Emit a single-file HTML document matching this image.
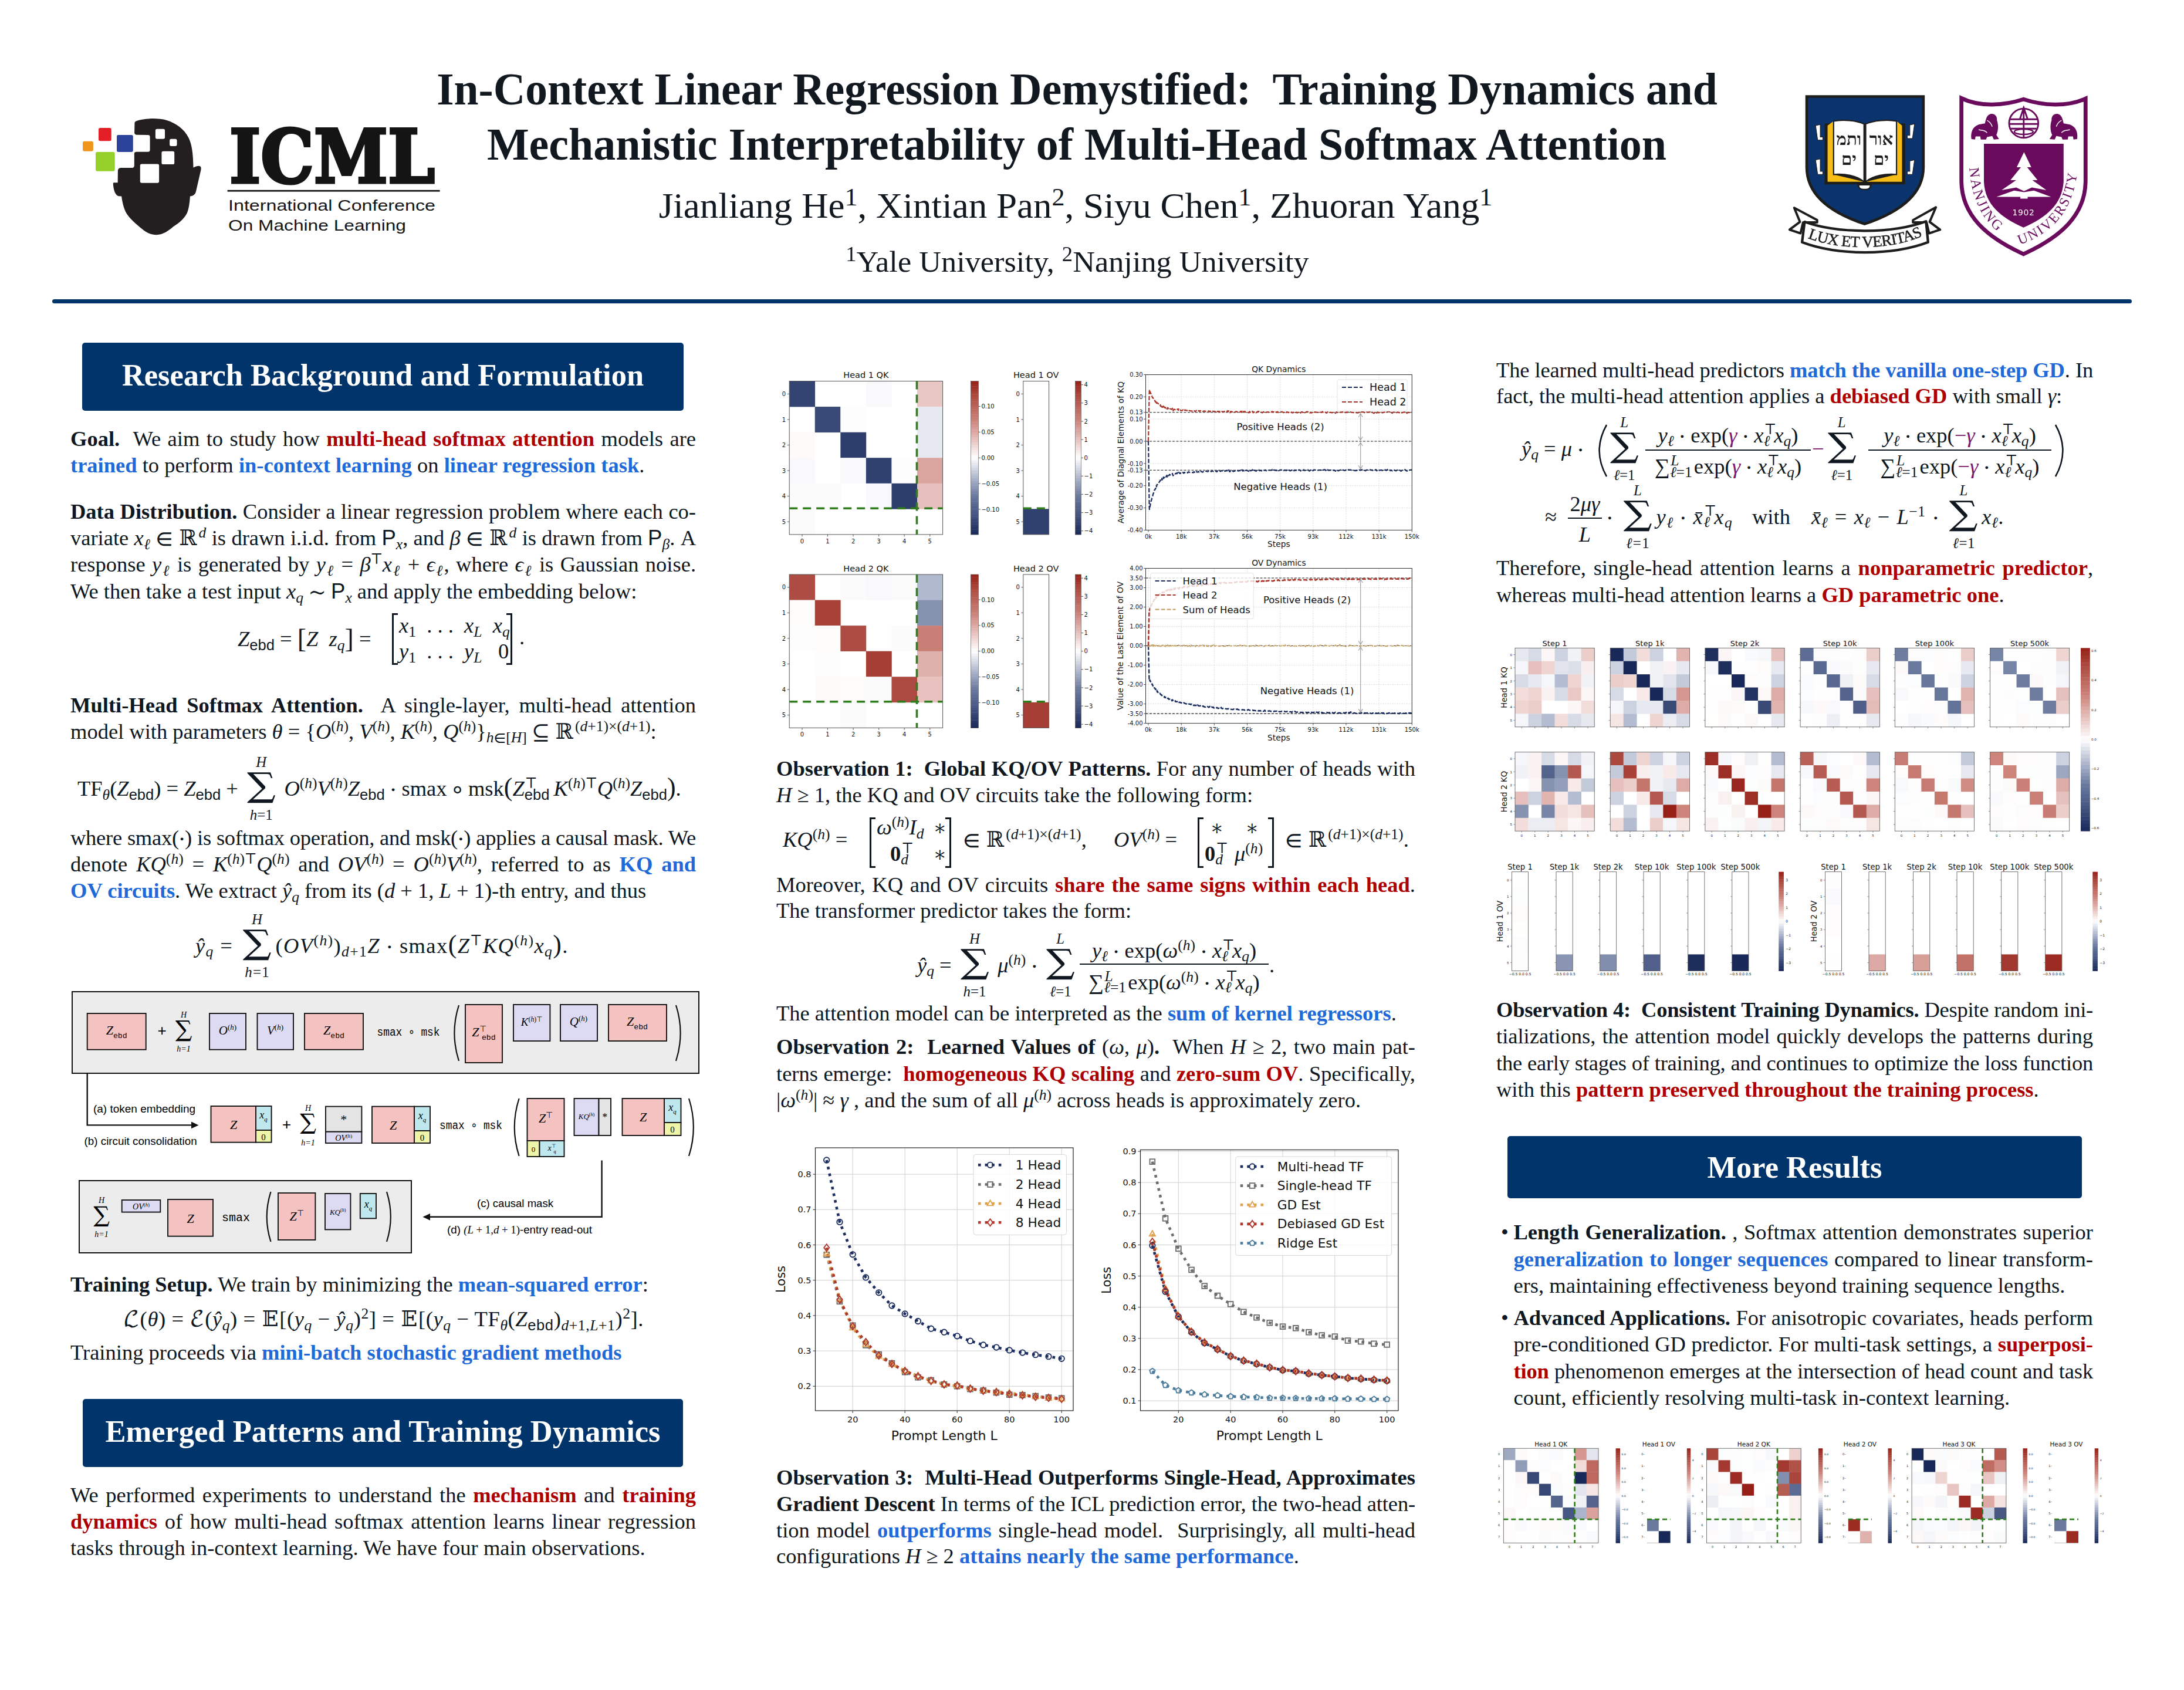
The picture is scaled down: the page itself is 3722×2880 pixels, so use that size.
<!DOCTYPE html><html><head><meta charset="utf-8"><title>Poster</title><style>
*{margin:0;padding:0;box-sizing:border-box}
html,body{width:3722px;height:2880px;overflow:hidden;background:#fff}
body{position:relative;font-family:"Liberation Serif","DejaVu Math TeX Gyre",serif;color:#0f1721}
.ln{position:absolute;white-space:nowrap}
.ln.j{text-align:justify;text-align-last:justify}
b{font-weight:bold}
.bl{color:#1f6ad8}
.rd{color:#ad0000}
i{font-style:italic}
.sp{font-size:0.7em;position:relative;top:-0.5em;line-height:0}
.sb{font-size:0.7em;position:relative;top:0.25em;line-height:0}
.ssb{display:inline-block;position:relative;line-height:0;font-size:0.7em;vertical-align:baseline}
.ssb .s1{position:absolute;left:0.05em;top:-0.84em}
.ssb .s2{position:absolute;left:0;top:-0.09em}
.bs{position:relative;line-height:0;font-family:"Liberation Serif",serif}
.bsg{font-family:"DejaVu Math TeX Gyre",serif;font-size:1.36em;display:inline-block;line-height:0;transform:scaleX(1.18);margin:0 0.12em}
.bt,.bb{position:absolute;left:-0.5em;right:-0.5em;text-align:center;font-size:0.68em;line-height:0;white-space:nowrap}
.bt{top:-0.96em}
.bb{top:2.66em}
.fr{display:inline-block;position:relative;vertical-align:middle;text-align:center;line-height:1}
.fr .fn{display:block;border-bottom:2px solid currentColor;padding:0 4px 2px}
.fr .fd{display:block;padding:2px 4px 0}
.hdr{position:absolute;background:#00346b;border-radius:5px;color:#fff;font-weight:bold;text-align:center;font-size:52.5px}
.ast{font-family:"DejaVu Math TeX Gyre",serif;font-size:0.72em;position:relative;top:-0.12em}
.sans{font-family:"Liberation Sans",sans-serif}
.mono{font-family:"Liberation Mono",monospace}
.cm{font-family:"DejaVu Math TeX Gyre","Liberation Serif",serif}
</style></head><body><div class="ln" style="left:0;width:3671px;top:107.3px;font-size:79px;line-height:90px;font-weight:bold;text-align:center;color:#111820;transform:scaleX(0.956)">In-Context Linear Regression Demystified:&nbsp; Training Dynamics and</div>
<div class="ln" style="left:0;width:3670px;top:201.3px;font-size:79px;line-height:90px;font-weight:bold;text-align:center;color:#111820;transform:scaleX(0.962)">Mechanistic Interpretability of Multi-Head Softmax Attention</div>
<div class="ln" style="left:0;width:3666px;top:315.2px;font-size:61.5px;line-height:70px;text-align:center;transform:scaleX(1.025);color:#111820">Jianliang He<span class="sp">1</span>, Xintian Pan<span class="sp">2</span>, Siyu Chen<span class="sp">1</span>, Zhuoran Yang<span class="sp">1</span></div>
<div class="ln" style="left:0;width:3672px;top:415.9px;font-size:51.5px;line-height:60px;text-align:center;color:#111820;transform:scaleX(1.016)"><span class="sp">1</span>Yale University, <span class="sp">2</span>Nanjing University</div>
<div style="position:absolute;left:89px;top:510px;width:3544px;height:7px;background:#00346b;border-radius:4px"></div>
<svg style="position:absolute;left:135px;top:195px" width="220" height="210" viewBox="0 0 1770 1690">
<path d="M760,115 C760,95 800,80 860,70 C960,52 1100,50 1200,80 C1330,120 1440,200 1500,320 C1550,420 1562,560 1565,730 C1600,712 1640,700 1660,712 C1678,726 1670,760 1660,800 L1600,1060 C1590,1100 1560,1120 1520,1122 C1515,1200 1505,1290 1480,1350 C1440,1430 1380,1480 1290,1540 C1220,1600 1150,1650 1060,1652 C980,1652 920,1620 860,1570 C780,1500 700,1440 650,1360 C610,1290 590,1200 580,1122 L540,1120 C500,1110 480,1060 470,1000 C465,960 462,940 470,935 L528,935 L530,780 C530,745 545,735 570,733 L730,733 C750,730 755,715 755,700 L755,540 C755,520 765,514 790,514 L945,514 C965,512 970,500 970,480 L970,310 C970,290 962,282 940,282 L785,280 C765,278 757,265 757,250 Z M1067,200 L1153,200 Q1175,200 1175,222 L1175,313 Q1175,335 1153,335 L1067,335 Q1045,335 1045,313 L1045,222 Q1045,200 1067,200 Z M1262,335 L1318,335 Q1340,335 1340,357 L1340,413 Q1340,435 1318,435 L1262,435 Q1240,435 1240,413 L1240,357 Q1240,335 1262,335 Z M1152,505 L1283,505 Q1305,505 1305,527 L1305,663 Q1305,685 1283,685 L1152,685 Q1130,685 1130,663 L1130,527 Q1130,505 1152,505 Z M857,680 L1073,680 Q1095,680 1095,702 L1095,918 Q1095,940 1073,940 L857,940 Q835,940 835,918 L835,702 Q835,680 857,680 Z" fill="#231f20" fill-rule="evenodd"/>
<rect x="265" y="185" width="175" height="180" rx="22" fill="#e31e24"/>
<rect x="515" y="282" width="223" height="233" rx="22" fill="#2a429a"/>
<rect x="48" y="368" width="144" height="137" rx="22" fill="#f0961b"/>
<rect x="225" y="515" width="263" height="263" rx="22" fill="#95d12a"/>
</svg>
<svg style="position:absolute;left:380px;top:205px" width="380" height="200" viewBox="380 205 380 200">
<text x="391" y="311" font-family="DejaVu Serif, serif" font-weight="bold" font-size="126" textLength="350" lengthAdjust="spacingAndGlyphs" fill="#141414" stroke="#141414" stroke-width="5" stroke-linejoin="miter">ICML</text>
<rect x="387.6" y="323.8" width="362" height="2.8" fill="#141414"/>
<text x="389" y="358.7" font-family="Liberation Sans, sans-serif" font-size="26.5" textLength="353" lengthAdjust="spacingAndGlyphs" fill="#141414">International Conference</text>
<text x="389" y="393" font-family="Liberation Sans, sans-serif" font-size="26.5" textLength="303" lengthAdjust="spacingAndGlyphs" fill="#141414">On Machine Learning</text>
</svg>
<svg style="position:absolute;left:3040px;top:150px" width="270" height="300" viewBox="0 0 1521 1690">
<path d="M220,82 L1340,82 L1340,760 C1340,1000 1150,1180 775,1305 C400,1180 220,1000 220,760 Z" fill="#0b346e" stroke="#1d1d1b" stroke-width="26" stroke-linejoin="miter"/>
<path d="M392,340 L1165,340 L1165,925 L845,925 C840,965 820,980 775,980 C730,980 710,965 705,925 L392,925 Z" fill="#1d1d1b"/>
<path d="M420,360 L475,320 L475,830 L770,900 L420,900 Z" fill="#f6bd17"/>
<path d="M1135,360 L1085,320 L1085,830 L785,900 L1135,900 Z" fill="#f6bd17"/>
<path d="M478,318 C560,300 700,310 770,345 L770,900 C700,840 580,820 478,830 Z" fill="#fff" stroke="#1d1d1b" stroke-width="12"/>
<path d="M1082,318 C1000,300 860,310 786,345 L786,900 C856,840 980,820 1082,830 Z" fill="#fff" stroke="#1d1d1b" stroke-width="12"/>
<path d="M725,935 L825,935 C825,960 810,968 775,968 C740,968 725,960 725,935 Z" fill="#fff"/>
<text x="625" y="545" font-family="Liberation Serif, serif" font-weight="bold" font-size="165" text-anchor="middle" fill="#1d1d1b">&#x05D5;&#x05EA;&#x05DE;</text>
<text x="935" y="545" font-family="Liberation Serif, serif" font-weight="bold" font-size="165" text-anchor="middle" fill="#1d1d1b">&#x05D0;&#x05D5;&#x05E8;</text>
<text x="625" y="740" font-family="Liberation Serif, serif" font-weight="bold" font-size="165" text-anchor="middle" fill="#1d1d1b">&#x05D9;&#x05DD;</text>
<text x="935" y="740" font-family="Liberation Serif, serif" font-weight="bold" font-size="165" text-anchor="middle" fill="#1d1d1b">&#x05D9;&#x05DD;</text>
<path d="M305,360 L350,350 L350,470 L375,470 L375,500 L325,500 Z" fill="#fff" stroke="#1d1d1b" stroke-width="6"/>
<path d="M305,690 L350,680 L350,800 L375,800 L375,830 L325,830 Z" fill="#fff" stroke="#1d1d1b" stroke-width="6"/>
<path d="M1255,345 L1210,355 L1210,455 L1185,455 L1185,485 L1235,485 Z" fill="#fff" stroke="#1d1d1b" stroke-width="6"/>
<path d="M1255,690 L1210,700 L1210,800 L1185,800 L1185,830 L1235,830 Z" fill="#fff" stroke="#1d1d1b" stroke-width="6"/>
<path d="M100,1150 L320,1268 L320,1290 L185,1290 L160,1395 L55,1360 L155,1285 Z" fill="#fff" stroke="#1d1d1b" stroke-width="22" stroke-linejoin="round"/>
<path d="M1460,1145 L1240,1268 L1240,1290 L1370,1290 L1395,1395 L1500,1360 L1400,1285 Z" fill="#fff" stroke="#1d1d1b" stroke-width="22" stroke-linejoin="round"/>
<path d="M200,1285 C520,1400 1040,1400 1365,1280 L1385,1480 C1040,1610 520,1610 175,1480 Z" fill="#fff" stroke="#1d1d1b" stroke-width="24" stroke-linejoin="round"/>
<defs><path id="yb" d="M230,1440 C540,1560 1020,1560 1330,1420"/></defs>
<text font-family="Liberation Serif, serif" font-size="150" fill="#1d1d1b" stroke="#1d1d1b" stroke-width="3" letter-spacing="-4"><textPath href="#yb" startOffset="50%" text-anchor="middle">LUX ET VERITAS</textPath></text>
</svg>
<svg style="position:absolute;left:3310px;top:150px" width="270" height="300" viewBox="0 0 1521 1690">
<path d="M184,98 C360,185 600,168 780,108 C960,168 1200,185 1376,102 L1376,900 C1370,1220 1140,1430 780,1594 C420,1430 190,1220 184,900 Z" fill="#fff" stroke="#6a0a5c" stroke-width="38" stroke-linejoin="miter"/>
<path d="M400,535 L1165,535 L1165,900 C1150,1120 1000,1240 780,1340 C560,1240 410,1120 400,900 Z" fill="#6a0a5c"/>
<path d="M785,615 L855,760 L815,760 L915,885 L865,885 L1000,980 L860,955 L785,990 L710,955 L570,980 L710,885 L655,885 L755,760 L715,760 Z" fill="#fff"/>
<path d="M520,1045 L690,985 L785,1000 L880,985 L1045,1045 Z" fill="#fff"/>
<rect x="750" y="1040" width="70" height="22" fill="#fff"/>
<text x="780" y="1225" font-family="DejaVu Sans, sans-serif" font-size="78" text-anchor="middle" fill="#fff" letter-spacing="4">1902</text>
<circle cx="782" cy="338" r="140" fill="none" stroke="#6a0a5c" stroke-width="16"/>
<path d="M650,300 L915,300 M640,345 L925,345 M660,390 L905,390 M782,180 L782,480 M745,300 L782,190 L820,300" fill="none" stroke="#6a0a5c" stroke-width="16"/>
<ellipse cx="782" cy="420" rx="90" ry="25" fill="none" stroke="#6a0a5c" stroke-width="14"/>
<g transform="translate(410,370) scale(1,1)"><path d="M-130,120 C-140,60 -120,0 -60,-20 L0,-30 C10,-80 20,-110 50,-120 C90,-130 120,-100 115,-60 C130,-20 130,40 110,80 L135,120 L85,125 L70,90 L20,100 L10,125 L-40,125 L-45,95 L-90,95 L-95,125 Z" fill="#6a0a5c"/><path d="M20,-60 C40,-50 60,-30 70,0 M-60,30 C-30,40 0,30 20,60" fill="none" stroke="#fff" stroke-width="8"/></g>
<g transform="translate(1165,370) scale(-1,1)"><path d="M-130,120 C-140,60 -120,0 -60,-20 L0,-30 C10,-80 20,-110 50,-120 C90,-130 120,-100 115,-60 C130,-20 130,40 110,80 L135,120 L85,125 L70,90 L20,100 L10,125 L-40,125 L-45,95 L-90,95 L-95,125 Z" fill="#6a0a5c"/><path d="M20,-60 C40,-50 60,-30 70,0 M-60,30 C-30,40 0,30 20,60" fill="none" stroke="#fff" stroke-width="8"/></g>
<defs><path id="njl" d="M255,640 C255,1150 460,1400 765,1500"/><path id="njr" d="M735,1505 C1070,1400 1305,1150 1305,640"/></defs>
<text font-family="Liberation Serif, serif" font-size="136" fill="#6a0a5c" letter-spacing="16"><textPath href="#njl" startOffset="128">NANJING</textPath></text>
<text font-family="Liberation Serif, serif" font-size="134" fill="#6a0a5c" letter-spacing="14"><textPath href="#njr" startOffset="8">UNIVERSITY</textPath></text>
</svg>
<div class="hdr" style="left:140px;top:584px;width:1025px;height:116px;line-height:110px">Research Background and Formulation</div>
<div class="ln j" id="L120_760" style="left:120.0px;top:725.2px;width:1066.0px;font-size:36.5px;line-height:45px;height:45px;"><b>Goal.</b>&nbsp; We aim to study how <b class="rd">multi-head softmax attention</b> models are</div>
<div class="ln " id="L120_805" style="left:120.0px;top:770.2px;width:1066.0px;font-size:36.5px;line-height:45px;height:45px;"><b class="bl">trained</b> to perform <b class="bl">in-context learning</b> on <b class="bl">linear regression task</b>.</div>
<div class="ln j" id="L120_884" style="left:120.0px;top:849.2px;width:1066.0px;font-size:36.5px;line-height:45px;height:45px;"><b>Data Distribution.</b> Consider a linear regression problem where each co-</div>
<div class="ln j" id="L120_929" style="left:120.0px;top:894.2px;width:1066.0px;font-size:36.5px;line-height:45px;height:45px;">variate <i>x</i><span class="sb"><i>&#x2113;</i></span> &#x2208; &#x211D;<span class="sp"><i>d</i></span> is drawn i.i.d. from <span class="sans">P</span><span class="sb"><i>x</i></span>, and <i>&#x3B2;</i> &#x2208; &#x211D;<span class="sp"><i>d</i></span> is drawn from <span class="sans">P</span><span class="sb"><i>&#x3B2;</i></span>. A</div>
<div class="ln j" id="L120_974" style="left:120.0px;top:939.2px;width:1066.0px;font-size:36.5px;line-height:45px;height:45px;">response <i>y</i><span class="sb"><i>&#x2113;</i></span> is generated by <i>y</i><span class="sb"><i>&#x2113;</i></span> = <i>&#x3B2;</i><span class="sp">&#x22A4;</span><i>x</i><span class="sb"><i>&#x2113;</i></span> + <i>&#x3F5;</i><span class="sb"><i>&#x2113;</i></span>, where <i>&#x3F5;</i><span class="sb"><i>&#x2113;</i></span> is Gaussian noise.</div>
<div class="ln " id="L120_1020" style="left:120.0px;top:985.2px;width:1066.0px;font-size:36.5px;line-height:45px;height:45px;">We then take a test input <i>x</i><span class="sb"><i>q</i></span> &#x223C; <span class="sans">P</span><span class="sb"><i>x</i></span> and apply the embedding below:</div>
<div class="ln " id="L405_1098" style="left:405.0px;top:1063.2px;width:500.0px;font-size:36.5px;line-height:45px;height:45px;"><i>Z</i><span class="sb"><span class=sans>ebd</span></span> = <span style="font-size:1.25em;position:relative;top:0.06em">[</span><i>Z</i>&nbsp; <i>z</i><span class="sb"><i>q</i></span><span style="font-size:1.25em;position:relative;top:0.06em">]</span> =</div>
<div style="position:absolute;left:668px;top:1045px;width:10px;height:88px;border:3px solid #0f1721;border-right:none"></div>
<div style="position:absolute;left:863px;top:1045px;width:10px;height:88px;border:3px solid #0f1721;border-left:none"></div>
<div class="ln " id="L680_1078" style="left:680.0px;top:1043.2px;width:190.0px;font-size:36.5px;line-height:45px;height:45px;"><i>x</i><span class="sb">1</span> &nbsp;. . . &nbsp;<i>x</i><span class="sb"><i>L</i></span> &nbsp;<i>x</i><span class="sb"><i>q</i></span></div>
<div class="ln " id="L680_1122" style="left:680.0px;top:1087.2px;width:190.0px;font-size:36.5px;line-height:45px;height:45px;"><i>y</i><span class="sb">1</span> &nbsp;. . . &nbsp;<i>y</i><span class="sb"><i>L</i></span> &nbsp;&nbsp;0</div>
<div class="ln " id="L885_1098" style="left:885.0px;top:1063.2px;width:20.0px;font-size:36.5px;line-height:45px;height:45px;">.</div>
<div class="ln j" id="L120_1214" style="left:120.0px;top:1179.2px;width:1066.0px;font-size:36.5px;line-height:45px;height:45px;"><b>Multi-Head Softmax Attention.</b>&nbsp; A single-layer, multi-head attention</div>
<div class="ln " id="L120_1258" style="left:120.0px;top:1223.7px;width:1066.0px;font-size:36.5px;line-height:45px;height:45px;">model with parameters <i>&#x3B8;</i> = {<i>O</i><span class="sp">(<i>h</i>)</span>, <i>V</i><span class="sp">(<i>h</i>)</span>, <i>K</i><span class="sp">(<i>h</i>)</span>, <i>Q</i><span class="sp">(<i>h</i>)</span>}<span class="sb"><i>h</i>&#x2208;[<i>H</i>]</span> &#x2286; &#x211D;<span class="sp">(<i>d</i>+1)&#x00D7;(<i>d</i>+1)</span>:</div>
<div class="ln " id="L132_1354" style="left:132.0px;top:1319.2px;width:1060.0px;font-size:36.5px;line-height:45px;height:45px;">TF<span class="sb"><i>&#x3B8;</i></span>(<i>Z</i><span class="sb"><span class=sans>ebd</span></span>) = <i>Z</i><span class="sb"><span class=sans>ebd</span></span> + <span class="bs"><span class="bsg">&#x2211;</span><span class="bt"><i>H</i></span><span class="bb"><i>h</i>=1</span></span> <i>O</i><span class="sp">(<i>h</i>)</span><i>V</i><span class="sp">(<i>h</i>)</span><i>Z</i><span class="sb"><span class=sans>ebd</span></span> &#x22C5; smax &#x2218; msk<span style="font-size:1.2em">(</span><i>Z</i><span class="ssb" style="width:1.95em"><span class="s1">&#x22A4;</span><span class="s2"><span class=sans>ebd</span></span></span><i>K</i><span class="sp">(<i>h</i>)&#x22A4;</span><i>Q</i><span class="sp">(<i>h</i>)</span><i>Z</i><span class="sb"><span class=sans>ebd</span></span><span style="font-size:1.2em">)</span>.</div>
<div class="ln j" id="L120_1439" style="left:120.0px;top:1404.7px;width:1066.0px;font-size:36.5px;line-height:45px;height:45px;letter-spacing:-0.265px;">where smax(&#x22C5;) is softmax operation, and msk(&#x22C5;) applies a causal mask. We</div>
<div class="ln j" id="L120_1484" style="left:120.0px;top:1449.8px;width:1066.0px;font-size:36.5px;line-height:45px;height:45px;">denote <i>KQ</i><span class="sp">(<i>h</i>)</span> = <i>K</i><span class="sp">(<i>h</i>)&#x22A4;</span><i>Q</i><span class="sp">(<i>h</i>)</span> and <i>OV</i><span class="sp">(<i>h</i>)</span> = <i>O</i><span class="sp">(<i>h</i>)</span><i>V</i><span class="sp">(<i>h</i>)</span>, referred to as <b class="bl">KQ and</b></div>
<div class="ln " id="L120_1530" style="left:120.0px;top:1495.2px;width:1066.0px;font-size:36.5px;line-height:45px;height:45px;"><b class="bl">OV circuits</b>. We extract <i>&#375;</i><span class="sb"><i>q</i></span> from its (<i>d</i> + 1, <i>L</i> + 1)-th entry, and thus</div>
<div class="ln " id="L333_1621" style="left:333.0px;top:1586.7px;width:800.0px;font-size:36.5px;line-height:45px;height:45px;letter-spacing:1.4px"><i>&#375;</i><span class="sb"><i>q</i></span> = <span class="bs"><span class="bsg">&#x2211;</span><span class="bt"><i>H</i></span><span class="bb"><i>h</i>=1</span></span>(<i>OV</i><span class="sp">(<i>h</i>)</span>)<span class="sb"><i>d</i>+1</span><i>Z</i> &#x22C5; smax<span style="font-size:1.2em">(</span><i>Z</i><span class="sp">&#x22A4;</span><i>KQ</i><span class="sp">(<i>h</i>)</span><i>x</i><span class="sb"><i>q</i></span><span style="font-size:1.2em">)</span>.</div>
<div class="ln " id="L120_2201" style="left:120.0px;top:2166.2px;width:1066.0px;font-size:36.5px;line-height:45px;height:45px;"><b>Training Setup.</b> We train by minimizing the <b class="bl">mean-squared error</b>:</div>
<div class="ln " id="L210_2260" style="left:210.0px;top:2225.2px;width:900.0px;font-size:36.5px;line-height:45px;height:45px;letter-spacing:0.6px"><span class="cm">&#x2112;</span>(<i>&#x3B8;</i>) = <span class="cm">&#x2130;</span>(<i>&#375;</i><span class="sb"><i>q</i></span>) = <span class="cm">&#x1D53C;</span>[(<i>y</i><span class="sb"><i>q</i></span> &#x2212; <i>&#375;</i><span class="sb"><i>q</i></span>)<span class="sp">2</span>] = <span class="cm">&#x1D53C;</span>[(<i>y</i><span class="sb"><i>q</i></span> &#x2212; TF<span class="sb"><i>&#x3B8;</i></span>(<i>Z</i><span class="sb"><span class=sans>ebd</span></span>)<span class="sb"><i>d</i>+1,<i>L</i>+1</span>)<span class="sp">2</span>].</div>
<div class="ln " id="L120_2317" style="left:120.0px;top:2282.2px;width:1066.0px;font-size:36.5px;line-height:45px;height:45px;">Training proceeds via <b class="bl">mini-batch stochastic gradient methods</b></div>
<div class="hdr" style="left:141px;top:2384px;width:1023px;height:116px;line-height:110px">Emerged Patterns and Training Dynamics</div>
<div class="ln j" id="L120_2560" style="left:120.0px;top:2525.2px;width:1066.0px;font-size:36.5px;line-height:45px;height:45px;">We performed experiments to understand the <b class="rd">mechanism</b> and <b class="rd">training</b></div>
<div class="ln j" id="L120_2605" style="left:120.0px;top:2570.2px;width:1066.0px;font-size:36.5px;line-height:45px;height:45px;"><b class="rd">dynamics</b> of how multi-head softmax attention learns linear regression</div>
<div class="ln " id="L120_2650" style="left:120.0px;top:2615.2px;width:1066.0px;font-size:36.5px;line-height:45px;height:45px;">tasks through in-context learning. We have four main observations.</div>
<svg style="position:absolute;left:110px;top:1680px" width="1100" height="470" viewBox="110 1680 1100 470">
<rect x="123" y="1690" width="1068" height="139" fill="#ececec" stroke="#111" stroke-width="2"/>
<rect x="148.7" y="1727" width="100.0" height="61.7" fill="#f4c3c1" stroke="#111111" stroke-width="1.9"/>
<text x="198.7" y="1763" font-family="Liberation Serif, serif" font-size="22" text-anchor="middle"><tspan font-style="italic">Z</tspan><tspan font-size="13.2" font-family="Liberation Mono, monospace" dy="5.5">ebd</tspan></text>
<text x="276" y="1765" font-family="Liberation Sans, sans-serif" font-size="26" font-style="normal" font-weight="normal" text-anchor="middle" >+</text>
<text x="313" y="1734" font-family="Liberation Serif, serif" font-size="14" font-style="italic" font-weight="normal" text-anchor="middle" >H</text>
<text x="313" y="1766" font-family="DejaVu Math TeX Gyre, serif" font-size="34" font-style="normal" font-weight="normal" text-anchor="middle" >&#x2211;</text>
<text x="313" y="1792" font-family="Liberation Serif, serif" font-size="14" font-style="italic" font-weight="normal" text-anchor="middle" >h=1</text>
<rect x="357" y="1727" width="62.0" height="61.7" fill="#dddbf3" stroke="#111111" stroke-width="1.9"/>
<text x="388" y="1763" font-family="Liberation Serif, serif" font-size="21" text-anchor="middle"><tspan font-style="italic">O</tspan><tspan font-size="13.0" dy="-8.0">(<tspan font-style="italic">h</tspan>)</tspan></text>
<rect x="438.5" y="1727" width="61.5" height="61.7" fill="#dddbf3" stroke="#111111" stroke-width="1.9"/>
<text x="469" y="1763" font-family="Liberation Serif, serif" font-size="21" text-anchor="middle"><tspan font-style="italic">V</tspan><tspan font-size="13.0" dy="-8.0">(<tspan font-style="italic">h</tspan>)</tspan></text>
<rect x="519" y="1727" width="100.0" height="61.7" fill="#f4c3c1" stroke="#111111" stroke-width="1.9"/>
<text x="569" y="1763" font-family="Liberation Serif, serif" font-size="22" text-anchor="middle"><tspan font-style="italic">Z</tspan><tspan font-size="13.2" font-family="Liberation Mono, monospace" dy="5.5">ebd</tspan></text>
<text x="696" y="1765" font-family="Liberation Mono, monospace" font-size="20" font-style="normal" font-weight="normal" text-anchor="middle" textLength="107" lengthAdjust="spacingAndGlyphs">smax &#x2218; msk</text>
<path d="M782.0,1713 Q766.8,1760.5 782.0,1808" fill="none" stroke="#111" stroke-width="2.2"/>
<rect x="793" y="1712" width="63.0" height="99.0" fill="#f4c3c1" stroke="#111111" stroke-width="1.9"/>
<text x="824.5" y="1766" font-family="Liberation Serif, serif" font-size="22" text-anchor="middle"><tspan font-style="italic">Z</tspan><tspan font-size="13.6" dy="-8.4">&#x22A4;</tspan><tspan font-size="13.2" font-family="Liberation Mono, monospace" dy="13.9" dx="-7.7">ebd</tspan></text>
<rect x="875" y="1712" width="62.4" height="62.0" fill="#dddbf3" stroke="#111111" stroke-width="1.9"/>
<text x="906" y="1748" font-family="Liberation Serif, serif" font-size="19" text-anchor="middle"><tspan font-style="italic">K</tspan><tspan font-size="11.8" dy="-7.2">(<tspan font-style="italic">h</tspan>)&#x22A4;</tspan></text>
<rect x="955" y="1712" width="63.0" height="62.0" fill="#dddbf3" stroke="#111111" stroke-width="1.9"/>
<text x="986" y="1748" font-family="Liberation Serif, serif" font-size="21" text-anchor="middle"><tspan font-style="italic">Q</tspan><tspan font-size="13.0" dy="-8.0">(<tspan font-style="italic">h</tspan>)</tspan></text>
<rect x="1037" y="1712" width="99.0" height="62.0" fill="#f4c3c1" stroke="#111111" stroke-width="1.9"/>
<text x="1086" y="1748" font-family="Liberation Serif, serif" font-size="22" text-anchor="middle"><tspan font-style="italic">Z</tspan><tspan font-size="13.2" font-family="Liberation Mono, monospace" dy="5.5">ebd</tspan></text>
<path d="M1152.0,1713 Q1167.2,1760.5 1152.0,1808" fill="none" stroke="#111" stroke-width="2.2"/>
<path d="M148.7,1829 V1917.4 H330" fill="none" stroke="#111" stroke-width="2.4"/>
<path d="M338.5,1917.4 L326,1911.5 L326,1923.3 Z" fill="#111"/>
<text x="159" y="1896" font-family="Liberation Sans, sans-serif" font-size="18" font-style="normal" font-weight="normal" text-anchor="start" textLength="174" lengthAdjust="spacingAndGlyphs">(a) token embedding</text>
<text x="143.6" y="1951" font-family="Liberation Sans, sans-serif" font-size="18" font-style="normal" font-weight="normal" text-anchor="start" textLength="192" lengthAdjust="spacingAndGlyphs">(b) circuit consolidation</text>
<rect x="359.5" y="1885" width="76.5" height="61.7" fill="#f4c3c1" stroke="#111111" stroke-width="1.9"/>
<text x="398" y="1924" font-family="Liberation Serif, serif" font-size="22" font-style="italic" font-weight="normal" text-anchor="middle" >Z</text>
<rect x="436" y="1885" width="26.6" height="41.0" fill="#bfe7ee" stroke="#111111" stroke-width="1.9"/>
<text x="449" y="1906" font-family="Liberation Serif, serif" font-size="18" text-anchor="middle"><tspan font-style="italic">x</tspan><tspan font-size="10.8" font-family="Liberation Serif, serif" font-style="italic" dy="4.5">q</tspan></text>
<rect x="436" y="1926" width="26.6" height="20.7" fill="#eef4a8" stroke="#111111" stroke-width="1.9"/>
<text x="449" y="1943" font-family="Liberation Serif, serif" font-size="15" font-style="normal" font-weight="normal" text-anchor="middle" >0</text>
<text x="488.7" y="1925" font-family="Liberation Sans, sans-serif" font-size="26" font-style="normal" font-weight="normal" text-anchor="middle" >+</text>
<text x="525" y="1893" font-family="Liberation Serif, serif" font-size="14" font-style="italic" font-weight="normal" text-anchor="middle" >H</text>
<text x="525" y="1924" font-family="DejaVu Math TeX Gyre, serif" font-size="33" font-style="normal" font-weight="normal" text-anchor="middle" >&#x2211;</text>
<text x="525" y="1952" font-family="Liberation Serif, serif" font-size="14" font-style="italic" font-weight="normal" text-anchor="middle" >h=1</text>
<rect x="555" y="1885.6" width="61.4" height="43.1" fill="#e4e4e4" stroke="#111111" stroke-width="1.9"/>
<text x="585.7" y="1915" font-family="Liberation Serif, serif" font-size="22" font-style="normal" font-weight="normal" text-anchor="middle" >*</text>
<rect x="555" y="1928.7" width="61.4" height="19.3" fill="#dddbf3" stroke="#111111" stroke-width="1.9"/>
<text x="585.7" y="1944" font-family="Liberation Serif, serif" font-size="14" text-anchor="middle"><tspan font-style="italic">OV</tspan><tspan font-size="8.7" dy="-5.3">(<tspan font-style="italic">h</tspan>)</tspan></text>
<rect x="634" y="1885.6" width="72.0" height="62.4" fill="#f4c3c1" stroke="#111111" stroke-width="1.9"/>
<text x="670" y="1925" font-family="Liberation Serif, serif" font-size="22" font-style="italic" font-weight="normal" text-anchor="middle" >Z</text>
<rect x="706" y="1885.6" width="27.0" height="41.4" fill="#bfe7ee" stroke="#111111" stroke-width="1.9"/>
<text x="719.5" y="1907" font-family="Liberation Serif, serif" font-size="18" text-anchor="middle"><tspan font-style="italic">x</tspan><tspan font-size="10.8" font-family="Liberation Serif, serif" font-style="italic" dy="4.5">q</tspan></text>
<rect x="706" y="1927" width="27.0" height="21.0" fill="#eef4a8" stroke="#111111" stroke-width="1.9"/>
<text x="719.5" y="1944" font-family="Liberation Serif, serif" font-size="15" font-style="normal" font-weight="normal" text-anchor="middle" >0</text>
<text x="802.5" y="1924" font-family="Liberation Mono, monospace" font-size="20" font-style="normal" font-weight="normal" text-anchor="middle" textLength="107" lengthAdjust="spacingAndGlyphs">smax &#x2218; msk</text>
<path d="M884.6,1872 Q868.9,1921.0 884.6,1970" fill="none" stroke="#111" stroke-width="2.2"/>
<rect x="898.5" y="1872" width="63.0" height="72.0" fill="#f4c3c1" stroke="#111111" stroke-width="1.9"/>
<text x="930" y="1913" font-family="Liberation Serif, serif" font-size="22" text-anchor="middle"><tspan font-style="italic">Z</tspan><tspan font-size="13.6" dy="-8.4">&#x22A4;</tspan></text>
<rect x="898.5" y="1944" width="21.0" height="27.0" fill="#eef4a8" stroke="#111111" stroke-width="1.9"/>
<text x="909" y="1963" font-family="Liberation Serif, serif" font-size="13" font-style="normal" font-weight="normal" text-anchor="middle" >0</text>
<rect x="919.5" y="1944" width="42.0" height="27.0" fill="#bfe7ee" stroke="#111111" stroke-width="1.9"/>
<text x="940.5" y="1961" font-family="Liberation Serif, serif" font-size="14" text-anchor="middle"><tspan font-style="italic">x</tspan><tspan font-size="8.7" dy="-5.3">&#x22A4;</tspan><tspan font-size="8.4" font-family="Liberation Serif, serif" font-style="italic" dy="8.8" dx="-4.2">q</tspan></text>
<rect x="978.5" y="1872" width="42.0" height="63.0" fill="#dddbf3" stroke="#111111" stroke-width="1.9"/>
<text x="999.5" y="1907" font-family="Liberation Serif, serif" font-size="13" text-anchor="middle"><tspan font-style="italic">KQ</tspan><tspan font-size="8.1" dy="-4.9">(<tspan font-style="italic">h</tspan>)</tspan></text>
<rect x="1020.5" y="1872" width="20.5" height="63.0" fill="#e4e4e4" stroke="#111111" stroke-width="1.9"/>
<text x="1030.7" y="1910" font-family="Liberation Serif, serif" font-size="18" font-style="normal" font-weight="normal" text-anchor="middle" >*</text>
<rect x="1060.5" y="1872" width="71.5" height="63.0" fill="#f4c3c1" stroke="#111111" stroke-width="1.9"/>
<text x="1096" y="1911" font-family="Liberation Serif, serif" font-size="22" font-style="italic" font-weight="normal" text-anchor="middle" >Z</text>
<rect x="1132" y="1872" width="28.5" height="41.0" fill="#bfe7ee" stroke="#111111" stroke-width="1.9"/>
<text x="1146" y="1893" font-family="Liberation Serif, serif" font-size="18" text-anchor="middle"><tspan font-style="italic">x</tspan><tspan font-size="10.8" font-family="Liberation Serif, serif" font-style="italic" dy="4.5">q</tspan></text>
<rect x="1132" y="1913" width="28.5" height="22.0" fill="#eef4a8" stroke="#111111" stroke-width="1.9"/>
<text x="1146" y="1930" font-family="Liberation Serif, serif" font-size="15" font-style="normal" font-weight="normal" text-anchor="middle" >0</text>
<path d="M1174.0,1872 Q1189.7,1921.0 1174.0,1970" fill="none" stroke="#111" stroke-width="2.2"/>
<path d="M1025.6,1977.4 V2073.8 H730" fill="none" stroke="#111" stroke-width="2.4"/>
<path d="M720.5,2073.8 L733,2067.9 L733,2079.7 Z" fill="#111"/>
<text x="813" y="2057" font-family="Liberation Sans, sans-serif" font-size="18" font-style="normal" font-weight="normal" text-anchor="start" textLength="130" lengthAdjust="spacingAndGlyphs">(c) causal mask</text>
<text x="762" y="2102" font-family="Liberation Sans, sans-serif" font-size="18" text-anchor="start" textLength="247" lengthAdjust="spacingAndGlyphs">(d) <tspan font-family="Liberation Serif, serif" font-style="italic">(L</tspan><tspan font-family="Liberation Serif, serif"> + 1,</tspan><tspan font-family="Liberation Serif, serif" font-style="italic">d</tspan><tspan font-family="Liberation Serif, serif"> + 1)</tspan>-entry read-out</text>
<rect x="135" y="2012" width="566" height="123" fill="#ececec" stroke="#111" stroke-width="2"/>
<text x="173" y="2050" font-family="Liberation Serif, serif" font-size="14" font-style="italic" font-weight="normal" text-anchor="middle" >H</text>
<text x="173" y="2082" font-family="DejaVu Math TeX Gyre, serif" font-size="33" font-style="normal" font-weight="normal" text-anchor="middle" >&#x2211;</text>
<text x="173" y="2108" font-family="Liberation Serif, serif" font-size="14" font-style="italic" font-weight="normal" text-anchor="middle" >h=1</text>
<rect x="207.7" y="2045" width="65.6" height="20.6" fill="#dddbf3" stroke="#111111" stroke-width="1.9"/>
<text x="240.5" y="2061" font-family="Liberation Serif, serif" font-size="14" text-anchor="middle"><tspan font-style="italic">OV</tspan><tspan font-size="8.7" dy="-5.3">(<tspan font-style="italic">h</tspan>)</tspan></text>
<rect x="286" y="2044" width="77.0" height="62.7" fill="#f4c3c1" stroke="#111111" stroke-width="1.9"/>
<text x="324.5" y="2084" font-family="Liberation Serif, serif" font-size="22" font-style="italic" font-weight="normal" text-anchor="middle" >Z</text>
<text x="402" y="2081" font-family="Liberation Mono, monospace" font-size="20" font-style="normal" font-weight="normal" text-anchor="middle" >smax</text>
<path d="M461.5,2031 Q447.9,2073.5 461.5,2116" fill="none" stroke="#111" stroke-width="2.2"/>
<rect x="474" y="2033" width="63.4" height="80.0" fill="#f4c3c1" stroke="#111111" stroke-width="1.9"/>
<text x="505.7" y="2080" font-family="Liberation Serif, serif" font-size="22" text-anchor="middle"><tspan font-style="italic">Z</tspan><tspan font-size="13.6" dy="-8.4">&#x22A4;</tspan></text>
<rect x="554" y="2034" width="43.4" height="61.4" fill="#dddbf3" stroke="#111111" stroke-width="1.9"/>
<text x="575.7" y="2070" font-family="Liberation Serif, serif" font-size="13" text-anchor="middle"><tspan font-style="italic">KQ</tspan><tspan font-size="8.1" dy="-4.9">(<tspan font-style="italic">h</tspan>)</tspan></text>
<rect x="613.8" y="2034" width="27.2" height="42.4" fill="#bfe7ee" stroke="#111111" stroke-width="1.9"/>
<text x="627.4" y="2058" font-family="Liberation Serif, serif" font-size="18" text-anchor="middle"><tspan font-style="italic">x</tspan><tspan font-size="10.8" font-family="Liberation Serif, serif" font-style="italic" dy="4.5">q</tspan></text>
<path d="M659.0,2031 Q672.6,2073.5 659.0,2116" fill="none" stroke="#111" stroke-width="2.2"/>
</svg>
<div class="ln j" id="L1323_1322" style="left:1323.0px;top:1287.2px;width:1089.0px;font-size:36.5px;line-height:45px;height:45px;"><b>Observation 1:&nbsp; Global KQ/OV Patterns.</b> For any number of heads with</div>
<div class="ln " id="L1323_1367" style="left:1323.0px;top:1332.2px;width:1089.0px;font-size:36.5px;line-height:45px;height:45px;"><i>H</i> &#x2265; 1, the KQ and OV circuits take the following form:</div>
<div class="ln " id="L1334_1443" style="left:1334.0px;top:1408.2px;width:160.0px;font-size:36.5px;line-height:45px;height:45px;"><i>KQ</i><span class="sp">(<i>h</i>)</span> =</div>
<div style="position:absolute;left:1482px;top:1393px;width:10px;height:86px;border:3px solid #0f1721;border-right:none"></div>
<div style="position:absolute;left:1611px;top:1393px;width:10px;height:86px;border:3px solid #0f1721;border-left:none"></div>
<div class="ln " id="L1494_1422" style="left:1494.0px;top:1387.2px;width:100.0px;font-size:36.5px;line-height:45px;height:45px;"><i>&#x3C9;</i><span class="sp">(<i>h</i>)</span><i>I</i><span class="sb"><i>d</i></span></div>
<div class="ln " id="L1592_1422" style="left:1592.0px;top:1387.2px;width:20.0px;font-size:36.5px;line-height:45px;height:45px;"><span class="ast">&#x2217;</span></div>
<div class="ln " id="L1517_1467" style="left:1517.0px;top:1432.2px;width:60.0px;font-size:36.5px;line-height:45px;height:45px;"><b>0</b><span class="ssb" style="width:0.8em"><span class="s1">&#x22A4;</span><span class="s2"><i>d</i></span></span></div>
<div class="ln " id="L1592_1467" style="left:1592.0px;top:1432.2px;width:20.0px;font-size:36.5px;line-height:45px;height:45px;"><span class="ast">&#x2217;</span></div>
<div class="ln " id="L1641_1443" style="left:1641.0px;top:1408.2px;width:220.0px;font-size:36.5px;line-height:45px;height:45px;">&#x2208; &#x211D;<span class="sp">(<i>d</i>+1)&#x00D7;(<i>d</i>+1)</span>,</div>
<div class="ln " id="L1898_1443" style="left:1898.0px;top:1408.2px;width:140.0px;font-size:36.5px;line-height:45px;height:45px;"><i>OV</i><span class="sp">(<i>h</i>)</span> =</div>
<div style="position:absolute;left:2041px;top:1393px;width:10px;height:86px;border:3px solid #0f1721;border-right:none"></div>
<div style="position:absolute;left:2161px;top:1393px;width:10px;height:86px;border:3px solid #0f1721;border-left:none"></div>
<div class="ln " id="L2064_1422" style="left:2064.0px;top:1387.2px;width:20.0px;font-size:36.5px;line-height:45px;height:45px;"><span class="ast">&#x2217;</span></div>
<div class="ln " id="L2124_1422" style="left:2124.0px;top:1387.2px;width:20.0px;font-size:36.5px;line-height:45px;height:45px;"><span class="ast">&#x2217;</span></div>
<div class="ln " id="L2053_1467" style="left:2053.0px;top:1432.2px;width:60.0px;font-size:36.5px;line-height:45px;height:45px;"><b>0</b><span class="ssb" style="width:0.8em"><span class="s1">&#x22A4;</span><span class="s2"><i>d</i></span></span></div>
<div class="ln " id="L2104_1467" style="left:2104.0px;top:1432.2px;width:60.0px;font-size:36.5px;line-height:45px;height:45px;"><i>&#x3BC;</i><span class="sp">(<i>h</i>)</span></div>
<div class="ln " id="L2190_1443" style="left:2190.0px;top:1408.2px;width:220.0px;font-size:36.5px;line-height:45px;height:45px;">&#x2208; &#x211D;<span class="sp">(<i>d</i>+1)&#x00D7;(<i>d</i>+1)</span>.</div>
<div class="ln j" id="L1323_1519" style="left:1323.0px;top:1484.8px;width:1089.0px;font-size:36.5px;line-height:45px;height:45px;">Moreover, KQ and OV circuits <b class="rd">share the same signs within each head</b>.</div>
<div class="ln " id="L1323_1564" style="left:1323.0px;top:1529.2px;width:1089.0px;font-size:36.5px;line-height:45px;height:45px;">The transformer predictor takes the form:</div>
<div class="ln " id="L1563_1656" style="left:1563.0px;top:1621.7px;width:300.0px;font-size:36.5px;line-height:45px;height:45px;"><i>&#375;</i><span class="sb"><i>q</i></span> = <span class="bs"><span class="bsg">&#x2211;</span><span class="bt"><i>H</i></span><span class="bb"><i>h</i>=1</span></span> <i>&#x3BC;</i><span class="sp">(<i>h</i>)</span> &#x22C5; <span class="bs"><span class="bsg">&#x2211;</span><span class="bt"><i>L</i></span><span class="bb"><i>&#x2113;</i>=1</span></span></div>
<div style="position:absolute;left:1840px;top:1642px;width:322px;height:2.4px;background:#0f1721"></div>
<div class="ln " id="L1840_1631" style="left:1840.0px;top:1597.0px;width:322.0px;font-size:36.5px;line-height:45px;height:45px;text-align:center"><i>y</i><span class="sb"><i>&#x2113;</i></span> &#x22C5; exp(<i>&#x3C9;</i><span class="sp">(<i>h</i>)</span> &#x22C5; <i>x</i><span class="ssb" style="width:0.7em"><span class="s1">&#x22A4;</span><span class="s2"><i>&#x2113;</i></span></span><i>x</i><span class="sb"><i>q</i></span>)</div>
<div class="ln " id="L1840_1685" style="left:1840.0px;top:1650.7px;width:322.0px;font-size:36.5px;line-height:45px;height:45px;text-align:center">&#x2211;<span class="ssb" style="width:1.6em"><span class="s1"><i>L</i></span><span class="s2"><i>&#x2113;</i>=1</span></span>exp(<i>&#x3C9;</i><span class="sp">(<i>h</i>)</span> &#x22C5; <i>x</i><span class="ssb" style="width:0.7em"><span class="s1">&#x22A4;</span><span class="s2"><i>&#x2113;</i></span></span><i>x</i><span class="sb"><i>q</i></span>)</div>
<div class="ln " id="L2163_1656" style="left:2163.0px;top:1621.7px;width:20.0px;font-size:36.5px;line-height:45px;height:45px;">.</div>
<div class="ln " id="L1323_1739" style="left:1323.0px;top:1704.2px;width:1089.0px;font-size:36.5px;line-height:45px;height:45px;">The attention model can be interpreted as the <b class="bl">sum of kernel regressors</b>.</div>
<div class="ln j" id="L1323_1796" style="left:1323.0px;top:1761.2px;width:1089.0px;font-size:36.5px;line-height:45px;height:45px;"><b>Observation 2:&nbsp; Learned Values of</b> (<i>&#x3C9;</i>, <i>&#x3BC;</i>)<b>.</b>&nbsp; When <i>H</i> &#x2265; 2, two main pat-</div>
<div class="ln j" id="L1323_1842" style="left:1323.0px;top:1807.2px;width:1089.0px;font-size:36.5px;line-height:45px;height:45px;">terns emerge:&nbsp; <b class="rd">homogeneous KQ scaling</b> and <b class="rd">zero-sum OV</b>. Specifically,</div>
<div class="ln " id="L1323_1886" style="left:1323.0px;top:1851.8px;width:1089.0px;font-size:36.5px;line-height:45px;height:45px;">|<i>&#x3C9;</i><span class="sp">(<i>h</i>)</span>| &#x2248; <i>&#x3B3;</i> , and the sum of all <i>&#x3BC;</i><span class="sp">(<i>h</i>)</span> across heads is approximately zero.</div>
<div class="ln j" id="L1323_2530" style="left:1323.0px;top:2495.2px;width:1089.0px;font-size:36.5px;line-height:45px;height:45px;"><b>Observation 3:&nbsp; Multi-Head Outperforms Single-Head, Approximates</b></div>
<div class="ln j" id="L1323_2575" style="left:1323.0px;top:2540.2px;width:1089.0px;font-size:36.5px;line-height:45px;height:45px;letter-spacing:-0.150px;"><b>Gradient Descent</b> In terms of the ICL prediction error, the two-head atten-</div>
<div class="ln j" id="L1323_2619" style="left:1323.0px;top:2584.7px;width:1089.0px;font-size:36.5px;line-height:45px;height:45px;">tion model <b class="bl">outperforms</b> single-head model.&nbsp; Surprisingly, all multi-head</div>
<div class="ln " id="L1323_2664" style="left:1323.0px;top:2629.2px;width:1089.0px;font-size:36.5px;line-height:45px;height:45px;">configurations <i>H</i> &#x2265; 2 <b class="bl">attains nearly the same performance</b>.</div>
<svg style="position:absolute;left:1320px;top:600px" width="1110" height="680" viewBox="1320 600 1110 680">
<text x="1475.9" y="644.0" font-family="DejaVu Sans, sans-serif" font-size="14.5" text-anchor="middle" fill="#111" >Head 1 QK</text><rect x="1345.20" y="649.50" width="43.87" height="43.87" fill="#344472"/><rect x="1475.90" y="649.50" width="43.87" height="43.87" fill="#f9f9fb"/><rect x="1563.03" y="649.50" width="43.87" height="43.87" fill="#e9c7c4"/><rect x="1388.77" y="693.07" width="43.87" height="43.87" fill="#3a4a77"/><rect x="1432.33" y="693.07" width="43.87" height="43.87" fill="#fefdfd"/><rect x="1563.03" y="693.07" width="43.87" height="43.87" fill="#e6e9f0"/><rect x="1345.20" y="736.63" width="43.87" height="43.87" fill="#fdfaf9"/><rect x="1432.33" y="736.63" width="43.87" height="43.87" fill="#2e3e6c"/><rect x="1563.03" y="736.63" width="43.87" height="43.87" fill="#e6e9f0"/><rect x="1345.20" y="780.20" width="43.87" height="43.87" fill="#f9f9fb"/><rect x="1432.33" y="780.20" width="43.87" height="43.87" fill="#f9f9fb"/><rect x="1475.90" y="780.20" width="43.87" height="43.87" fill="#31416f"/><rect x="1519.47" y="780.20" width="43.87" height="43.87" fill="#fefdfd"/><rect x="1563.03" y="780.20" width="43.87" height="43.87" fill="#daa59f"/><rect x="1345.20" y="823.77" width="43.87" height="43.87" fill="#fbfbfc"/><rect x="1388.77" y="823.77" width="43.87" height="43.87" fill="#fbfbfc"/><rect x="1475.90" y="823.77" width="43.87" height="43.87" fill="#f9f9fb"/><rect x="1519.47" y="823.77" width="43.87" height="43.87" fill="#2e3e6c"/><rect x="1563.03" y="823.77" width="43.87" height="43.87" fill="#e6c0bc"/><rect x="1345.20" y="867.33" width="43.87" height="43.87" fill="#fbfbfc"/><rect x="1345.2" y="649.5" width="261.4" height="261.4" fill="none" stroke="#555" stroke-width="1.0"/><line x1="1341.7" y1="671.3" x2="1345.2" y2="671.3" stroke="#333" stroke-width="0.8"/><text x="1339.2" y="674.9" font-family="DejaVu Sans, sans-serif" font-size="10" text-anchor="end" fill="#111" >0</text><line x1="1367.0" y1="910.9" x2="1367.0" y2="914.4" stroke="#333" stroke-width="0.8"/><text x="1367.0" y="925.9" font-family="DejaVu Sans, sans-serif" font-size="10" text-anchor="middle" fill="#111" >0</text><line x1="1341.7" y1="714.9" x2="1345.2" y2="714.9" stroke="#333" stroke-width="0.8"/><text x="1339.2" y="718.5" font-family="DejaVu Sans, sans-serif" font-size="10" text-anchor="end" fill="#111" >1</text><line x1="1410.5" y1="910.9" x2="1410.5" y2="914.4" stroke="#333" stroke-width="0.8"/><text x="1410.5" y="925.9" font-family="DejaVu Sans, sans-serif" font-size="10" text-anchor="middle" fill="#111" >1</text><line x1="1341.7" y1="758.4" x2="1345.2" y2="758.4" stroke="#333" stroke-width="0.8"/><text x="1339.2" y="762.0" font-family="DejaVu Sans, sans-serif" font-size="10" text-anchor="end" fill="#111" >2</text><line x1="1454.1" y1="910.9" x2="1454.1" y2="914.4" stroke="#333" stroke-width="0.8"/><text x="1454.1" y="925.9" font-family="DejaVu Sans, sans-serif" font-size="10" text-anchor="middle" fill="#111" >2</text><line x1="1341.7" y1="802.0" x2="1345.2" y2="802.0" stroke="#333" stroke-width="0.8"/><text x="1339.2" y="805.6" font-family="DejaVu Sans, sans-serif" font-size="10" text-anchor="end" fill="#111" >3</text><line x1="1497.7" y1="910.9" x2="1497.7" y2="914.4" stroke="#333" stroke-width="0.8"/><text x="1497.7" y="925.9" font-family="DejaVu Sans, sans-serif" font-size="10" text-anchor="middle" fill="#111" >3</text><line x1="1341.7" y1="845.5" x2="1345.2" y2="845.5" stroke="#333" stroke-width="0.8"/><text x="1339.2" y="849.1" font-family="DejaVu Sans, sans-serif" font-size="10" text-anchor="end" fill="#111" >4</text><line x1="1541.2" y1="910.9" x2="1541.2" y2="914.4" stroke="#333" stroke-width="0.8"/><text x="1541.2" y="925.9" font-family="DejaVu Sans, sans-serif" font-size="10" text-anchor="middle" fill="#111" >4</text><line x1="1341.7" y1="889.1" x2="1345.2" y2="889.1" stroke="#333" stroke-width="0.8"/><text x="1339.2" y="892.7" font-family="DejaVu Sans, sans-serif" font-size="10" text-anchor="end" fill="#111" >5</text><line x1="1584.8" y1="910.9" x2="1584.8" y2="914.4" stroke="#333" stroke-width="0.8"/><text x="1584.8" y="925.9" font-family="DejaVu Sans, sans-serif" font-size="10" text-anchor="middle" fill="#111" >5</text><line x1="1345.2" y1="866.3" x2="1606.6" y2="866.3" stroke="#2f7d1c" stroke-width="3.6" stroke-dasharray="14,9"/><line x1="1562.5" y1="649.5" x2="1562.5" y2="910.9" stroke="#2f7d1c" stroke-width="3.6" stroke-dasharray="14,9"/><rect x="1654.4" y="649.50" width="13.1" height="4.76" fill="#98241b"/><rect x="1654.4" y="653.86" width="13.1" height="4.76" fill="#9c2b22"/><rect x="1654.4" y="658.21" width="13.1" height="4.76" fill="#9f3229"/><rect x="1654.4" y="662.57" width="13.1" height="4.76" fill="#a33930"/><rect x="1654.4" y="666.93" width="13.1" height="4.76" fill="#a74037"/><rect x="1654.4" y="671.28" width="13.1" height="4.76" fill="#ab473d"/><rect x="1654.4" y="675.64" width="13.1" height="4.76" fill="#ae4e44"/><rect x="1654.4" y="680.00" width="13.1" height="4.76" fill="#b2554b"/><rect x="1654.4" y="684.35" width="13.1" height="4.76" fill="#b55b51"/><rect x="1654.4" y="688.71" width="13.1" height="4.76" fill="#b86057"/><rect x="1654.4" y="693.07" width="13.1" height="4.76" fill="#bc665d"/><rect x="1654.4" y="697.42" width="13.1" height="4.76" fill="#bf6c62"/><rect x="1654.4" y="701.78" width="13.1" height="4.76" fill="#c27268"/><rect x="1654.4" y="706.14" width="13.1" height="4.76" fill="#c5776e"/><rect x="1654.4" y="710.49" width="13.1" height="4.76" fill="#c87d74"/><rect x="1654.4" y="714.85" width="13.1" height="4.76" fill="#cc847b"/><rect x="1654.4" y="719.21" width="13.1" height="4.76" fill="#cf8c84"/><rect x="1654.4" y="723.56" width="13.1" height="4.76" fill="#d3958d"/><rect x="1654.4" y="727.92" width="13.1" height="4.76" fill="#d79d96"/><rect x="1654.4" y="732.28" width="13.1" height="4.76" fill="#daa59f"/><rect x="1654.4" y="736.63" width="13.1" height="4.76" fill="#deada8"/><rect x="1654.4" y="740.99" width="13.1" height="4.76" fill="#e1b6b1"/><rect x="1654.4" y="745.35" width="13.1" height="4.76" fill="#e5beba"/><rect x="1654.4" y="749.70" width="13.1" height="4.76" fill="#e8c7c3"/><rect x="1654.4" y="754.06" width="13.1" height="4.76" fill="#eccfcc"/><rect x="1654.4" y="758.42" width="13.1" height="4.76" fill="#efd8d6"/><rect x="1654.4" y="762.77" width="13.1" height="4.76" fill="#f3e1df"/><rect x="1654.4" y="767.13" width="13.1" height="4.76" fill="#f6e9e8"/><rect x="1654.4" y="771.49" width="13.1" height="4.76" fill="#faf2f1"/><rect x="1654.4" y="775.84" width="13.1" height="4.76" fill="#fdfbfa"/><rect x="1654.4" y="780.20" width="13.1" height="4.76" fill="#fafafc"/><rect x="1654.4" y="784.56" width="13.1" height="4.76" fill="#f0f1f5"/><rect x="1654.4" y="788.91" width="13.1" height="4.76" fill="#e5e8ef"/><rect x="1654.4" y="793.27" width="13.1" height="4.76" fill="#dbdfe9"/><rect x="1654.4" y="797.63" width="13.1" height="4.76" fill="#d1d6e2"/><rect x="1654.4" y="801.98" width="13.1" height="4.76" fill="#c7ccdc"/><rect x="1654.4" y="806.34" width="13.1" height="4.76" fill="#bcc3d5"/><rect x="1654.4" y="810.70" width="13.1" height="4.76" fill="#b2bacf"/><rect x="1654.4" y="815.05" width="13.1" height="4.76" fill="#a8b1c8"/><rect x="1654.4" y="819.41" width="13.1" height="4.76" fill="#9fa8c2"/><rect x="1654.4" y="823.77" width="13.1" height="4.76" fill="#95a0bb"/><rect x="1654.4" y="828.12" width="13.1" height="4.76" fill="#8b97b4"/><rect x="1654.4" y="832.48" width="13.1" height="4.76" fill="#818eae"/><rect x="1654.4" y="836.84" width="13.1" height="4.76" fill="#7885a7"/><rect x="1654.4" y="841.19" width="13.1" height="4.76" fill="#6e7ca0"/><rect x="1654.4" y="845.55" width="13.1" height="4.76" fill="#67769b"/><rect x="1654.4" y="849.91" width="13.1" height="4.76" fill="#627197"/><rect x="1654.4" y="854.26" width="13.1" height="4.76" fill="#5d6c93"/><rect x="1654.4" y="858.62" width="13.1" height="4.76" fill="#58678f"/><rect x="1654.4" y="862.98" width="13.1" height="4.76" fill="#53628c"/><rect x="1654.4" y="867.33" width="13.1" height="4.76" fill="#4e5e88"/><rect x="1654.4" y="871.69" width="13.1" height="4.76" fill="#495984"/><rect x="1654.4" y="876.05" width="13.1" height="4.76" fill="#445480"/><rect x="1654.4" y="880.40" width="13.1" height="4.76" fill="#3e4e7b"/><rect x="1654.4" y="884.76" width="13.1" height="4.76" fill="#384875"/><rect x="1654.4" y="889.12" width="13.1" height="4.76" fill="#324270"/><rect x="1654.4" y="893.47" width="13.1" height="4.76" fill="#2d3d6b"/><rect x="1654.4" y="897.83" width="13.1" height="4.76" fill="#273765"/><rect x="1654.4" y="902.19" width="13.1" height="4.76" fill="#213160"/><rect x="1654.4" y="906.54" width="13.1" height="4.76" fill="#1b2b5b"/><rect x="1654.4" y="649.5" width="13.1" height="261.4" fill="none" stroke="#555" stroke-width="0.6"/><line x1="1667.5" y1="692.5" x2="1670.9" y2="692.5" stroke="#333" stroke-width="0.8"/><text x="1672.4" y="696.1" font-family="DejaVu Sans, sans-serif" font-size="10" text-anchor="start" fill="#111" >0.10</text><line x1="1667.5" y1="736.3" x2="1670.9" y2="736.3" stroke="#333" stroke-width="0.8"/><text x="1672.4" y="739.9" font-family="DejaVu Sans, sans-serif" font-size="10" text-anchor="start" fill="#111" >0.05</text><line x1="1667.5" y1="780.2" x2="1670.9" y2="780.2" stroke="#333" stroke-width="0.8"/><text x="1672.4" y="783.8" font-family="DejaVu Sans, sans-serif" font-size="10" text-anchor="start" fill="#111" >0.00</text><line x1="1667.5" y1="824.1" x2="1670.9" y2="824.1" stroke="#333" stroke-width="0.8"/><text x="1672.4" y="827.7" font-family="DejaVu Sans, sans-serif" font-size="10" text-anchor="start" fill="#111" >&#x2212;0.05</text><line x1="1667.5" y1="867.9" x2="1670.9" y2="867.9" stroke="#333" stroke-width="0.8"/><text x="1672.4" y="871.5" font-family="DejaVu Sans, sans-serif" font-size="10" text-anchor="start" fill="#111" >&#x2212;0.10</text><text x="1765.7" y="644.0" font-family="DejaVu Sans, sans-serif" font-size="14.5" text-anchor="middle" fill="#111" >Head 1 OV</text><rect x="1743.8000000000002" y="867.3" width="43.8" height="43.6" fill="#31416f"/><rect x="1743.8000000000002" y="649.5" width="43.8" height="261.4" fill="none" stroke="#555" stroke-width="1"/><line x1="1740.3000000000002" y1="671.3" x2="1743.8000000000002" y2="671.3" stroke="#333" stroke-width="0.8"/><text x="1737.8" y="674.9" font-family="DejaVu Sans, sans-serif" font-size="10" text-anchor="end" fill="#111" >0</text><line x1="1740.3000000000002" y1="714.9" x2="1743.8000000000002" y2="714.9" stroke="#333" stroke-width="0.8"/><text x="1737.8" y="718.5" font-family="DejaVu Sans, sans-serif" font-size="10" text-anchor="end" fill="#111" >1</text><line x1="1740.3000000000002" y1="758.4" x2="1743.8000000000002" y2="758.4" stroke="#333" stroke-width="0.8"/><text x="1737.8" y="762.0" font-family="DejaVu Sans, sans-serif" font-size="10" text-anchor="end" fill="#111" >2</text><line x1="1740.3000000000002" y1="802.0" x2="1743.8000000000002" y2="802.0" stroke="#333" stroke-width="0.8"/><text x="1737.8" y="805.6" font-family="DejaVu Sans, sans-serif" font-size="10" text-anchor="end" fill="#111" >3</text><line x1="1740.3000000000002" y1="845.5" x2="1743.8000000000002" y2="845.5" stroke="#333" stroke-width="0.8"/><text x="1737.8" y="849.1" font-family="DejaVu Sans, sans-serif" font-size="10" text-anchor="end" fill="#111" >4</text><line x1="1740.3000000000002" y1="889.1" x2="1743.8000000000002" y2="889.1" stroke="#333" stroke-width="0.8"/><text x="1737.8" y="892.7" font-family="DejaVu Sans, sans-serif" font-size="10" text-anchor="end" fill="#111" >5</text><line x1="1743.8000000000002" y1="866.3" x2="1787.6000000000001" y2="866.3" stroke="#2f7d1c" stroke-width="3.6" stroke-dasharray="14,9"/><rect x="1832.5" y="649.50" width="10" height="4.76" fill="#98241b"/><rect x="1832.5" y="653.86" width="10" height="4.76" fill="#9c2b22"/><rect x="1832.5" y="658.21" width="10" height="4.76" fill="#9f3229"/><rect x="1832.5" y="662.57" width="10" height="4.76" fill="#a33930"/><rect x="1832.5" y="666.93" width="10" height="4.76" fill="#a74037"/><rect x="1832.5" y="671.28" width="10" height="4.76" fill="#ab473d"/><rect x="1832.5" y="675.64" width="10" height="4.76" fill="#ae4e44"/><rect x="1832.5" y="680.00" width="10" height="4.76" fill="#b2554b"/><rect x="1832.5" y="684.35" width="10" height="4.76" fill="#b55b51"/><rect x="1832.5" y="688.71" width="10" height="4.76" fill="#b86057"/><rect x="1832.5" y="693.07" width="10" height="4.76" fill="#bc665d"/><rect x="1832.5" y="697.42" width="10" height="4.76" fill="#bf6c62"/><rect x="1832.5" y="701.78" width="10" height="4.76" fill="#c27268"/><rect x="1832.5" y="706.14" width="10" height="4.76" fill="#c5776e"/><rect x="1832.5" y="710.49" width="10" height="4.76" fill="#c87d74"/><rect x="1832.5" y="714.85" width="10" height="4.76" fill="#cc847b"/><rect x="1832.5" y="719.21" width="10" height="4.76" fill="#cf8c84"/><rect x="1832.5" y="723.56" width="10" height="4.76" fill="#d3958d"/><rect x="1832.5" y="727.92" width="10" height="4.76" fill="#d79d96"/><rect x="1832.5" y="732.28" width="10" height="4.76" fill="#daa59f"/><rect x="1832.5" y="736.63" width="10" height="4.76" fill="#deada8"/><rect x="1832.5" y="740.99" width="10" height="4.76" fill="#e1b6b1"/><rect x="1832.5" y="745.35" width="10" height="4.76" fill="#e5beba"/><rect x="1832.5" y="749.70" width="10" height="4.76" fill="#e8c7c3"/><rect x="1832.5" y="754.06" width="10" height="4.76" fill="#eccfcc"/><rect x="1832.5" y="758.42" width="10" height="4.76" fill="#efd8d6"/><rect x="1832.5" y="762.77" width="10" height="4.76" fill="#f3e1df"/><rect x="1832.5" y="767.13" width="10" height="4.76" fill="#f6e9e8"/><rect x="1832.5" y="771.49" width="10" height="4.76" fill="#faf2f1"/><rect x="1832.5" y="775.84" width="10" height="4.76" fill="#fdfbfa"/><rect x="1832.5" y="780.20" width="10" height="4.76" fill="#fafafc"/><rect x="1832.5" y="784.56" width="10" height="4.76" fill="#f0f1f5"/><rect x="1832.5" y="788.91" width="10" height="4.76" fill="#e5e8ef"/><rect x="1832.5" y="793.27" width="10" height="4.76" fill="#dbdfe9"/><rect x="1832.5" y="797.63" width="10" height="4.76" fill="#d1d6e2"/><rect x="1832.5" y="801.98" width="10" height="4.76" fill="#c7ccdc"/><rect x="1832.5" y="806.34" width="10" height="4.76" fill="#bcc3d5"/><rect x="1832.5" y="810.70" width="10" height="4.76" fill="#b2bacf"/><rect x="1832.5" y="815.05" width="10" height="4.76" fill="#a8b1c8"/><rect x="1832.5" y="819.41" width="10" height="4.76" fill="#9fa8c2"/><rect x="1832.5" y="823.77" width="10" height="4.76" fill="#95a0bb"/><rect x="1832.5" y="828.12" width="10" height="4.76" fill="#8b97b4"/><rect x="1832.5" y="832.48" width="10" height="4.76" fill="#818eae"/><rect x="1832.5" y="836.84" width="10" height="4.76" fill="#7885a7"/><rect x="1832.5" y="841.19" width="10" height="4.76" fill="#6e7ca0"/><rect x="1832.5" y="845.55" width="10" height="4.76" fill="#67769b"/><rect x="1832.5" y="849.91" width="10" height="4.76" fill="#627197"/><rect x="1832.5" y="854.26" width="10" height="4.76" fill="#5d6c93"/><rect x="1832.5" y="858.62" width="10" height="4.76" fill="#58678f"/><rect x="1832.5" y="862.98" width="10" height="4.76" fill="#53628c"/><rect x="1832.5" y="867.33" width="10" height="4.76" fill="#4e5e88"/><rect x="1832.5" y="871.69" width="10" height="4.76" fill="#495984"/><rect x="1832.5" y="876.05" width="10" height="4.76" fill="#445480"/><rect x="1832.5" y="880.40" width="10" height="4.76" fill="#3e4e7b"/><rect x="1832.5" y="884.76" width="10" height="4.76" fill="#384875"/><rect x="1832.5" y="889.12" width="10" height="4.76" fill="#324270"/><rect x="1832.5" y="893.47" width="10" height="4.76" fill="#2d3d6b"/><rect x="1832.5" y="897.83" width="10" height="4.76" fill="#273765"/><rect x="1832.5" y="902.19" width="10" height="4.76" fill="#213160"/><rect x="1832.5" y="906.54" width="10" height="4.76" fill="#1b2b5b"/><rect x="1832.5" y="649.5" width="10" height="261.4" fill="none" stroke="#555" stroke-width="0.6"/><line x1="1842.5" y1="655.7" x2="1846.0" y2="655.7" stroke="#333" stroke-width="0.8"/><text x="1847.5" y="659.3" font-family="DejaVu Sans, sans-serif" font-size="10" text-anchor="start" fill="#111" >4</text><line x1="1842.5" y1="686.8" x2="1846.0" y2="686.8" stroke="#333" stroke-width="0.8"/><text x="1847.5" y="690.4" font-family="DejaVu Sans, sans-serif" font-size="10" text-anchor="start" fill="#111" >3</text><line x1="1842.5" y1="718.0" x2="1846.0" y2="718.0" stroke="#333" stroke-width="0.8"/><text x="1847.5" y="721.6" font-family="DejaVu Sans, sans-serif" font-size="10" text-anchor="start" fill="#111" >2</text><line x1="1842.5" y1="749.1" x2="1846.0" y2="749.1" stroke="#333" stroke-width="0.8"/><text x="1847.5" y="752.7" font-family="DejaVu Sans, sans-serif" font-size="10" text-anchor="start" fill="#111" >1</text><line x1="1842.5" y1="780.2" x2="1846.0" y2="780.2" stroke="#333" stroke-width="0.8"/><text x="1847.5" y="783.8" font-family="DejaVu Sans, sans-serif" font-size="10" text-anchor="start" fill="#111" >0</text><line x1="1842.5" y1="811.3" x2="1846.0" y2="811.3" stroke="#333" stroke-width="0.8"/><text x="1847.5" y="814.9" font-family="DejaVu Sans, sans-serif" font-size="10" text-anchor="start" fill="#111" >&#x2212;1</text><line x1="1842.5" y1="842.4" x2="1846.0" y2="842.4" stroke="#333" stroke-width="0.8"/><text x="1847.5" y="846.0" font-family="DejaVu Sans, sans-serif" font-size="10" text-anchor="start" fill="#111" >&#x2212;2</text><line x1="1842.5" y1="873.6" x2="1846.0" y2="873.6" stroke="#333" stroke-width="0.8"/><text x="1847.5" y="877.2" font-family="DejaVu Sans, sans-serif" font-size="10" text-anchor="start" fill="#111" >&#x2212;3</text><line x1="1842.5" y1="904.7" x2="1846.0" y2="904.7" stroke="#333" stroke-width="0.8"/><text x="1847.5" y="908.3" font-family="DejaVu Sans, sans-serif" font-size="10" text-anchor="start" fill="#111" >&#x2212;4</text>
<text x="1475.9" y="973.5" font-family="DejaVu Sans, sans-serif" font-size="14.5" text-anchor="middle" fill="#111" >Head 2 QK</text><rect x="1345.20" y="979.00" width="43.87" height="43.87" fill="#ad4c42"/><rect x="1432.33" y="979.00" width="43.87" height="43.87" fill="#fbfbfc"/><rect x="1475.90" y="979.00" width="43.87" height="43.87" fill="#f9f9fb"/><rect x="1519.47" y="979.00" width="43.87" height="43.87" fill="#fbfbfc"/><rect x="1563.03" y="979.00" width="43.87" height="43.87" fill="#b1b9ce"/><rect x="1345.20" y="1022.57" width="43.87" height="43.87" fill="#fefcfb"/><rect x="1388.77" y="1022.57" width="43.87" height="43.87" fill="#a84239"/><rect x="1563.03" y="1022.57" width="43.87" height="43.87" fill="#8592b0"/><rect x="1345.20" y="1066.13" width="43.87" height="43.87" fill="#fefdfd"/><rect x="1388.77" y="1066.13" width="43.87" height="43.87" fill="#fefcfb"/><rect x="1432.33" y="1066.13" width="43.87" height="43.87" fill="#ad4c42"/><rect x="1519.47" y="1066.13" width="43.87" height="43.87" fill="#fbfbfc"/><rect x="1563.03" y="1066.13" width="43.87" height="43.87" fill="#ca7f76"/><rect x="1388.77" y="1109.70" width="43.87" height="43.87" fill="#fdfdfe"/><rect x="1475.90" y="1109.70" width="43.87" height="43.87" fill="#a63e35"/><rect x="1563.03" y="1109.70" width="43.87" height="43.87" fill="#dfb1ac"/><rect x="1388.77" y="1153.27" width="43.87" height="43.87" fill="#fdfaf9"/><rect x="1432.33" y="1153.27" width="43.87" height="43.87" fill="#fefcfb"/><rect x="1475.90" y="1153.27" width="43.87" height="43.87" fill="#fbfbfc"/><rect x="1519.47" y="1153.27" width="43.87" height="43.87" fill="#ac4940"/><rect x="1563.03" y="1153.27" width="43.87" height="43.87" fill="#e7c2be"/><rect x="1432.33" y="1196.83" width="43.87" height="43.87" fill="#fbfbfc"/><rect x="1345.2" y="979.0" width="261.4" height="261.4" fill="none" stroke="#555" stroke-width="1.0"/><line x1="1341.7" y1="1000.8" x2="1345.2" y2="1000.8" stroke="#333" stroke-width="0.8"/><text x="1339.2" y="1004.4" font-family="DejaVu Sans, sans-serif" font-size="10" text-anchor="end" fill="#111" >0</text><line x1="1367.0" y1="1240.4" x2="1367.0" y2="1243.9" stroke="#333" stroke-width="0.8"/><text x="1367.0" y="1255.4" font-family="DejaVu Sans, sans-serif" font-size="10" text-anchor="middle" fill="#111" >0</text><line x1="1341.7" y1="1044.3" x2="1345.2" y2="1044.3" stroke="#333" stroke-width="0.8"/><text x="1339.2" y="1047.9" font-family="DejaVu Sans, sans-serif" font-size="10" text-anchor="end" fill="#111" >1</text><line x1="1410.5" y1="1240.4" x2="1410.5" y2="1243.9" stroke="#333" stroke-width="0.8"/><text x="1410.5" y="1255.4" font-family="DejaVu Sans, sans-serif" font-size="10" text-anchor="middle" fill="#111" >1</text><line x1="1341.7" y1="1087.9" x2="1345.2" y2="1087.9" stroke="#333" stroke-width="0.8"/><text x="1339.2" y="1091.5" font-family="DejaVu Sans, sans-serif" font-size="10" text-anchor="end" fill="#111" >2</text><line x1="1454.1" y1="1240.4" x2="1454.1" y2="1243.9" stroke="#333" stroke-width="0.8"/><text x="1454.1" y="1255.4" font-family="DejaVu Sans, sans-serif" font-size="10" text-anchor="middle" fill="#111" >2</text><line x1="1341.7" y1="1131.5" x2="1345.2" y2="1131.5" stroke="#333" stroke-width="0.8"/><text x="1339.2" y="1135.1" font-family="DejaVu Sans, sans-serif" font-size="10" text-anchor="end" fill="#111" >3</text><line x1="1497.7" y1="1240.4" x2="1497.7" y2="1243.9" stroke="#333" stroke-width="0.8"/><text x="1497.7" y="1255.4" font-family="DejaVu Sans, sans-serif" font-size="10" text-anchor="middle" fill="#111" >3</text><line x1="1341.7" y1="1175.0" x2="1345.2" y2="1175.0" stroke="#333" stroke-width="0.8"/><text x="1339.2" y="1178.6" font-family="DejaVu Sans, sans-serif" font-size="10" text-anchor="end" fill="#111" >4</text><line x1="1541.2" y1="1240.4" x2="1541.2" y2="1243.9" stroke="#333" stroke-width="0.8"/><text x="1541.2" y="1255.4" font-family="DejaVu Sans, sans-serif" font-size="10" text-anchor="middle" fill="#111" >4</text><line x1="1341.7" y1="1218.6" x2="1345.2" y2="1218.6" stroke="#333" stroke-width="0.8"/><text x="1339.2" y="1222.2" font-family="DejaVu Sans, sans-serif" font-size="10" text-anchor="end" fill="#111" >5</text><line x1="1584.8" y1="1240.4" x2="1584.8" y2="1243.9" stroke="#333" stroke-width="0.8"/><text x="1584.8" y="1255.4" font-family="DejaVu Sans, sans-serif" font-size="10" text-anchor="middle" fill="#111" >5</text><line x1="1345.2" y1="1195.8" x2="1606.6" y2="1195.8" stroke="#2f7d1c" stroke-width="3.6" stroke-dasharray="14,9"/><line x1="1562.5" y1="979.0" x2="1562.5" y2="1240.4" stroke="#2f7d1c" stroke-width="3.6" stroke-dasharray="14,9"/><rect x="1654.4" y="979.00" width="13.1" height="4.76" fill="#98241b"/><rect x="1654.4" y="983.36" width="13.1" height="4.76" fill="#9c2b22"/><rect x="1654.4" y="987.71" width="13.1" height="4.76" fill="#9f3229"/><rect x="1654.4" y="992.07" width="13.1" height="4.76" fill="#a33930"/><rect x="1654.4" y="996.43" width="13.1" height="4.76" fill="#a74037"/><rect x="1654.4" y="1000.78" width="13.1" height="4.76" fill="#ab473d"/><rect x="1654.4" y="1005.14" width="13.1" height="4.76" fill="#ae4e44"/><rect x="1654.4" y="1009.50" width="13.1" height="4.76" fill="#b2554b"/><rect x="1654.4" y="1013.85" width="13.1" height="4.76" fill="#b55b51"/><rect x="1654.4" y="1018.21" width="13.1" height="4.76" fill="#b86057"/><rect x="1654.4" y="1022.57" width="13.1" height="4.76" fill="#bc665d"/><rect x="1654.4" y="1026.92" width="13.1" height="4.76" fill="#bf6c62"/><rect x="1654.4" y="1031.28" width="13.1" height="4.76" fill="#c27268"/><rect x="1654.4" y="1035.64" width="13.1" height="4.76" fill="#c5776e"/><rect x="1654.4" y="1039.99" width="13.1" height="4.76" fill="#c87d74"/><rect x="1654.4" y="1044.35" width="13.1" height="4.76" fill="#cc847b"/><rect x="1654.4" y="1048.71" width="13.1" height="4.76" fill="#cf8c84"/><rect x="1654.4" y="1053.06" width="13.1" height="4.76" fill="#d3958d"/><rect x="1654.4" y="1057.42" width="13.1" height="4.76" fill="#d79d96"/><rect x="1654.4" y="1061.78" width="13.1" height="4.76" fill="#daa59f"/><rect x="1654.4" y="1066.13" width="13.1" height="4.76" fill="#deada8"/><rect x="1654.4" y="1070.49" width="13.1" height="4.76" fill="#e1b6b1"/><rect x="1654.4" y="1074.85" width="13.1" height="4.76" fill="#e5beba"/><rect x="1654.4" y="1079.20" width="13.1" height="4.76" fill="#e8c7c3"/><rect x="1654.4" y="1083.56" width="13.1" height="4.76" fill="#eccfcc"/><rect x="1654.4" y="1087.92" width="13.1" height="4.76" fill="#efd8d6"/><rect x="1654.4" y="1092.27" width="13.1" height="4.76" fill="#f3e1df"/><rect x="1654.4" y="1096.63" width="13.1" height="4.76" fill="#f6e9e8"/><rect x="1654.4" y="1100.99" width="13.1" height="4.76" fill="#faf2f1"/><rect x="1654.4" y="1105.34" width="13.1" height="4.76" fill="#fdfbfa"/><rect x="1654.4" y="1109.70" width="13.1" height="4.76" fill="#fafafc"/><rect x="1654.4" y="1114.06" width="13.1" height="4.76" fill="#f0f1f5"/><rect x="1654.4" y="1118.41" width="13.1" height="4.76" fill="#e5e8ef"/><rect x="1654.4" y="1122.77" width="13.1" height="4.76" fill="#dbdfe9"/><rect x="1654.4" y="1127.13" width="13.1" height="4.76" fill="#d1d6e2"/><rect x="1654.4" y="1131.48" width="13.1" height="4.76" fill="#c7ccdc"/><rect x="1654.4" y="1135.84" width="13.1" height="4.76" fill="#bcc3d5"/><rect x="1654.4" y="1140.20" width="13.1" height="4.76" fill="#b2bacf"/><rect x="1654.4" y="1144.55" width="13.1" height="4.76" fill="#a8b1c8"/><rect x="1654.4" y="1148.91" width="13.1" height="4.76" fill="#9fa8c2"/><rect x="1654.4" y="1153.27" width="13.1" height="4.76" fill="#95a0bb"/><rect x="1654.4" y="1157.62" width="13.1" height="4.76" fill="#8b97b4"/><rect x="1654.4" y="1161.98" width="13.1" height="4.76" fill="#818eae"/><rect x="1654.4" y="1166.34" width="13.1" height="4.76" fill="#7885a7"/><rect x="1654.4" y="1170.69" width="13.1" height="4.76" fill="#6e7ca0"/><rect x="1654.4" y="1175.05" width="13.1" height="4.76" fill="#67769b"/><rect x="1654.4" y="1179.41" width="13.1" height="4.76" fill="#627197"/><rect x="1654.4" y="1183.76" width="13.1" height="4.76" fill="#5d6c93"/><rect x="1654.4" y="1188.12" width="13.1" height="4.76" fill="#58678f"/><rect x="1654.4" y="1192.48" width="13.1" height="4.76" fill="#53628c"/><rect x="1654.4" y="1196.83" width="13.1" height="4.76" fill="#4e5e88"/><rect x="1654.4" y="1201.19" width="13.1" height="4.76" fill="#495984"/><rect x="1654.4" y="1205.55" width="13.1" height="4.76" fill="#445480"/><rect x="1654.4" y="1209.90" width="13.1" height="4.76" fill="#3e4e7b"/><rect x="1654.4" y="1214.26" width="13.1" height="4.76" fill="#384875"/><rect x="1654.4" y="1218.62" width="13.1" height="4.76" fill="#324270"/><rect x="1654.4" y="1222.97" width="13.1" height="4.76" fill="#2d3d6b"/><rect x="1654.4" y="1227.33" width="13.1" height="4.76" fill="#273765"/><rect x="1654.4" y="1231.69" width="13.1" height="4.76" fill="#213160"/><rect x="1654.4" y="1236.04" width="13.1" height="4.76" fill="#1b2b5b"/><rect x="1654.4" y="979.0" width="13.1" height="261.4" fill="none" stroke="#555" stroke-width="0.6"/><line x1="1667.5" y1="1022.0" x2="1670.9" y2="1022.0" stroke="#333" stroke-width="0.8"/><text x="1672.4" y="1025.6" font-family="DejaVu Sans, sans-serif" font-size="10" text-anchor="start" fill="#111" >0.10</text><line x1="1667.5" y1="1065.8" x2="1670.9" y2="1065.8" stroke="#333" stroke-width="0.8"/><text x="1672.4" y="1069.4" font-family="DejaVu Sans, sans-serif" font-size="10" text-anchor="start" fill="#111" >0.05</text><line x1="1667.5" y1="1109.7" x2="1670.9" y2="1109.7" stroke="#333" stroke-width="0.8"/><text x="1672.4" y="1113.3" font-family="DejaVu Sans, sans-serif" font-size="10" text-anchor="start" fill="#111" >0.00</text><line x1="1667.5" y1="1153.6" x2="1670.9" y2="1153.6" stroke="#333" stroke-width="0.8"/><text x="1672.4" y="1157.2" font-family="DejaVu Sans, sans-serif" font-size="10" text-anchor="start" fill="#111" >&#x2212;0.05</text><line x1="1667.5" y1="1197.4" x2="1670.9" y2="1197.4" stroke="#333" stroke-width="0.8"/><text x="1672.4" y="1201.0" font-family="DejaVu Sans, sans-serif" font-size="10" text-anchor="start" fill="#111" >&#x2212;0.10</text><text x="1765.7" y="973.5" font-family="DejaVu Sans, sans-serif" font-size="14.5" text-anchor="middle" fill="#111" >Head 2 OV</text><rect x="1743.8000000000002" y="1196.8" width="43.8" height="43.6" fill="#a63e35"/><rect x="1743.8000000000002" y="979.0" width="43.8" height="261.4" fill="none" stroke="#555" stroke-width="1"/><line x1="1740.3000000000002" y1="1000.8" x2="1743.8000000000002" y2="1000.8" stroke="#333" stroke-width="0.8"/><text x="1737.8" y="1004.4" font-family="DejaVu Sans, sans-serif" font-size="10" text-anchor="end" fill="#111" >0</text><line x1="1740.3000000000002" y1="1044.3" x2="1743.8000000000002" y2="1044.3" stroke="#333" stroke-width="0.8"/><text x="1737.8" y="1047.9" font-family="DejaVu Sans, sans-serif" font-size="10" text-anchor="end" fill="#111" >1</text><line x1="1740.3000000000002" y1="1087.9" x2="1743.8000000000002" y2="1087.9" stroke="#333" stroke-width="0.8"/><text x="1737.8" y="1091.5" font-family="DejaVu Sans, sans-serif" font-size="10" text-anchor="end" fill="#111" >2</text><line x1="1740.3000000000002" y1="1131.5" x2="1743.8000000000002" y2="1131.5" stroke="#333" stroke-width="0.8"/><text x="1737.8" y="1135.1" font-family="DejaVu Sans, sans-serif" font-size="10" text-anchor="end" fill="#111" >3</text><line x1="1740.3000000000002" y1="1175.0" x2="1743.8000000000002" y2="1175.0" stroke="#333" stroke-width="0.8"/><text x="1737.8" y="1178.6" font-family="DejaVu Sans, sans-serif" font-size="10" text-anchor="end" fill="#111" >4</text><line x1="1740.3000000000002" y1="1218.6" x2="1743.8000000000002" y2="1218.6" stroke="#333" stroke-width="0.8"/><text x="1737.8" y="1222.2" font-family="DejaVu Sans, sans-serif" font-size="10" text-anchor="end" fill="#111" >5</text><line x1="1743.8000000000002" y1="1195.8" x2="1787.6000000000001" y2="1195.8" stroke="#2f7d1c" stroke-width="3.6" stroke-dasharray="14,9"/><rect x="1832.5" y="979.00" width="10" height="4.76" fill="#98241b"/><rect x="1832.5" y="983.36" width="10" height="4.76" fill="#9c2b22"/><rect x="1832.5" y="987.71" width="10" height="4.76" fill="#9f3229"/><rect x="1832.5" y="992.07" width="10" height="4.76" fill="#a33930"/><rect x="1832.5" y="996.43" width="10" height="4.76" fill="#a74037"/><rect x="1832.5" y="1000.78" width="10" height="4.76" fill="#ab473d"/><rect x="1832.5" y="1005.14" width="10" height="4.76" fill="#ae4e44"/><rect x="1832.5" y="1009.50" width="10" height="4.76" fill="#b2554b"/><rect x="1832.5" y="1013.85" width="10" height="4.76" fill="#b55b51"/><rect x="1832.5" y="1018.21" width="10" height="4.76" fill="#b86057"/><rect x="1832.5" y="1022.57" width="10" height="4.76" fill="#bc665d"/><rect x="1832.5" y="1026.92" width="10" height="4.76" fill="#bf6c62"/><rect x="1832.5" y="1031.28" width="10" height="4.76" fill="#c27268"/><rect x="1832.5" y="1035.64" width="10" height="4.76" fill="#c5776e"/><rect x="1832.5" y="1039.99" width="10" height="4.76" fill="#c87d74"/><rect x="1832.5" y="1044.35" width="10" height="4.76" fill="#cc847b"/><rect x="1832.5" y="1048.71" width="10" height="4.76" fill="#cf8c84"/><rect x="1832.5" y="1053.06" width="10" height="4.76" fill="#d3958d"/><rect x="1832.5" y="1057.42" width="10" height="4.76" fill="#d79d96"/><rect x="1832.5" y="1061.78" width="10" height="4.76" fill="#daa59f"/><rect x="1832.5" y="1066.13" width="10" height="4.76" fill="#deada8"/><rect x="1832.5" y="1070.49" width="10" height="4.76" fill="#e1b6b1"/><rect x="1832.5" y="1074.85" width="10" height="4.76" fill="#e5beba"/><rect x="1832.5" y="1079.20" width="10" height="4.76" fill="#e8c7c3"/><rect x="1832.5" y="1083.56" width="10" height="4.76" fill="#eccfcc"/><rect x="1832.5" y="1087.92" width="10" height="4.76" fill="#efd8d6"/><rect x="1832.5" y="1092.27" width="10" height="4.76" fill="#f3e1df"/><rect x="1832.5" y="1096.63" width="10" height="4.76" fill="#f6e9e8"/><rect x="1832.5" y="1100.99" width="10" height="4.76" fill="#faf2f1"/><rect x="1832.5" y="1105.34" width="10" height="4.76" fill="#fdfbfa"/><rect x="1832.5" y="1109.70" width="10" height="4.76" fill="#fafafc"/><rect x="1832.5" y="1114.06" width="10" height="4.76" fill="#f0f1f5"/><rect x="1832.5" y="1118.41" width="10" height="4.76" fill="#e5e8ef"/><rect x="1832.5" y="1122.77" width="10" height="4.76" fill="#dbdfe9"/><rect x="1832.5" y="1127.13" width="10" height="4.76" fill="#d1d6e2"/><rect x="1832.5" y="1131.48" width="10" height="4.76" fill="#c7ccdc"/><rect x="1832.5" y="1135.84" width="10" height="4.76" fill="#bcc3d5"/><rect x="1832.5" y="1140.20" width="10" height="4.76" fill="#b2bacf"/><rect x="1832.5" y="1144.55" width="10" height="4.76" fill="#a8b1c8"/><rect x="1832.5" y="1148.91" width="10" height="4.76" fill="#9fa8c2"/><rect x="1832.5" y="1153.27" width="10" height="4.76" fill="#95a0bb"/><rect x="1832.5" y="1157.62" width="10" height="4.76" fill="#8b97b4"/><rect x="1832.5" y="1161.98" width="10" height="4.76" fill="#818eae"/><rect x="1832.5" y="1166.34" width="10" height="4.76" fill="#7885a7"/><rect x="1832.5" y="1170.69" width="10" height="4.76" fill="#6e7ca0"/><rect x="1832.5" y="1175.05" width="10" height="4.76" fill="#67769b"/><rect x="1832.5" y="1179.41" width="10" height="4.76" fill="#627197"/><rect x="1832.5" y="1183.76" width="10" height="4.76" fill="#5d6c93"/><rect x="1832.5" y="1188.12" width="10" height="4.76" fill="#58678f"/><rect x="1832.5" y="1192.48" width="10" height="4.76" fill="#53628c"/><rect x="1832.5" y="1196.83" width="10" height="4.76" fill="#4e5e88"/><rect x="1832.5" y="1201.19" width="10" height="4.76" fill="#495984"/><rect x="1832.5" y="1205.55" width="10" height="4.76" fill="#445480"/><rect x="1832.5" y="1209.90" width="10" height="4.76" fill="#3e4e7b"/><rect x="1832.5" y="1214.26" width="10" height="4.76" fill="#384875"/><rect x="1832.5" y="1218.62" width="10" height="4.76" fill="#324270"/><rect x="1832.5" y="1222.97" width="10" height="4.76" fill="#2d3d6b"/><rect x="1832.5" y="1227.33" width="10" height="4.76" fill="#273765"/><rect x="1832.5" y="1231.69" width="10" height="4.76" fill="#213160"/><rect x="1832.5" y="1236.04" width="10" height="4.76" fill="#1b2b5b"/><rect x="1832.5" y="979.0" width="10" height="261.4" fill="none" stroke="#555" stroke-width="0.6"/><line x1="1842.5" y1="985.2" x2="1846.0" y2="985.2" stroke="#333" stroke-width="0.8"/><text x="1847.5" y="988.8" font-family="DejaVu Sans, sans-serif" font-size="10" text-anchor="start" fill="#111" >4</text><line x1="1842.5" y1="1016.3" x2="1846.0" y2="1016.3" stroke="#333" stroke-width="0.8"/><text x="1847.5" y="1019.9" font-family="DejaVu Sans, sans-serif" font-size="10" text-anchor="start" fill="#111" >3</text><line x1="1842.5" y1="1047.5" x2="1846.0" y2="1047.5" stroke="#333" stroke-width="0.8"/><text x="1847.5" y="1051.1" font-family="DejaVu Sans, sans-serif" font-size="10" text-anchor="start" fill="#111" >2</text><line x1="1842.5" y1="1078.6" x2="1846.0" y2="1078.6" stroke="#333" stroke-width="0.8"/><text x="1847.5" y="1082.2" font-family="DejaVu Sans, sans-serif" font-size="10" text-anchor="start" fill="#111" >1</text><line x1="1842.5" y1="1109.7" x2="1846.0" y2="1109.7" stroke="#333" stroke-width="0.8"/><text x="1847.5" y="1113.3" font-family="DejaVu Sans, sans-serif" font-size="10" text-anchor="start" fill="#111" >0</text><line x1="1842.5" y1="1140.8" x2="1846.0" y2="1140.8" stroke="#333" stroke-width="0.8"/><text x="1847.5" y="1144.4" font-family="DejaVu Sans, sans-serif" font-size="10" text-anchor="start" fill="#111" >&#x2212;1</text><line x1="1842.5" y1="1171.9" x2="1846.0" y2="1171.9" stroke="#333" stroke-width="0.8"/><text x="1847.5" y="1175.5" font-family="DejaVu Sans, sans-serif" font-size="10" text-anchor="start" fill="#111" >&#x2212;2</text><line x1="1842.5" y1="1203.1" x2="1846.0" y2="1203.1" stroke="#333" stroke-width="0.8"/><text x="1847.5" y="1206.7" font-family="DejaVu Sans, sans-serif" font-size="10" text-anchor="start" fill="#111" >&#x2212;3</text><line x1="1842.5" y1="1234.2" x2="1846.0" y2="1234.2" stroke="#333" stroke-width="0.8"/><text x="1847.5" y="1237.8" font-family="DejaVu Sans, sans-serif" font-size="10" text-anchor="start" fill="#111" >&#x2212;4</text>
<line x1="1957.0" y1="638.5" x2="1957.0" y2="903.4" stroke="#c8c8c8" stroke-width="0.7" stroke-dasharray="2,2"/><line x1="1957.0" y1="903.4" x2="1957.0" y2="906.9" stroke="#333" stroke-width="0.8"/><text x="1957.0" y="917.9" font-family="DejaVu Sans, sans-serif" font-size="10" text-anchor="middle" fill="#111" >0k</text><line x1="2013.2" y1="638.5" x2="2013.2" y2="903.4" stroke="#c8c8c8" stroke-width="0.7" stroke-dasharray="2,2"/><line x1="2013.2" y1="903.4" x2="2013.2" y2="906.9" stroke="#333" stroke-width="0.8"/><text x="2013.2" y="917.9" font-family="DejaVu Sans, sans-serif" font-size="10" text-anchor="middle" fill="#111" >18k</text><line x1="2069.3" y1="638.5" x2="2069.3" y2="903.4" stroke="#c8c8c8" stroke-width="0.7" stroke-dasharray="2,2"/><line x1="2069.3" y1="903.4" x2="2069.3" y2="906.9" stroke="#333" stroke-width="0.8"/><text x="2069.3" y="917.9" font-family="DejaVu Sans, sans-serif" font-size="10" text-anchor="middle" fill="#111" >37k</text><line x1="2125.5" y1="638.5" x2="2125.5" y2="903.4" stroke="#c8c8c8" stroke-width="0.7" stroke-dasharray="2,2"/><line x1="2125.5" y1="903.4" x2="2125.5" y2="906.9" stroke="#333" stroke-width="0.8"/><text x="2125.5" y="917.9" font-family="DejaVu Sans, sans-serif" font-size="10" text-anchor="middle" fill="#111" >56k</text><line x1="2181.6" y1="638.5" x2="2181.6" y2="903.4" stroke="#c8c8c8" stroke-width="0.7" stroke-dasharray="2,2"/><line x1="2181.6" y1="903.4" x2="2181.6" y2="906.9" stroke="#333" stroke-width="0.8"/><text x="2181.6" y="917.9" font-family="DejaVu Sans, sans-serif" font-size="10" text-anchor="middle" fill="#111" >75k</text><line x1="2237.8" y1="638.5" x2="2237.8" y2="903.4" stroke="#c8c8c8" stroke-width="0.7" stroke-dasharray="2,2"/><line x1="2237.8" y1="903.4" x2="2237.8" y2="906.9" stroke="#333" stroke-width="0.8"/><text x="2237.8" y="917.9" font-family="DejaVu Sans, sans-serif" font-size="10" text-anchor="middle" fill="#111" >93k</text><line x1="2294.0" y1="638.5" x2="2294.0" y2="903.4" stroke="#c8c8c8" stroke-width="0.7" stroke-dasharray="2,2"/><line x1="2294.0" y1="903.4" x2="2294.0" y2="906.9" stroke="#333" stroke-width="0.8"/><text x="2294.0" y="917.9" font-family="DejaVu Sans, sans-serif" font-size="10" text-anchor="middle" fill="#111" >112k</text><line x1="2350.1" y1="638.5" x2="2350.1" y2="903.4" stroke="#c8c8c8" stroke-width="0.7" stroke-dasharray="2,2"/><line x1="2350.1" y1="903.4" x2="2350.1" y2="906.9" stroke="#333" stroke-width="0.8"/><text x="2350.1" y="917.9" font-family="DejaVu Sans, sans-serif" font-size="10" text-anchor="middle" fill="#111" >131k</text><line x1="2406.3" y1="638.5" x2="2406.3" y2="903.4" stroke="#c8c8c8" stroke-width="0.7" stroke-dasharray="2,2"/><line x1="2406.3" y1="903.4" x2="2406.3" y2="906.9" stroke="#333" stroke-width="0.8"/><text x="2406.3" y="917.9" font-family="DejaVu Sans, sans-serif" font-size="10" text-anchor="middle" fill="#111" >150k</text><line x1="1952.5" y1="638.5" x2="2406.3" y2="638.5" stroke="#c8c8c8" stroke-width="0.7" stroke-dasharray="2,2"/><line x1="1949.0" y1="638.5" x2="1952.5" y2="638.5" stroke="#333" stroke-width="0.8"/><text x="1947.5" y="642.1" font-family="DejaVu Sans, sans-serif" font-size="10" text-anchor="end" fill="#111" >0.30</text><line x1="1952.5" y1="676.3" x2="2406.3" y2="676.3" stroke="#c8c8c8" stroke-width="0.7" stroke-dasharray="2,2"/><line x1="1949.0" y1="676.3" x2="1952.5" y2="676.3" stroke="#333" stroke-width="0.8"/><text x="1947.5" y="679.9" font-family="DejaVu Sans, sans-serif" font-size="10" text-anchor="end" fill="#111" >0.20</text><line x1="1952.5" y1="702.8" x2="2406.3" y2="702.8" stroke="#c8c8c8" stroke-width="0.7" stroke-dasharray="2,2"/><line x1="1949.0" y1="702.8" x2="1952.5" y2="702.8" stroke="#333" stroke-width="0.8"/><text x="1947.5" y="706.4" font-family="DejaVu Sans, sans-serif" font-size="10" text-anchor="end" fill="#111" >0.13</text><line x1="1952.5" y1="714.2" x2="2406.3" y2="714.2" stroke="#c8c8c8" stroke-width="0.7" stroke-dasharray="2,2"/><line x1="1949.0" y1="714.2" x2="1952.5" y2="714.2" stroke="#333" stroke-width="0.8"/><text x="1947.5" y="717.8" font-family="DejaVu Sans, sans-serif" font-size="10" text-anchor="end" fill="#111" >0.10</text><line x1="1952.5" y1="752.0" x2="2406.3" y2="752.0" stroke="#c8c8c8" stroke-width="0.7" stroke-dasharray="2,2"/><line x1="1949.0" y1="752.0" x2="1952.5" y2="752.0" stroke="#333" stroke-width="0.8"/><text x="1947.5" y="755.6" font-family="DejaVu Sans, sans-serif" font-size="10" text-anchor="end" fill="#111" >0.00</text><line x1="1952.5" y1="789.9" x2="2406.3" y2="789.9" stroke="#c8c8c8" stroke-width="0.7" stroke-dasharray="2,2"/><line x1="1949.0" y1="789.9" x2="1952.5" y2="789.9" stroke="#333" stroke-width="0.8"/><text x="1947.5" y="793.5" font-family="DejaVu Sans, sans-serif" font-size="10" text-anchor="end" fill="#111" >-0.10</text><line x1="1952.5" y1="801.2" x2="2406.3" y2="801.2" stroke="#c8c8c8" stroke-width="0.7" stroke-dasharray="2,2"/><line x1="1949.0" y1="801.2" x2="1952.5" y2="801.2" stroke="#333" stroke-width="0.8"/><text x="1947.5" y="804.8" font-family="DejaVu Sans, sans-serif" font-size="10" text-anchor="end" fill="#111" >-0.13</text><line x1="1952.5" y1="827.7" x2="2406.3" y2="827.7" stroke="#c8c8c8" stroke-width="0.7" stroke-dasharray="2,2"/><line x1="1949.0" y1="827.7" x2="1952.5" y2="827.7" stroke="#333" stroke-width="0.8"/><text x="1947.5" y="831.3" font-family="DejaVu Sans, sans-serif" font-size="10" text-anchor="end" fill="#111" >-0.20</text><line x1="1952.5" y1="865.6" x2="2406.3" y2="865.6" stroke="#c8c8c8" stroke-width="0.7" stroke-dasharray="2,2"/><line x1="1949.0" y1="865.6" x2="1952.5" y2="865.6" stroke="#333" stroke-width="0.8"/><text x="1947.5" y="869.2" font-family="DejaVu Sans, sans-serif" font-size="10" text-anchor="end" fill="#111" >-0.30</text><line x1="1952.5" y1="903.4" x2="2406.3" y2="903.4" stroke="#c8c8c8" stroke-width="0.7" stroke-dasharray="2,2"/><line x1="1949.0" y1="903.4" x2="1952.5" y2="903.4" stroke="#333" stroke-width="0.8"/><text x="1947.5" y="907.0" font-family="DejaVu Sans, sans-serif" font-size="10" text-anchor="end" fill="#111" >-0.40</text><line x1="1952.5" y1="702.8" x2="2406.3" y2="702.8" stroke="#222" stroke-width="1.1" stroke-dasharray="4,2.5"/><line x1="1952.5" y1="752.0" x2="2406.3" y2="752.0" stroke="#222" stroke-width="1.1" stroke-dasharray="4,2.5"/><line x1="1952.5" y1="801.2" x2="2406.3" y2="801.2" stroke="#222" stroke-width="1.1" stroke-dasharray="4,2.5"/><polyline points="1957.0,752.0 1957.0,753.9 1957.1,757.7 1957.2,762.8 1957.3,769.1 1957.4,776.5 1957.5,784.8 1957.6,793.9 1957.8,803.9 1958.0,814.7 1958.1,826.2 1958.3,838.4 1958.5,851.3 1958.7,864.9 1958.9,868.1 1959.2,866.1 1959.4,866.3 1959.6,863.7 1959.9,863.3 1960.2,862.0 1960.4,859.2 1960.7,859.0 1961.0,857.8 1961.3,856.0 1961.6,854.4 1961.9,853.8 1962.2,852.1 1962.6,851.9 1962.9,850.1 1963.2,848.9 1963.6,848.2 1963.9,847.1 1964.3,846.0 1964.7,843.8 1965.0,842.5 1965.4,841.5 1965.8,840.0 1966.2,839.8 1966.6,837.9 1967.0,836.6 1967.4,835.1 1967.9,835.2 1968.3,833.9 1968.7,834.0 1969.2,832.0 1969.6,832.2 1970.0,830.7 1970.5,828.1 1971.0,829.5 1971.4,826.6 1971.9,826.1 1972.4,825.7 1972.9,824.4 1973.4,823.6 1973.9,822.6 1974.4,822.7 1974.9,822.3 1975.4,821.6 1975.9,821.3 1976.4,820.0 1977.0,819.9 1977.5,818.1 1978.0,819.5 1978.6,818.5 1979.1,817.9 1979.7,818.2 1980.3,815.0 1980.8,817.4 1981.4,815.5 1982.0,815.3 1982.5,813.4 1983.1,815.5 1983.7,813.0 1984.3,813.9 1984.9,813.1 1985.5,813.2 1986.1,811.9 1986.8,812.8 1987.4,811.8 1988.0,811.2 1988.6,810.0 1989.3,812.6 1989.9,809.7 1990.6,809.8 1991.2,810.5 1991.9,809.8 1992.5,810.1 1993.2,808.4 1993.8,809.2 1994.5,809.3 1995.2,809.1 1995.9,808.9 1996.6,808.8 1997.3,809.1 1998.0,806.9 1998.7,809.5 1999.4,810.5 2000.1,807.9 2000.8,807.8 2001.5,807.3 2002.2,807.6 2002.9,807.4 2003.7,807.0 2004.4,806.4 2005.1,807.3 2005.9,807.1 2006.6,805.5 2007.4,806.3 2008.1,807.2 2008.9,804.9 2009.7,805.9 2010.4,806.7 2011.2,807.0 2012.0,805.9 2012.8,806.6 2013.5,806.7 2014.3,806.8 2015.1,806.1 2015.9,805.0 2016.7,805.9 2017.5,806.6 2018.3,805.0 2019.2,805.4 2020.0,804.8 2020.8,804.5 2021.6,805.3 2022.4,805.3 2023.3,805.1 2024.1,805.8 2025.0,804.5 2025.8,804.0 2026.7,804.7 2027.5,805.0 2028.4,804.9 2029.2,805.2 2030.1,805.2 2031.0,804.9 2031.8,805.1 2032.7,804.8 2033.6,805.5 2034.5,804.1 2035.4,804.3 2036.2,805.1 2037.1,805.8 2038.0,804.2 2038.9,803.4 2039.8,804.6 2040.8,804.4 2041.7,804.4 2042.6,803.5 2043.5,804.5 2044.4,803.2 2045.4,804.0 2046.3,803.2 2047.2,803.7 2048.2,803.9 2049.1,804.7 2050.1,804.1 2051.0,803.8 2052.0,803.1 2052.9,803.4 2053.9,804.0 2054.8,803.2 2055.8,802.7 2056.8,803.5 2057.8,803.6 2058.7,803.6 2059.7,802.7 2060.7,802.9 2061.7,803.8 2062.7,802.9 2063.7,803.5 2064.7,803.6 2065.7,802.2 2066.7,802.5 2067.7,803.5 2068.7,802.9 2069.7,802.6 2070.8,803.4 2071.8,803.0 2072.8,802.4 2073.8,804.1 2074.9,802.6 2075.9,802.3 2077.0,802.4 2078.0,803.6 2079.1,802.5 2080.1,803.3 2081.2,802.3 2082.2,802.2 2083.3,802.5 2084.3,803.1 2085.4,803.0 2086.5,802.0 2087.6,803.1 2088.6,802.1 2089.7,802.1 2090.8,802.6 2091.9,800.8 2093.0,802.3 2094.1,800.9 2095.2,803.7 2096.3,803.9 2097.4,801.6 2098.5,801.9 2099.6,802.5 2100.7,802.3 2101.8,803.5 2103.0,802.6 2104.1,802.9 2105.2,802.3 2106.3,801.6 2107.5,802.1 2108.6,801.9 2109.8,802.6 2110.9,802.4 2112.0,802.0 2113.2,802.3 2114.3,801.2 2115.5,802.6 2116.7,800.7 2117.8,802.7 2119.0,801.3 2120.2,802.5 2121.3,800.8 2122.5,801.8 2123.7,801.7 2124.9,801.4 2126.1,802.3 2127.2,802.6 2128.4,803.3 2129.6,801.0 2130.8,802.3 2132.0,802.2 2133.2,801.8 2134.4,800.5 2135.6,803.0 2136.9,801.6 2138.1,802.0 2139.3,801.4 2140.5,803.0 2141.7,802.0 2143.0,801.2 2144.2,800.7 2145.4,800.6 2146.7,802.3 2147.9,801.7 2149.2,801.8 2150.4,802.6 2151.6,802.6 2152.9,801.1 2154.2,801.5 2155.4,801.7 2156.7,800.8 2157.9,802.3 2159.2,801.3 2160.5,801.6 2161.7,801.6 2163.0,801.3 2164.3,801.5 2165.6,801.4 2166.9,801.4 2168.2,800.2 2169.5,801.8 2170.7,800.9 2172.0,801.1 2173.3,801.8 2174.6,801.0 2176.0,802.1 2177.3,800.7 2178.6,802.1 2179.9,801.8 2181.2,801.3 2182.5,800.9 2183.8,800.9 2185.2,800.9 2186.5,801.6 2187.8,802.1 2189.2,801.1 2190.5,801.2 2191.8,802.1 2193.2,800.8 2194.5,801.3 2195.9,802.1 2197.2,801.1 2198.6,802.3 2200.0,802.0 2201.3,801.1 2202.7,802.5 2204.0,801.4 2205.4,802.3 2206.8,800.9 2208.2,801.9 2209.5,801.3 2210.9,802.4 2212.3,801.6 2213.7,800.7 2215.1,801.1 2216.5,802.6 2217.9,800.7 2219.3,800.8 2220.7,801.6 2222.1,800.4 2223.5,802.1 2224.9,801.4 2226.3,800.6 2227.7,800.5 2229.1,800.5 2230.5,802.1 2232.0,802.6 2233.4,801.1 2234.8,802.3 2236.2,801.4 2237.7,802.2 2239.1,800.6 2240.6,800.8 2242.0,800.9 2243.4,801.3 2244.9,801.3 2246.3,801.5 2247.8,801.1 2249.2,801.1 2250.7,801.0 2252.2,801.6 2253.6,800.0 2255.1,801.1 2256.6,800.4 2258.0,800.4 2259.5,801.9 2261.0,802.4 2262.5,800.4 2263.9,801.6 2265.4,801.2 2266.9,801.5 2268.4,801.2 2269.9,802.1 2271.4,801.4 2272.9,801.6 2274.4,801.3 2275.9,802.9 2277.4,800.7 2278.9,801.1 2280.4,802.5 2281.9,801.8 2283.5,801.3 2285.0,800.8 2286.5,801.3 2288.0,800.3 2289.6,801.3 2291.1,801.9 2292.6,801.7 2294.2,800.8 2295.7,801.7 2297.2,800.7 2298.8,800.6 2300.3,800.9 2301.9,800.6 2303.4,801.4 2305.0,801.3 2306.5,801.7 2308.1,801.7 2309.7,802.3 2311.2,801.6 2312.8,802.0 2314.4,802.2 2315.9,801.2 2317.5,800.9 2319.1,801.5 2320.7,800.3 2322.2,800.6 2323.8,800.5 2325.4,801.7 2327.0,802.3 2328.6,800.9 2330.2,801.0 2331.8,800.8 2333.4,801.0 2335.0,800.4 2336.6,801.4 2338.2,800.8 2339.8,801.9 2341.4,802.8 2343.0,801.5 2344.7,800.2 2346.3,802.4 2347.9,800.5 2349.5,801.7 2351.2,801.5 2352.8,801.2 2354.4,801.1 2356.1,801.9 2357.7,801.2 2359.3,800.9 2361.0,800.7 2362.6,801.8 2364.3,800.2 2365.9,799.9 2367.6,799.6 2369.2,802.1 2370.9,801.1 2372.6,802.5 2374.2,801.0 2375.9,800.9 2377.6,802.0 2379.2,802.3 2380.9,801.1 2382.6,800.8 2384.3,801.8 2385.9,801.4 2387.6,803.0 2389.3,801.7 2391.0,801.1 2392.7,801.1 2394.4,800.2 2396.1,802.0 2397.8,802.8 2399.5,800.9 2401.2,801.6 2402.9,801.0 2404.6,800.7 2406.3,800.8" fill="none" stroke="#1b2c5e" stroke-width="2.2" stroke-dasharray="7,3" stroke-linejoin="round"/><polyline points="1957.0,752.0 1957.0,750.6 1957.1,747.8 1957.2,744.0 1957.3,739.3 1957.4,733.9 1957.5,727.7 1957.6,720.9 1957.8,713.5 1958.0,705.6 1958.1,697.0 1958.3,688.0 1958.5,678.4 1958.7,668.3 1958.9,665.5 1959.2,665.3 1959.4,667.4 1959.6,666.7 1959.9,668.1 1960.2,668.8 1960.4,667.9 1960.7,669.7 1961.0,670.5 1961.3,670.6 1961.6,671.0 1961.9,672.4 1962.2,672.7 1962.6,674.4 1962.9,674.6 1963.2,675.3 1963.6,676.5 1963.9,677.3 1964.3,678.0 1964.7,677.6 1965.0,678.2 1965.4,678.9 1965.8,679.2 1966.2,680.7 1966.6,680.5 1967.0,680.8 1967.4,681.0 1967.9,682.7 1968.3,682.9 1968.7,684.5 1969.2,684.0 1969.6,685.6 1970.0,685.6 1970.5,684.4 1971.0,687.1 1971.4,685.5 1971.9,686.3 1972.4,687.2 1972.9,687.1 1973.4,687.4 1973.9,687.5 1974.4,688.7 1974.9,689.4 1975.4,689.7 1975.9,690.4 1976.4,690.1 1977.0,690.9 1977.5,690.0 1978.0,692.3 1978.6,692.1 1979.1,692.3 1979.7,693.4 1980.3,690.9 1980.8,694.2 1981.4,693.0 1982.0,693.4 1982.5,692.2 1983.1,694.9 1983.7,693.0 1984.3,694.5 1984.9,694.3 1985.5,694.9 1986.1,694.2 1986.8,695.6 1987.4,695.1 1988.0,694.9 1988.6,694.1 1989.3,697.2 1989.9,694.7 1990.6,695.2 1991.2,696.3 1991.9,696.0 1992.5,696.6 1993.2,695.3 1993.8,696.4 1994.5,696.9 1995.2,697.0 1995.9,697.1 1996.6,697.2 1997.3,697.8 1998.0,695.9 1998.7,698.7 1999.4,700.0 2000.1,697.7 2000.8,697.8 2001.5,697.5 2002.2,698.0 2002.9,698.1 2003.7,697.8 2004.4,697.5 2005.1,698.5 2005.9,698.6 2006.6,697.1 2007.4,698.1 2008.1,699.2 2008.9,697.0 2009.7,698.1 2010.4,699.1 2011.2,699.6 2012.0,698.6 2012.8,699.5 2013.5,699.7 2014.3,699.9 2015.1,699.4 2015.9,698.4 2016.7,699.5 2017.5,700.2 2018.3,698.8 2019.2,699.3 2020.0,698.8 2020.8,698.6 2021.6,699.6 2022.4,699.6 2023.3,699.6 2024.1,700.4 2025.0,699.2 2025.8,698.8 2026.7,699.6 2027.5,699.9 2028.4,700.0 2029.2,700.4 2030.1,700.4 2031.0,700.2 2031.8,700.6 2032.7,700.3 2033.6,701.1 2034.5,699.8 2035.4,700.1 2036.2,700.9 2037.1,701.8 2038.0,700.2 2038.9,699.5 2039.8,700.8 2040.8,700.7 2041.7,700.7 2042.6,699.9 2043.5,701.0 2044.4,699.8 2045.4,700.7 2046.3,699.9 2047.2,700.5 2048.2,700.7 2049.1,701.6 2050.1,701.1 2051.0,700.8 2052.0,700.2 2052.9,700.6 2053.9,701.2 2054.8,700.5 2055.8,700.1 2056.8,700.9 2057.8,701.2 2058.7,701.1 2059.7,700.4 2060.7,700.6 2061.7,701.6 2062.7,700.7 2063.7,701.3 2064.7,701.5 2065.7,700.2 2066.7,700.5 2067.7,701.6 2068.7,701.1 2069.7,700.8 2070.8,701.6 2071.8,701.3 2072.8,700.8 2073.8,702.5 2074.9,701.0 2075.9,700.8 2077.0,701.0 2078.0,702.2 2079.1,701.1 2080.1,702.0 2081.2,701.0 2082.2,701.0 2083.3,701.3 2084.3,702.0 2085.4,701.9 2086.5,700.9 2087.6,702.1 2088.6,701.2 2089.7,701.2 2090.8,701.8 2091.9,700.0 2093.0,701.6 2094.1,700.2 2095.2,703.0 2096.3,703.2 2097.4,701.0 2098.5,701.3 2099.6,701.9 2100.7,701.8 2101.8,703.0 2103.0,702.2 2104.1,702.5 2105.2,701.9 2106.3,701.2 2107.5,701.8 2108.6,701.6 2109.8,702.3 2110.9,702.2 2112.0,701.8 2113.2,702.1 2114.3,701.0 2115.5,702.5 2116.7,700.6 2117.8,702.6 2119.0,701.2 2120.2,702.5 2121.3,700.9 2122.5,701.9 2123.7,701.7 2124.9,701.5 2126.1,702.5 2127.2,702.8 2128.4,703.4 2129.6,701.2 2130.8,702.6 2132.0,702.5 2133.2,702.1 2134.4,700.8 2135.6,703.3 2136.9,702.0 2138.1,702.4 2139.3,701.8 2140.5,703.4 2141.7,702.5 2143.0,701.6 2144.2,701.1 2145.4,701.1 2146.7,702.8 2147.9,702.2 2149.2,702.3 2150.4,703.2 2151.6,703.3 2152.9,701.8 2154.2,702.1 2155.4,702.4 2156.7,701.5 2157.9,703.0 2159.2,702.0 2160.5,702.3 2161.7,702.4 2163.0,702.0 2164.3,702.2 2165.6,702.2 2166.9,702.2 2168.2,701.1 2169.5,702.6 2170.7,701.7 2172.0,702.0 2173.3,702.7 2174.6,701.9 2176.0,703.0 2177.3,701.6 2178.6,703.0 2179.9,702.8 2181.2,702.2 2182.5,701.9 2183.8,701.8 2185.2,701.9 2186.5,702.6 2187.8,703.1 2189.2,702.1 2190.5,702.3 2191.8,703.2 2193.2,701.8 2194.5,702.4 2195.9,703.2 2197.2,702.2 2198.6,703.4 2200.0,703.1 2201.3,702.3 2202.7,703.6 2204.0,702.5 2205.4,703.5 2206.8,702.1 2208.2,703.1 2209.5,702.4 2210.9,703.6 2212.3,702.8 2213.7,701.9 2215.1,702.3 2216.5,703.8 2217.9,702.0 2219.3,702.0 2220.7,702.9 2222.1,701.6 2223.5,703.3 2224.9,702.7 2226.3,701.9 2227.7,701.7 2229.1,701.8 2230.5,703.4 2232.0,703.9 2233.4,702.4 2234.8,703.6 2236.2,702.7 2237.7,703.5 2239.1,701.9 2240.6,702.1 2242.0,702.3 2243.4,702.7 2244.9,702.6 2246.3,702.9 2247.8,702.4 2249.2,702.5 2250.7,702.4 2252.2,703.0 2253.6,701.4 2255.1,702.5 2256.6,701.7 2258.0,701.8 2259.5,703.3 2261.0,703.9 2262.5,701.8 2263.9,703.0 2265.4,702.7 2266.9,702.9 2268.4,702.6 2269.9,703.5 2271.4,702.8 2272.9,703.0 2274.4,702.7 2275.9,704.3 2277.4,702.2 2278.9,702.5 2280.4,703.9 2281.9,703.2 2283.5,702.7 2285.0,702.3 2286.5,702.7 2288.0,701.8 2289.6,702.7 2291.1,703.4 2292.6,703.2 2294.2,702.2 2295.7,703.2 2297.2,702.2 2298.8,702.1 2300.3,702.4 2301.9,702.1 2303.4,702.9 2305.0,702.8 2306.5,703.2 2308.1,703.2 2309.7,703.8 2311.2,703.1 2312.8,703.5 2314.4,703.7 2315.9,702.7 2317.5,702.5 2319.1,703.0 2320.7,701.8 2322.2,702.1 2323.8,702.1 2325.4,703.2 2327.0,703.8 2328.6,702.4 2330.2,702.6 2331.8,702.3 2333.4,702.5 2335.0,701.9 2336.6,703.0 2338.2,702.3 2339.8,703.4 2341.4,704.4 2343.0,703.1 2344.7,701.8 2346.3,703.9 2347.9,702.1 2349.5,703.3 2351.2,703.1 2352.8,702.8 2354.4,702.7 2356.1,703.5 2357.7,702.7 2359.3,702.5 2361.0,702.2 2362.6,703.3 2364.3,701.7 2365.9,701.5 2367.6,701.2 2369.2,703.7 2370.9,702.7 2372.6,704.1 2374.2,702.5 2375.9,702.4 2377.6,703.6 2379.2,703.9 2380.9,702.7 2382.6,702.4 2384.3,703.3 2385.9,703.0 2387.6,704.5 2389.3,703.3 2391.0,702.7 2392.7,702.7 2394.4,701.7 2396.1,703.6 2397.8,704.3 2399.5,702.5 2401.2,703.2 2402.9,702.6 2404.6,702.3 2406.3,702.4" fill="none" stroke="#a8362a" stroke-width="2.2" stroke-dasharray="7,3" stroke-linejoin="round"/><line x1="2318.7" y1="704.8" x2="2318.7" y2="750.0" stroke="#999" stroke-width="1.1"/><path d="M2315.2,710.8 L2318.7,704.8 L2322.2,710.8" fill="none" stroke="#999" stroke-width="1.1"/><path d="M2315.2,744.0 L2318.7,750.0 L2322.2,744.0" fill="none" stroke="#999" stroke-width="1.1"/><line x1="2318.7" y1="754.0" x2="2318.7" y2="799.2" stroke="#999" stroke-width="1.1"/><path d="M2315.2,760.0 L2318.7,754.0 L2322.2,760.0" fill="none" stroke="#999" stroke-width="1.1"/><path d="M2315.2,793.2 L2318.7,799.2 L2322.2,793.2" fill="none" stroke="#999" stroke-width="1.1"/><rect x="1952.5" y="638.5" width="453.8" height="264.9" fill="none" stroke="#333" stroke-width="1"/><rect x="2279" y="647" width="119" height="53.700000000000045" rx="3" fill="#fff" fill-opacity="0.8" stroke="#ddd" stroke-width="0.8"/><line x1="2287" y1="660" x2="2322" y2="660" stroke="#1b2c5e" stroke-width="2.2" stroke-dasharray="7,3"/><text x="2334.0" y="666.3" font-family="DejaVu Sans, sans-serif" font-size="17.5" text-anchor="start" fill="#111" >Head 1</text><line x1="2287" y1="685" x2="2322" y2="685" stroke="#a8362a" stroke-width="2.2" stroke-dasharray="7,3"/><text x="2334.0" y="691.3" font-family="DejaVu Sans, sans-serif" font-size="17.5" text-anchor="start" fill="#111" >Head 2</text><text x="2182.0" y="733.0" font-family="DejaVu Sans, sans-serif" font-size="16.5" text-anchor="middle" fill="#111" >Positive Heads (2)</text><text x="2182.0" y="835.0" font-family="DejaVu Sans, sans-serif" font-size="16.5" text-anchor="middle" fill="#111" >Negative Heads (1)</text><text x="2179.4" y="634.0" font-family="DejaVu Sans, sans-serif" font-size="13.8" text-anchor="middle" fill="#111" >QK Dynamics</text><text x="2179.4" y="932.4" font-family="DejaVu Sans, sans-serif" font-size="13.8" text-anchor="middle" fill="#111" >Steps</text><text x="1909.5" y="771.0" font-family="DejaVu Sans, sans-serif" font-size="13.8" text-anchor="middle" fill="#111" transform="rotate(-90 1909.5 770.95)" dy="5">Average of Diagnal Elements of KQ</text>
<line x1="1957.0" y1="968.5" x2="1957.0" y2="1232.6" stroke="#c8c8c8" stroke-width="0.7" stroke-dasharray="2,2"/><line x1="1957.0" y1="1232.6" x2="1957.0" y2="1236.1" stroke="#333" stroke-width="0.8"/><text x="1957.0" y="1247.1" font-family="DejaVu Sans, sans-serif" font-size="10" text-anchor="middle" fill="#111" >0k</text><line x1="2013.2" y1="968.5" x2="2013.2" y2="1232.6" stroke="#c8c8c8" stroke-width="0.7" stroke-dasharray="2,2"/><line x1="2013.2" y1="1232.6" x2="2013.2" y2="1236.1" stroke="#333" stroke-width="0.8"/><text x="2013.2" y="1247.1" font-family="DejaVu Sans, sans-serif" font-size="10" text-anchor="middle" fill="#111" >18k</text><line x1="2069.3" y1="968.5" x2="2069.3" y2="1232.6" stroke="#c8c8c8" stroke-width="0.7" stroke-dasharray="2,2"/><line x1="2069.3" y1="1232.6" x2="2069.3" y2="1236.1" stroke="#333" stroke-width="0.8"/><text x="2069.3" y="1247.1" font-family="DejaVu Sans, sans-serif" font-size="10" text-anchor="middle" fill="#111" >37k</text><line x1="2125.5" y1="968.5" x2="2125.5" y2="1232.6" stroke="#c8c8c8" stroke-width="0.7" stroke-dasharray="2,2"/><line x1="2125.5" y1="1232.6" x2="2125.5" y2="1236.1" stroke="#333" stroke-width="0.8"/><text x="2125.5" y="1247.1" font-family="DejaVu Sans, sans-serif" font-size="10" text-anchor="middle" fill="#111" >56k</text><line x1="2181.6" y1="968.5" x2="2181.6" y2="1232.6" stroke="#c8c8c8" stroke-width="0.7" stroke-dasharray="2,2"/><line x1="2181.6" y1="1232.6" x2="2181.6" y2="1236.1" stroke="#333" stroke-width="0.8"/><text x="2181.6" y="1247.1" font-family="DejaVu Sans, sans-serif" font-size="10" text-anchor="middle" fill="#111" >75k</text><line x1="2237.8" y1="968.5" x2="2237.8" y2="1232.6" stroke="#c8c8c8" stroke-width="0.7" stroke-dasharray="2,2"/><line x1="2237.8" y1="1232.6" x2="2237.8" y2="1236.1" stroke="#333" stroke-width="0.8"/><text x="2237.8" y="1247.1" font-family="DejaVu Sans, sans-serif" font-size="10" text-anchor="middle" fill="#111" >93k</text><line x1="2294.0" y1="968.5" x2="2294.0" y2="1232.6" stroke="#c8c8c8" stroke-width="0.7" stroke-dasharray="2,2"/><line x1="2294.0" y1="1232.6" x2="2294.0" y2="1236.1" stroke="#333" stroke-width="0.8"/><text x="2294.0" y="1247.1" font-family="DejaVu Sans, sans-serif" font-size="10" text-anchor="middle" fill="#111" >112k</text><line x1="2350.1" y1="968.5" x2="2350.1" y2="1232.6" stroke="#c8c8c8" stroke-width="0.7" stroke-dasharray="2,2"/><line x1="2350.1" y1="1232.6" x2="2350.1" y2="1236.1" stroke="#333" stroke-width="0.8"/><text x="2350.1" y="1247.1" font-family="DejaVu Sans, sans-serif" font-size="10" text-anchor="middle" fill="#111" >131k</text><line x1="2406.3" y1="968.5" x2="2406.3" y2="1232.6" stroke="#c8c8c8" stroke-width="0.7" stroke-dasharray="2,2"/><line x1="2406.3" y1="1232.6" x2="2406.3" y2="1236.1" stroke="#333" stroke-width="0.8"/><text x="2406.3" y="1247.1" font-family="DejaVu Sans, sans-serif" font-size="10" text-anchor="middle" fill="#111" >150k</text><line x1="1952.5" y1="968.5" x2="2406.3" y2="968.5" stroke="#c8c8c8" stroke-width="0.7" stroke-dasharray="2,2"/><line x1="1949.0" y1="968.5" x2="1952.5" y2="968.5" stroke="#333" stroke-width="0.8"/><text x="1947.5" y="972.1" font-family="DejaVu Sans, sans-serif" font-size="10" text-anchor="end" fill="#111" >4.00</text><line x1="1952.5" y1="985.0" x2="2406.3" y2="985.0" stroke="#c8c8c8" stroke-width="0.7" stroke-dasharray="2,2"/><line x1="1949.0" y1="985.0" x2="1952.5" y2="985.0" stroke="#333" stroke-width="0.8"/><text x="1947.5" y="988.6" font-family="DejaVu Sans, sans-serif" font-size="10" text-anchor="end" fill="#111" >3.50</text><line x1="1952.5" y1="1001.5" x2="2406.3" y2="1001.5" stroke="#c8c8c8" stroke-width="0.7" stroke-dasharray="2,2"/><line x1="1949.0" y1="1001.5" x2="1952.5" y2="1001.5" stroke="#333" stroke-width="0.8"/><text x="1947.5" y="1005.1" font-family="DejaVu Sans, sans-serif" font-size="10" text-anchor="end" fill="#111" >3.00</text><line x1="1952.5" y1="1034.5" x2="2406.3" y2="1034.5" stroke="#c8c8c8" stroke-width="0.7" stroke-dasharray="2,2"/><line x1="1949.0" y1="1034.5" x2="1952.5" y2="1034.5" stroke="#333" stroke-width="0.8"/><text x="1947.5" y="1038.1" font-family="DejaVu Sans, sans-serif" font-size="10" text-anchor="end" fill="#111" >2.00</text><line x1="1952.5" y1="1067.5" x2="2406.3" y2="1067.5" stroke="#c8c8c8" stroke-width="0.7" stroke-dasharray="2,2"/><line x1="1949.0" y1="1067.5" x2="1952.5" y2="1067.5" stroke="#333" stroke-width="0.8"/><text x="1947.5" y="1071.1" font-family="DejaVu Sans, sans-serif" font-size="10" text-anchor="end" fill="#111" >1.00</text><line x1="1952.5" y1="1100.5" x2="2406.3" y2="1100.5" stroke="#c8c8c8" stroke-width="0.7" stroke-dasharray="2,2"/><line x1="1949.0" y1="1100.5" x2="1952.5" y2="1100.5" stroke="#333" stroke-width="0.8"/><text x="1947.5" y="1104.1" font-family="DejaVu Sans, sans-serif" font-size="10" text-anchor="end" fill="#111" >0.00</text><line x1="1952.5" y1="1133.6" x2="2406.3" y2="1133.6" stroke="#c8c8c8" stroke-width="0.7" stroke-dasharray="2,2"/><line x1="1949.0" y1="1133.6" x2="1952.5" y2="1133.6" stroke="#333" stroke-width="0.8"/><text x="1947.5" y="1137.2" font-family="DejaVu Sans, sans-serif" font-size="10" text-anchor="end" fill="#111" >-1.00</text><line x1="1952.5" y1="1166.6" x2="2406.3" y2="1166.6" stroke="#c8c8c8" stroke-width="0.7" stroke-dasharray="2,2"/><line x1="1949.0" y1="1166.6" x2="1952.5" y2="1166.6" stroke="#333" stroke-width="0.8"/><text x="1947.5" y="1170.2" font-family="DejaVu Sans, sans-serif" font-size="10" text-anchor="end" fill="#111" >-2.00</text><line x1="1952.5" y1="1199.6" x2="2406.3" y2="1199.6" stroke="#c8c8c8" stroke-width="0.7" stroke-dasharray="2,2"/><line x1="1949.0" y1="1199.6" x2="1952.5" y2="1199.6" stroke="#333" stroke-width="0.8"/><text x="1947.5" y="1203.2" font-family="DejaVu Sans, sans-serif" font-size="10" text-anchor="end" fill="#111" >-3.00</text><line x1="1952.5" y1="1216.1" x2="2406.3" y2="1216.1" stroke="#c8c8c8" stroke-width="0.7" stroke-dasharray="2,2"/><line x1="1949.0" y1="1216.1" x2="1952.5" y2="1216.1" stroke="#333" stroke-width="0.8"/><text x="1947.5" y="1219.7" font-family="DejaVu Sans, sans-serif" font-size="10" text-anchor="end" fill="#111" >-3.50</text><line x1="1952.5" y1="1232.6" x2="2406.3" y2="1232.6" stroke="#c8c8c8" stroke-width="0.7" stroke-dasharray="2,2"/><line x1="1949.0" y1="1232.6" x2="1952.5" y2="1232.6" stroke="#333" stroke-width="0.8"/><text x="1947.5" y="1236.2" font-family="DejaVu Sans, sans-serif" font-size="10" text-anchor="end" fill="#111" >-4.00</text><line x1="1952.5" y1="985.0" x2="2406.3" y2="985.0" stroke="#222" stroke-width="1.1" stroke-dasharray="4,2.5"/><line x1="1952.5" y1="1100.5" x2="2406.3" y2="1100.5" stroke="#222" stroke-width="1.1" stroke-dasharray="4,2.5"/><line x1="1952.5" y1="1216.1" x2="2406.3" y2="1216.1" stroke="#222" stroke-width="1.1" stroke-dasharray="4,2.5"/><polyline points="1957.0,1100.5 1957.0,1101.6 1957.1,1103.8 1957.2,1106.8 1957.3,1110.4 1957.4,1114.6 1957.5,1119.3 1957.6,1124.6 1957.8,1130.3 1958.0,1136.5 1958.1,1143.1 1958.3,1150.1 1958.5,1157.3 1958.7,1157.8 1958.9,1157.3 1959.2,1159.3 1959.4,1158.8 1959.6,1160.3 1959.9,1159.2 1960.2,1160.2 1960.4,1160.2 1960.7,1161.6 1961.0,1161.8 1961.3,1162.7 1961.6,1163.5 1961.9,1163.6 1962.2,1164.9 1962.6,1165.0 1962.9,1165.1 1963.2,1166.0 1963.6,1166.8 1963.9,1166.1 1964.3,1167.8 1964.7,1168.7 1965.0,1168.9 1965.4,1169.8 1965.8,1170.4 1966.2,1170.9 1966.6,1170.3 1967.0,1171.9 1967.4,1172.4 1967.9,1172.7 1968.3,1172.6 1968.7,1174.2 1969.2,1175.0 1969.6,1174.0 1970.0,1176.5 1970.5,1176.5 1971.0,1176.5 1971.4,1176.2 1971.9,1178.3 1972.4,1179.5 1972.9,1178.5 1973.4,1179.6 1973.9,1180.0 1974.4,1180.0 1974.9,1180.6 1975.4,1181.0 1975.9,1181.9 1976.4,1181.5 1977.0,1181.8 1977.5,1182.9 1978.0,1183.6 1978.6,1183.4 1979.1,1184.0 1979.7,1185.1 1980.3,1185.2 1980.8,1184.9 1981.4,1185.8 1982.0,1186.3 1982.5,1186.4 1983.1,1186.9 1983.7,1187.2 1984.3,1188.5 1984.9,1187.1 1985.5,1188.2 1986.1,1189.0 1986.8,1188.4 1987.4,1189.1 1988.0,1189.5 1988.6,1189.3 1989.3,1189.0 1989.9,1190.2 1990.6,1189.9 1991.2,1189.9 1991.9,1191.8 1992.5,1191.8 1993.2,1191.4 1993.8,1192.9 1994.5,1192.5 1995.2,1192.0 1995.9,1192.3 1996.6,1192.8 1997.3,1194.3 1998.0,1192.4 1998.7,1193.5 1999.4,1193.7 2000.1,1194.0 2000.8,1195.3 2001.5,1195.4 2002.2,1195.5 2002.9,1194.2 2003.7,1195.7 2004.4,1195.7 2005.1,1195.9 2005.9,1195.7 2006.6,1195.9 2007.4,1196.2 2008.1,1197.1 2008.9,1198.3 2009.7,1196.8 2010.4,1196.9 2011.2,1196.6 2012.0,1197.5 2012.8,1197.9 2013.5,1197.6 2014.3,1198.7 2015.1,1198.6 2015.9,1198.8 2016.7,1198.3 2017.5,1197.6 2018.3,1198.4 2019.2,1198.4 2020.0,1199.0 2020.8,1199.1 2021.6,1199.6 2022.4,1199.7 2023.3,1200.9 2024.1,1200.4 2025.0,1200.6 2025.8,1199.7 2026.7,1199.9 2027.5,1199.8 2028.4,1199.8 2029.2,1200.8 2030.1,1200.3 2031.0,1200.0 2031.8,1201.1 2032.7,1200.7 2033.6,1201.5 2034.5,1202.3 2035.4,1201.6 2036.2,1202.2 2037.1,1201.9 2038.0,1202.3 2038.9,1202.0 2039.8,1203.3 2040.8,1201.4 2041.7,1201.9 2042.6,1202.8 2043.5,1203.2 2044.4,1202.9 2045.4,1202.7 2046.3,1202.9 2047.2,1203.1 2048.2,1204.4 2049.1,1204.1 2050.1,1203.0 2051.0,1203.6 2052.0,1204.6 2052.9,1204.4 2053.9,1204.8 2054.8,1204.7 2055.8,1203.7 2056.8,1204.5 2057.8,1204.0 2058.7,1204.5 2059.7,1205.5 2060.7,1205.2 2061.7,1203.8 2062.7,1205.5 2063.7,1205.7 2064.7,1204.7 2065.7,1205.3 2066.7,1205.5 2067.7,1204.9 2068.7,1206.6 2069.7,1205.6 2070.8,1206.4 2071.8,1206.7 2072.8,1206.5 2073.8,1205.6 2074.9,1206.4 2075.9,1207.3 2077.0,1207.0 2078.0,1205.8 2079.1,1206.2 2080.1,1207.3 2081.2,1205.6 2082.2,1207.1 2083.3,1207.7 2084.3,1207.2 2085.4,1206.8 2086.5,1206.5 2087.6,1206.9 2088.6,1207.7 2089.7,1207.9 2090.8,1208.4 2091.9,1207.8 2093.0,1208.2 2094.1,1207.8 2095.2,1208.7 2096.3,1208.4 2097.4,1208.6 2098.5,1208.9 2099.6,1209.0 2100.7,1209.0 2101.8,1209.1 2103.0,1208.3 2104.1,1208.6 2105.2,1209.4 2106.3,1208.6 2107.5,1208.8 2108.6,1208.3 2109.8,1209.2 2110.9,1209.3 2112.0,1209.6 2113.2,1209.2 2114.3,1209.1 2115.5,1209.4 2116.7,1209.6 2117.8,1209.3 2119.0,1209.6 2120.2,1209.6 2121.3,1210.3 2122.5,1209.8 2123.7,1210.5 2124.9,1210.4 2126.1,1210.0 2127.2,1209.1 2128.4,1209.7 2129.6,1210.3 2130.8,1210.4 2132.0,1209.9 2133.2,1209.8 2134.4,1209.9 2135.6,1210.7 2136.9,1210.6 2138.1,1210.9 2139.3,1210.9 2140.5,1211.3 2141.7,1211.0 2143.0,1212.1 2144.2,1211.6 2145.4,1210.9 2146.7,1211.6 2147.9,1210.9 2149.2,1211.9 2150.4,1211.5 2151.6,1211.2 2152.9,1212.0 2154.2,1211.9 2155.4,1210.3 2156.7,1212.0 2157.9,1212.0 2159.2,1212.0 2160.5,1211.7 2161.7,1211.8 2163.0,1211.4 2164.3,1211.5 2165.6,1212.2 2166.9,1212.2 2168.2,1212.8 2169.5,1212.9 2170.7,1212.5 2172.0,1211.8 2173.3,1212.2 2174.6,1211.9 2176.0,1211.9 2177.3,1212.5 2178.6,1211.4 2179.9,1212.8 2181.2,1212.9 2182.5,1212.8 2183.8,1212.1 2185.2,1212.7 2186.5,1213.1 2187.8,1212.5 2189.2,1212.2 2190.5,1212.9 2191.8,1213.0 2193.2,1212.4 2194.5,1212.5 2195.9,1212.5 2197.2,1213.4 2198.6,1212.9 2200.0,1212.9 2201.3,1214.1 2202.7,1212.6 2204.0,1213.2 2205.4,1213.4 2206.8,1212.2 2208.2,1213.3 2209.5,1213.7 2210.9,1213.5 2212.3,1213.2 2213.7,1213.1 2215.1,1213.6 2216.5,1214.0 2217.9,1213.9 2219.3,1214.0 2220.7,1214.2 2222.1,1213.7 2223.5,1214.0 2224.9,1213.7 2226.3,1214.2 2227.7,1214.3 2229.1,1213.9 2230.5,1214.1 2232.0,1213.3 2233.4,1214.4 2234.8,1213.9 2236.2,1214.0 2237.7,1214.7 2239.1,1213.7 2240.6,1214.0 2242.0,1215.2 2243.4,1213.8 2244.9,1213.7 2246.3,1214.6 2247.8,1213.4 2249.2,1214.2 2250.7,1214.8 2252.2,1214.0 2253.6,1214.5 2255.1,1215.0 2256.6,1215.4 2258.0,1214.3 2259.5,1214.8 2261.0,1214.1 2262.5,1214.3 2263.9,1214.7 2265.4,1214.8 2266.9,1213.6 2268.4,1213.7 2269.9,1214.2 2271.4,1214.8 2272.9,1215.1 2274.4,1214.8 2275.9,1213.8 2277.4,1214.4 2278.9,1214.8 2280.4,1215.3 2281.9,1214.7 2283.5,1215.2 2285.0,1214.8 2286.5,1214.4 2288.0,1214.3 2289.6,1214.8 2291.1,1215.0 2292.6,1214.8 2294.2,1214.0 2295.7,1214.7 2297.2,1215.6 2298.8,1214.2 2300.3,1214.8 2301.9,1213.2 2303.4,1215.2 2305.0,1215.1 2306.5,1215.2 2308.1,1214.8 2309.7,1215.3 2311.2,1215.8 2312.8,1216.1 2314.4,1215.2 2315.9,1215.4 2317.5,1215.4 2319.1,1214.1 2320.7,1214.8 2322.2,1214.6 2323.8,1215.4 2325.4,1215.0 2327.0,1215.3 2328.6,1215.3 2330.2,1214.9 2331.8,1214.9 2333.4,1215.1 2335.0,1215.2 2336.6,1216.0 2338.2,1215.7 2339.8,1215.1 2341.4,1215.5 2343.0,1215.7 2344.7,1215.2 2346.3,1215.8 2347.9,1215.7 2349.5,1214.9 2351.2,1215.6 2352.8,1214.7 2354.4,1215.2 2356.1,1215.0 2357.7,1214.9 2359.3,1216.5 2361.0,1215.5 2362.6,1216.1 2364.3,1215.7 2365.9,1215.5 2367.6,1214.9 2369.2,1215.5 2370.9,1214.7 2372.6,1215.8 2374.2,1215.6 2375.9,1215.5 2377.6,1215.1 2379.2,1215.6 2380.9,1215.9 2382.6,1215.7 2384.3,1216.3 2385.9,1215.0 2387.6,1215.2 2389.3,1215.4 2391.0,1215.5 2392.7,1215.9 2394.4,1215.8 2396.1,1215.2 2397.8,1216.0 2399.5,1216.0 2401.2,1214.9 2402.9,1214.9 2404.6,1215.5 2406.3,1215.4" fill="none" stroke="#1b2c5e" stroke-width="2.4" stroke-dasharray="7,3" stroke-linejoin="round"/><polyline points="1957.0,1101.3 1957.0,1101.3 1957.1,1100.1 1957.2,1102.1 1957.3,1100.6 1957.4,1102.0 1957.5,1099.8 1957.6,1100.4 1957.8,1099.7 1958.0,1100.9 1958.1,1100.3 1958.3,1100.7 1958.5,1101.0 1958.7,1100.5 1958.9,1101.4 1959.2,1100.8 1959.4,1100.1 1959.6,1100.5 1959.9,1100.8 1960.2,1099.1 1960.4,1100.5 1960.7,1100.9 1961.0,1100.4 1961.3,1100.9 1961.6,1100.8 1961.9,1100.8 1962.2,1099.2 1962.6,1100.5 1962.9,1100.4 1963.2,1100.1 1963.6,1099.2 1963.9,1100.7 1964.3,1101.0 1964.7,1098.9 1965.0,1101.5 1965.4,1100.8 1965.8,1100.1 1966.2,1099.0 1966.6,1101.2 1967.0,1102.2 1967.4,1100.1 1967.9,1100.9 1968.3,1100.8 1968.7,1100.2 1969.2,1100.4 1969.6,1100.4 1970.0,1100.8 1970.5,1099.7 1971.0,1099.6 1971.4,1100.5 1971.9,1100.8 1972.4,1100.1 1972.9,1100.2 1973.4,1101.2 1973.9,1100.9 1974.4,1099.9 1974.9,1100.6 1975.4,1100.8 1975.9,1100.4 1976.4,1100.6 1977.0,1100.6 1977.5,1101.8 1978.0,1099.4 1978.6,1100.4 1979.1,1101.1 1979.7,1099.9 1980.3,1100.3 1980.8,1100.5 1981.4,1099.9 1982.0,1099.1 1982.5,1100.2 1983.1,1099.5 1983.7,1099.1 1984.3,1101.2 1984.9,1100.9 1985.5,1100.0 1986.1,1101.7 1986.8,1100.7 1987.4,1099.7 1988.0,1099.9 1988.6,1100.2 1989.3,1101.8 1989.9,1099.0 1990.6,1100.2 1991.2,1100.0 1991.9,1100.2 1992.5,1101.7 1993.2,1101.5 1993.8,1101.4 1994.5,1099.3 1995.2,1101.1 1995.9,1100.7 1996.6,1100.7 1997.3,1100.2 1998.0,1100.2 1998.7,1100.4 1999.4,1101.4 2000.1,1102.6 2000.8,1100.4 2001.5,1100.4 2002.2,1099.7 2002.9,1100.6 2003.7,1101.0 2004.4,1100.3 2005.1,1101.6 2005.9,1101.2 2006.6,1101.2 2007.4,1100.4 2008.1,1099.2 2008.9,1100.0 2009.7,1099.8 2010.4,1100.4 2011.2,1100.4 2012.0,1100.8 2012.8,1100.7 2013.5,1102.2 2014.3,1101.3 2015.1,1101.4 2015.9,1100.0 2016.7,1100.1 2017.5,1099.8 2018.3,1099.5 2019.2,1100.8 2020.0,1099.9 2020.8,1099.3 2021.6,1100.6 2022.4,1099.8 2023.3,1100.7 2024.1,1101.6 2025.0,1100.5 2025.8,1101.1 2026.7,1100.5 2027.5,1100.9 2028.4,1100.3 2029.2,1102.0 2030.1,1099.2 2031.0,1099.7 2031.8,1100.8 2032.7,1101.2 2033.6,1100.5 2034.5,1100.1 2035.4,1100.3 2036.2,1100.3 2037.1,1101.9 2038.0,1101.3 2038.9,1099.7 2039.8,1100.4 2040.8,1101.6 2041.7,1101.1 2042.6,1101.5 2043.5,1101.2 2044.4,1099.8 2045.4,1100.7 2046.3,1099.8 2047.2,1100.4 2048.2,1101.6 2049.1,1101.0 2050.1,1099.0 2051.0,1101.1 2052.0,1101.3 2052.9,1099.7 2053.9,1100.5 2054.8,1100.6 2055.8,1099.6 2056.8,1101.7 2057.8,1100.3 2058.7,1101.3 2059.7,1101.5 2060.7,1101.1 2061.7,1099.8 2062.7,1100.6 2063.7,1101.8 2064.7,1101.3 2065.7,1099.5 2066.7,1099.9 2067.7,1101.3 2068.7,1098.9 2069.7,1100.8 2070.8,1101.4 2071.8,1100.6 2072.8,1099.9 2073.8,1099.5 2074.9,1099.9 2075.9,1100.8 2077.0,1100.9 2078.0,1101.5 2079.1,1100.6 2080.1,1101.0 2081.2,1100.4 2082.2,1101.4 2083.3,1100.9 2084.3,1101.1 2085.4,1101.4 2086.5,1101.3 2087.6,1101.2 2088.6,1101.3 2089.7,1100.2 2090.8,1100.5 2091.9,1101.4 2093.0,1100.2 2094.1,1100.4 2095.2,1099.6 2096.3,1100.7 2097.4,1100.7 2098.5,1101.0 2099.6,1100.5 2100.7,1100.2 2101.8,1100.4 2103.0,1100.7 2104.1,1100.2 2105.2,1100.5 2106.3,1100.4 2107.5,1101.2 2108.6,1100.4 2109.8,1101.2 2110.9,1101.1 2112.0,1100.4 2113.2,1099.1 2114.3,1099.9 2115.5,1100.5 2116.7,1100.7 2117.8,1099.9 2119.0,1099.6 2120.2,1099.7 2121.3,1100.7 2122.5,1100.4 2123.7,1100.8 2124.9,1100.7 2126.1,1101.1 2127.2,1100.7 2128.4,1102.0 2129.6,1101.4 2130.8,1100.3 2132.0,1101.2 2133.2,1100.2 2134.4,1101.4 2135.6,1100.8 2136.9,1100.3 2138.1,1101.3 2139.3,1101.0 2140.5,1098.9 2141.7,1101.0 2143.0,1101.0 2144.2,1100.9 2145.4,1100.5 2146.7,1100.6 2147.9,1099.9 2149.2,1100.0 2150.4,1100.8 2151.6,1100.8 2152.9,1101.5 2154.2,1101.6 2155.4,1101.0 2156.7,1100.1 2157.9,1100.5 2159.2,1100.0 2160.5,1099.9 2161.7,1100.7 2163.0,1099.1 2164.3,1100.9 2165.6,1101.0 2166.9,1100.8 2168.2,1099.8 2169.5,1100.6 2170.7,1101.0 2172.0,1100.3 2173.3,1099.8 2174.6,1100.6 2176.0,1100.7 2177.3,1099.8 2178.6,1099.9 2179.9,1099.9 2181.2,1101.1 2182.5,1100.4 2183.8,1100.3 2185.2,1101.8 2186.5,1099.7 2187.8,1100.5 2189.2,1100.8 2190.5,1099.0 2191.8,1100.5 2193.2,1101.0 2194.5,1100.6 2195.9,1100.2 2197.2,1100.0 2198.6,1100.6 2200.0,1101.1 2201.3,1101.0 2202.7,1101.1 2204.0,1101.3 2205.4,1100.6 2206.8,1100.9 2208.2,1100.5 2209.5,1101.1 2210.9,1101.1 2212.3,1100.7 2213.7,1100.8 2215.1,1099.8 2216.5,1101.2 2217.9,1100.4 2219.3,1100.6 2220.7,1101.4 2222.1,1100.1 2223.5,1100.4 2224.9,1102.0 2226.3,1100.1 2227.7,1099.9 2229.1,1101.1 2230.5,1099.4 2232.0,1100.4 2233.4,1101.3 2234.8,1100.2 2236.2,1100.8 2237.7,1101.5 2239.1,1102.0 2240.6,1100.4 2242.0,1101.0 2243.4,1100.1 2244.9,1100.3 2246.3,1100.9 2247.8,1100.9 2249.2,1099.4 2250.7,1099.4 2252.2,1100.0 2253.6,1100.8 2255.1,1101.2 2256.6,1100.8 2258.0,1099.4 2259.5,1100.2 2261.0,1100.7 2262.5,1101.4 2263.9,1100.4 2265.4,1101.1 2266.9,1100.5 2268.4,1100.1 2269.9,1099.8 2271.4,1100.5 2272.9,1100.8 2274.4,1100.4 2275.9,1099.3 2277.4,1100.3 2278.9,1101.5 2280.4,1099.5 2281.9,1100.4 2283.5,1098.2 2285.0,1100.9 2286.5,1100.6 2288.0,1100.7 2289.6,1100.3 2291.1,1100.9 2292.6,1101.5 2294.2,1101.8 2295.7,1100.6 2297.2,1100.9 2298.8,1100.9 2300.3,1099.1 2301.9,1100.0 2303.4,1099.8 2305.0,1100.9 2306.5,1100.3 2308.1,1100.7 2309.7,1100.7 2311.2,1100.0 2312.8,1100.1 2314.4,1100.3 2315.9,1100.5 2317.5,1101.5 2319.1,1101.0 2320.7,1100.3 2322.2,1100.8 2323.8,1101.1 2325.4,1100.3 2327.0,1101.2 2328.6,1101.0 2330.2,1100.0 2331.8,1100.8 2333.4,1099.6 2335.0,1100.2 2336.6,1100.0 2338.2,1099.8 2339.8,1102.0 2341.4,1100.6 2343.0,1101.4 2344.7,1100.9 2346.3,1100.6 2347.9,1099.7 2349.5,1100.6 2351.2,1099.5 2352.8,1100.9 2354.4,1100.6 2356.1,1100.5 2357.7,1099.9 2359.3,1100.6 2361.0,1101.0 2362.6,1100.8 2364.3,1101.5 2365.9,1099.7 2367.6,1100.0 2369.2,1100.3 2370.9,1100.4 2372.6,1101.0 2374.2,1100.8 2375.9,1100.0 2377.6,1101.1 2379.2,1101.1 2380.9,1099.5 2382.6,1099.5 2384.3,1100.4 2385.9,1100.2 2387.6,1100.4 2389.3,1099.6 2391.0,1100.8 2392.7,1100.5 2394.4,1100.2 2396.1,1099.6 2397.8,1100.7 2399.5,1100.4 2401.2,1100.9 2402.9,1101.0 2404.6,1101.0 2406.3,1100.5" fill="none" stroke="#c9a46a" stroke-width="1.8" stroke-dasharray="7,3" stroke-linejoin="round"/><polyline points="1957.0,1100.5 1957.0,1099.4 1957.1,1097.1 1957.2,1094.0 1957.3,1090.1 1957.4,1085.7 1957.5,1080.6 1957.6,1075.1 1957.8,1069.0 1958.0,1062.5 1958.1,1055.5 1958.3,1048.1 1958.5,1041.6 1958.7,1041.0 1958.9,1039.4 1959.2,1040.2 1959.4,1038.5 1959.6,1038.9 1959.9,1036.5 1960.2,1036.2 1960.4,1035.0 1960.7,1035.2 1961.0,1034.0 1961.3,1033.6 1961.6,1033.1 1961.9,1032.0 1962.2,1031.9 1962.6,1030.8 1962.9,1029.6 1963.2,1029.2 1963.6,1028.7 1963.9,1026.7 1964.3,1027.1 1964.7,1026.7 1965.0,1025.7 1965.4,1025.4 1965.8,1024.7 1966.2,1024.0 1966.6,1022.2 1967.0,1022.6 1967.4,1021.9 1967.9,1021.1 1968.3,1019.8 1968.7,1020.4 1969.2,1020.0 1969.6,1017.9 1970.0,1019.4 1970.5,1018.3 1971.0,1017.3 1971.4,1016.0 1971.9,1017.1 1972.4,1017.4 1972.9,1015.4 1973.4,1015.5 1973.9,1015.0 1974.4,1014.1 1974.9,1013.9 1975.4,1013.4 1975.9,1013.4 1976.4,1012.1 1977.0,1011.7 1977.5,1012.0 1978.0,1011.9 1978.6,1011.0 1979.1,1010.8 1979.7,1011.2 1980.3,1010.6 1980.8,1009.6 1981.4,1009.8 1982.0,1009.6 1982.5,1009.1 1983.1,1008.9 1983.7,1008.7 1984.3,1009.3 1984.9,1007.3 1985.5,1007.8 1986.1,1008.1 1986.8,1006.9 1987.4,1007.0 1988.0,1006.9 1988.6,1006.2 1989.3,1005.4 1989.9,1006.0 1990.6,1005.3 1991.2,1004.8 1991.9,1006.2 1992.5,1005.8 1993.2,1005.0 1993.8,1006.0 1994.5,1005.1 1995.2,1004.2 1995.9,1004.1 1996.6,1004.2 1997.3,1005.2 1998.0,1003.0 1998.7,1003.7 1999.4,1003.4 2000.1,1003.4 2000.8,1004.4 2001.5,1004.1 2002.2,1003.8 2002.9,1002.1 2003.7,1003.3 2004.4,1002.9 2005.1,1002.8 2005.9,1002.2 2006.6,1002.1 2007.4,1002.1 2008.1,1002.7 2008.9,1003.5 2009.7,1001.7 2010.4,1001.6 2011.2,1001.0 2012.0,1001.5 2012.8,1001.6 2013.5,1001.0 2014.3,1001.8 2015.1,1001.5 2015.9,1001.3 2016.7,1000.6 2017.5,999.5 2018.3,1000.1 2019.2,999.8 2020.0,1000.1 2020.8,1000.0 2021.6,1000.2 2022.4,1000.0 2023.3,1001.0 2024.1,1000.2 2025.0,1000.2 2025.8,999.0 2026.7,999.0 2027.5,998.6 2028.4,998.3 2029.2,999.1 2030.1,998.3 2031.0,997.8 2031.8,998.7 2032.7,998.0 2033.6,998.5 2034.5,999.1 2035.4,998.2 2036.2,998.5 2037.1,998.0 2038.0,998.1 2038.9,997.7 2039.8,998.8 2040.8,996.6 2041.7,996.8 2042.6,997.6 2043.5,997.8 2044.4,997.2 2045.4,996.8 2046.3,996.8 2047.2,996.7 2048.2,997.8 2049.1,997.3 2050.1,995.9 2051.0,996.4 2052.0,997.2 2052.9,996.8 2053.9,997.0 2054.8,996.6 2055.8,995.5 2056.8,996.1 2057.8,995.3 2058.7,995.7 2059.7,996.4 2060.7,995.9 2061.7,994.3 2062.7,995.8 2063.7,995.8 2064.7,994.6 2065.7,995.1 2066.7,995.1 2067.7,994.2 2068.7,995.8 2069.7,994.6 2070.8,995.2 2071.8,995.3 2072.8,995.0 2073.8,993.9 2074.9,994.4 2075.9,995.2 2077.0,994.8 2078.0,993.4 2079.1,993.5 2080.1,994.5 2081.2,992.7 2082.2,994.0 2083.3,994.3 2084.3,993.7 2085.4,993.1 2086.5,992.7 2087.6,992.9 2088.6,993.6 2089.7,993.6 2090.8,993.9 2091.9,993.2 2093.0,993.3 2094.1,992.8 2095.2,993.5 2096.3,993.1 2097.4,993.2 2098.5,993.3 2099.6,993.2 2100.7,993.1 2101.8,993.1 2103.0,992.1 2104.1,992.3 2105.2,992.9 2106.3,991.9 2107.5,992.0 2108.6,991.3 2109.8,992.1 2110.9,992.0 2112.0,992.2 2113.2,991.7 2114.3,991.5 2115.5,991.6 2116.7,991.7 2117.8,991.3 2119.0,991.4 2120.2,991.3 2121.3,991.8 2122.5,991.2 2123.7,991.8 2124.9,991.6 2126.1,991.1 2127.2,990.0 2128.4,990.5 2129.6,991.0 2130.8,991.0 2132.0,990.4 2133.2,990.1 2134.4,990.1 2135.6,990.8 2136.9,990.5 2138.1,990.7 2139.3,990.7 2140.5,990.9 2141.7,990.5 2143.0,991.5 2144.2,990.9 2145.4,990.1 2146.7,990.7 2147.9,989.9 2149.2,990.8 2150.4,990.3 2151.6,989.8 2152.9,990.5 2154.2,990.3 2155.4,988.6 2156.7,990.2 2157.9,990.1 2159.2,990.0 2160.5,989.7 2161.7,989.7 2163.0,989.1 2164.3,989.2 2165.6,989.7 2166.9,989.7 2168.2,990.2 2169.5,990.2 2170.7,989.7 2172.0,988.9 2173.3,989.2 2174.6,988.8 2176.0,988.7 2177.3,989.2 2178.6,988.0 2179.9,989.3 2181.2,989.4 2182.5,989.2 2183.8,988.4 2185.2,989.0 2186.5,989.3 2187.8,988.6 2189.2,988.2 2190.5,988.8 2191.8,988.9 2193.2,988.2 2194.5,988.2 2195.9,988.2 2197.2,989.0 2198.6,988.4 2200.0,988.4 2201.3,989.4 2202.7,987.9 2204.0,988.4 2205.4,988.6 2206.8,987.2 2208.2,988.3 2209.5,988.7 2210.9,988.3 2212.3,988.0 2213.7,987.8 2215.1,988.2 2216.5,988.6 2217.9,988.5 2219.3,988.5 2220.7,988.6 2222.1,988.1 2223.5,988.3 2224.9,988.0 2226.3,988.4 2227.7,988.4 2229.1,988.0 2230.5,988.1 2232.0,987.3 2233.4,988.3 2234.8,987.7 2236.2,987.8 2237.7,988.4 2239.1,987.4 2240.6,987.6 2242.0,988.8 2243.4,987.4 2244.9,987.2 2246.3,988.0 2247.8,986.8 2249.2,987.5 2250.7,988.1 2252.2,987.3 2253.6,987.7 2255.1,988.2 2256.6,988.6 2258.0,987.3 2259.5,987.8 2261.0,987.1 2262.5,987.2 2263.9,987.6 2265.4,987.6 2266.9,986.4 2268.4,986.5 2269.9,986.9 2271.4,987.5 2272.9,987.8 2274.4,987.4 2275.9,986.4 2277.4,987.0 2278.9,987.3 2280.4,987.8 2281.9,987.1 2283.5,987.6 2285.0,987.1 2286.5,986.7 2288.0,986.6 2289.6,987.0 2291.1,987.2 2292.6,986.9 2294.2,986.1 2295.7,986.8 2297.2,987.7 2298.8,986.2 2300.3,986.8 2301.9,985.2 2303.4,987.2 2305.0,987.0 2306.5,987.1 2308.1,986.7 2309.7,987.2 2311.2,987.6 2312.8,987.8 2314.4,986.9 2315.9,987.1 2317.5,987.1 2319.1,985.7 2320.7,986.4 2322.2,986.2 2323.8,987.0 2325.4,986.6 2327.0,986.9 2328.6,986.8 2330.2,986.4 2331.8,986.4 2333.4,986.6 2335.0,986.6 2336.6,987.4 2338.2,987.0 2339.8,986.5 2341.4,986.8 2343.0,987.0 2344.7,986.5 2346.3,987.1 2347.9,987.0 2349.5,986.2 2351.2,986.8 2352.8,985.9 2354.4,986.3 2356.1,986.2 2357.7,986.0 2359.3,987.6 2361.0,986.6 2362.6,987.2 2364.3,986.8 2365.9,986.6 2367.6,985.9 2369.2,986.5 2370.9,985.7 2372.6,986.8 2374.2,986.5 2375.9,986.4 2377.6,986.0 2379.2,986.5 2380.9,986.8 2382.6,986.6 2384.3,987.1 2385.9,985.8 2387.6,986.0 2389.3,986.2 2391.0,986.3 2392.7,986.7 2394.4,986.6 2396.1,986.0 2397.8,986.8 2399.5,986.8 2401.2,985.6 2402.9,985.6 2404.6,986.2 2406.3,986.1" fill="none" stroke="#a8362a" stroke-width="2.6" stroke-dasharray="7,3" stroke-linejoin="round"/><line x1="2318.7" y1="987.0" x2="2318.7" y2="1098.5" stroke="#999" stroke-width="1.1"/><path d="M2315.2,993.0 L2318.7,987.0 L2322.2,993.0" fill="none" stroke="#999" stroke-width="1.1"/><path d="M2315.2,1092.5 L2318.7,1098.5 L2322.2,1092.5" fill="none" stroke="#999" stroke-width="1.1"/><line x1="2318.7" y1="1102.5" x2="2318.7" y2="1214.1" stroke="#999" stroke-width="1.1"/><path d="M2315.2,1108.5 L2318.7,1102.5 L2322.2,1108.5" fill="none" stroke="#999" stroke-width="1.1"/><path d="M2315.2,1208.1 L2318.7,1214.1 L2322.2,1208.1" fill="none" stroke="#999" stroke-width="1.1"/><rect x="1952.5" y="968.5" width="453.8" height="264.1" fill="none" stroke="#333" stroke-width="1"/><rect x="1960.6" y="976.5" width="175.80000000000018" height="78.09999999999991" rx="3" fill="#fff" fill-opacity="0.8" stroke="#ddd" stroke-width="0.8"/><line x1="1968.6" y1="990" x2="2003.6" y2="990" stroke="#1b2c5e" stroke-width="2.2" stroke-dasharray="7,3"/><text x="2015.6" y="995.9" font-family="DejaVu Sans, sans-serif" font-size="16.5" text-anchor="start" fill="#111" >Head 1</text><line x1="1968.6" y1="1014" x2="2003.6" y2="1014" stroke="#a8362a" stroke-width="2.2" stroke-dasharray="7,3"/><text x="2015.6" y="1019.9" font-family="DejaVu Sans, sans-serif" font-size="16.5" text-anchor="start" fill="#111" >Head 2</text><line x1="1968.6" y1="1038.7" x2="2003.6" y2="1038.7" stroke="#c9a46a" stroke-width="2.2" stroke-dasharray="7,3"/><text x="2015.6" y="1044.6" font-family="DejaVu Sans, sans-serif" font-size="16.5" text-anchor="start" fill="#111" >Sum of Heads</text><text x="2227.5" y="1028.0" font-family="DejaVu Sans, sans-serif" font-size="16.5" text-anchor="middle" fill="#111" >Positive Heads (2)</text><text x="2227.5" y="1183.0" font-family="DejaVu Sans, sans-serif" font-size="16.5" text-anchor="middle" fill="#111" >Negative Heads (1)</text><text x="2179.4" y="964.0" font-family="DejaVu Sans, sans-serif" font-size="13.8" text-anchor="middle" fill="#111" >OV Dynamics</text><text x="2179.4" y="1261.6" font-family="DejaVu Sans, sans-serif" font-size="13.8" text-anchor="middle" fill="#111" >Steps</text><text x="1909.5" y="1100.5" font-family="DejaVu Sans, sans-serif" font-size="13.8" text-anchor="middle" fill="#111" transform="rotate(-90 1909.5 1100.55)" dy="5">Value of the Last Element of OV</text>
</svg>
<svg style="position:absolute;left:1300px;top:1930px" width="1120" height="550" viewBox="1300 1930 1120 550">
<line x1="1453.2" y1="1956" x2="1453.2" y2="2404" stroke="#cfcfcf" stroke-width="1"/><line x1="1453.2" y1="2404" x2="1453.2" y2="2408" stroke="#333" stroke-width="1"/><text x="1453.2" y="2424.0" font-family="DejaVu Sans, sans-serif" font-size="14.5" text-anchor="middle" fill="#111" >20</text><line x1="1542.2" y1="1956" x2="1542.2" y2="2404" stroke="#cfcfcf" stroke-width="1"/><line x1="1542.2" y1="2404" x2="1542.2" y2="2408" stroke="#333" stroke-width="1"/><text x="1542.2" y="2424.0" font-family="DejaVu Sans, sans-serif" font-size="14.5" text-anchor="middle" fill="#111" >40</text><line x1="1631.2" y1="1956" x2="1631.2" y2="2404" stroke="#cfcfcf" stroke-width="1"/><line x1="1631.2" y1="2404" x2="1631.2" y2="2408" stroke="#333" stroke-width="1"/><text x="1631.2" y="2424.0" font-family="DejaVu Sans, sans-serif" font-size="14.5" text-anchor="middle" fill="#111" >60</text><line x1="1720.2" y1="1956" x2="1720.2" y2="2404" stroke="#cfcfcf" stroke-width="1"/><line x1="1720.2" y1="2404" x2="1720.2" y2="2408" stroke="#333" stroke-width="1"/><text x="1720.2" y="2424.0" font-family="DejaVu Sans, sans-serif" font-size="14.5" text-anchor="middle" fill="#111" >80</text><line x1="1809.2" y1="1956" x2="1809.2" y2="2404" stroke="#cfcfcf" stroke-width="1"/><line x1="1809.2" y1="2404" x2="1809.2" y2="2408" stroke="#333" stroke-width="1"/><text x="1809.2" y="2424.0" font-family="DejaVu Sans, sans-serif" font-size="14.5" text-anchor="middle" fill="#111" >100</text><line x1="1389.5" y1="2362.3" x2="1829" y2="2362.3" stroke="#cfcfcf" stroke-width="1"/><line x1="1385.5" y1="2362.3" x2="1389.5" y2="2362.3" stroke="#333" stroke-width="1"/><text x="1382.5" y="2367.3" font-family="DejaVu Sans, sans-serif" font-size="14.5" text-anchor="end" fill="#111" >0.2</text><line x1="1389.5" y1="2302.1" x2="1829" y2="2302.1" stroke="#cfcfcf" stroke-width="1"/><line x1="1385.5" y1="2302.1" x2="1389.5" y2="2302.1" stroke="#333" stroke-width="1"/><text x="1382.5" y="2307.1" font-family="DejaVu Sans, sans-serif" font-size="14.5" text-anchor="end" fill="#111" >0.3</text><line x1="1389.5" y1="2241.9" x2="1829" y2="2241.9" stroke="#cfcfcf" stroke-width="1"/><line x1="1385.5" y1="2241.9" x2="1389.5" y2="2241.9" stroke="#333" stroke-width="1"/><text x="1382.5" y="2246.9" font-family="DejaVu Sans, sans-serif" font-size="14.5" text-anchor="end" fill="#111" >0.4</text><line x1="1389.5" y1="2181.7" x2="1829" y2="2181.7" stroke="#cfcfcf" stroke-width="1"/><line x1="1385.5" y1="2181.7" x2="1389.5" y2="2181.7" stroke="#333" stroke-width="1"/><text x="1382.5" y="2186.7" font-family="DejaVu Sans, sans-serif" font-size="14.5" text-anchor="end" fill="#111" >0.5</text><line x1="1389.5" y1="2121.5" x2="1829" y2="2121.5" stroke="#cfcfcf" stroke-width="1"/><line x1="1385.5" y1="2121.5" x2="1389.5" y2="2121.5" stroke="#333" stroke-width="1"/><text x="1382.5" y="2126.5" font-family="DejaVu Sans, sans-serif" font-size="14.5" text-anchor="end" fill="#111" >0.6</text><line x1="1389.5" y1="2061.3" x2="1829" y2="2061.3" stroke="#cfcfcf" stroke-width="1"/><line x1="1385.5" y1="2061.3" x2="1389.5" y2="2061.3" stroke="#333" stroke-width="1"/><text x="1382.5" y="2066.3" font-family="DejaVu Sans, sans-serif" font-size="14.5" text-anchor="end" fill="#111" >0.7</text><line x1="1389.5" y1="2001.1" x2="1829" y2="2001.1" stroke="#cfcfcf" stroke-width="1"/><line x1="1385.5" y1="2001.1" x2="1389.5" y2="2001.1" stroke="#333" stroke-width="1"/><text x="1382.5" y="2006.1" font-family="DejaVu Sans, sans-serif" font-size="14.5" text-anchor="end" fill="#111" >0.8</text><polyline points="1408.7,1977.0 1431.0,2082.4 1453.2,2137.8 1475.5,2176.9 1497.7,2202.8 1520.0,2225.0 1542.2,2238.9 1564.5,2251.5 1586.7,2264.2 1609.0,2270.2 1631.2,2276.8 1653.5,2285.2 1675.7,2291.9 1698.0,2296.1 1720.2,2300.9 1742.5,2305.1 1764.7,2308.7 1787.0,2311.7 1809.2,2315.3" fill="none" stroke="#1c2d5f" stroke-width="4.6" stroke-dasharray="4.6,7" stroke-linejoin="round"/><polyline points="1408.7,2138.4 1431.0,2217.8 1453.2,2258.8 1475.5,2292.5 1497.7,2308.1 1520.0,2323.2 1542.2,2338.2 1564.5,2347.2 1586.7,2352.1 1609.0,2359.3 1631.2,2362.3 1653.5,2367.1 1675.7,2369.5 1698.0,2373.1 1720.2,2376.7 1742.5,2377.4 1764.7,2379.2 1787.0,2381.6 1809.2,2382.8" fill="none" stroke="#6e6e6e" stroke-width="4.6" stroke-dasharray="4.6,7" stroke-linejoin="round"/><polyline points="1408.7,2136.6 1431.0,2213.6 1453.2,2263.0 1475.5,2291.3 1497.7,2311.1 1520.0,2325.0 1542.2,2335.8 1564.5,2344.8 1586.7,2352.7 1609.0,2358.7 1631.2,2361.7 1653.5,2365.9 1675.7,2369.5 1698.0,2371.3 1720.2,2373.7 1742.5,2376.7 1764.7,2379.8 1787.0,2382.2 1809.2,2384.0" fill="none" stroke="#e0a24e" stroke-width="4.6" stroke-dasharray="4.6,7" stroke-linejoin="round"/><polyline points="1408.7,2126.3 1431.0,2214.8 1453.2,2260.0 1475.5,2287.1 1497.7,2309.9 1520.0,2324.4 1542.2,2336.4 1564.5,2345.4 1586.7,2353.3 1609.0,2359.3 1631.2,2361.1 1653.5,2366.5 1675.7,2370.1 1698.0,2372.5 1720.2,2375.5 1742.5,2378.0 1764.7,2380.4 1787.0,2382.2 1809.2,2384.0" fill="none" stroke="#b0382b" stroke-width="4.6" stroke-dasharray="4.6,7" stroke-linejoin="round"/><circle cx="1408.7" cy="1977.0" r="4.7" fill="none" stroke="#1c2d5f" stroke-width="1.9"/><circle cx="1431.0" cy="2082.4" r="4.7" fill="none" stroke="#1c2d5f" stroke-width="1.9"/><circle cx="1453.2" cy="2137.8" r="4.7" fill="none" stroke="#1c2d5f" stroke-width="1.9"/><circle cx="1475.5" cy="2176.9" r="4.7" fill="none" stroke="#1c2d5f" stroke-width="1.9"/><circle cx="1497.7" cy="2202.8" r="4.7" fill="none" stroke="#1c2d5f" stroke-width="1.9"/><circle cx="1520.0" cy="2225.0" r="4.7" fill="none" stroke="#1c2d5f" stroke-width="1.9"/><circle cx="1542.2" cy="2238.9" r="4.7" fill="none" stroke="#1c2d5f" stroke-width="1.9"/><circle cx="1564.5" cy="2251.5" r="4.7" fill="none" stroke="#1c2d5f" stroke-width="1.9"/><circle cx="1586.7" cy="2264.2" r="4.7" fill="none" stroke="#1c2d5f" stroke-width="1.9"/><circle cx="1609.0" cy="2270.2" r="4.7" fill="none" stroke="#1c2d5f" stroke-width="1.9"/><circle cx="1631.2" cy="2276.8" r="4.7" fill="none" stroke="#1c2d5f" stroke-width="1.9"/><circle cx="1653.5" cy="2285.2" r="4.7" fill="none" stroke="#1c2d5f" stroke-width="1.9"/><circle cx="1675.7" cy="2291.9" r="4.7" fill="none" stroke="#1c2d5f" stroke-width="1.9"/><circle cx="1698.0" cy="2296.1" r="4.7" fill="none" stroke="#1c2d5f" stroke-width="1.9"/><circle cx="1720.2" cy="2300.9" r="4.7" fill="none" stroke="#1c2d5f" stroke-width="1.9"/><circle cx="1742.5" cy="2305.1" r="4.7" fill="none" stroke="#1c2d5f" stroke-width="1.9"/><circle cx="1764.7" cy="2308.7" r="4.7" fill="none" stroke="#1c2d5f" stroke-width="1.9"/><circle cx="1787.0" cy="2311.7" r="4.7" fill="none" stroke="#1c2d5f" stroke-width="1.9"/><circle cx="1809.2" cy="2315.3" r="4.7" fill="none" stroke="#1c2d5f" stroke-width="1.9"/><rect x="1404.4" y="2134.0" width="8.7" height="8.7" fill="none" stroke="#6e6e6e" stroke-width="1.9"/><rect x="1426.6" y="2213.5" width="8.7" height="8.7" fill="none" stroke="#6e6e6e" stroke-width="1.9"/><rect x="1448.9" y="2254.4" width="8.7" height="8.7" fill="none" stroke="#6e6e6e" stroke-width="1.9"/><rect x="1471.1" y="2288.1" width="8.7" height="8.7" fill="none" stroke="#6e6e6e" stroke-width="1.9"/><rect x="1493.4" y="2303.8" width="8.7" height="8.7" fill="none" stroke="#6e6e6e" stroke-width="1.9"/><rect x="1515.6" y="2318.8" width="8.7" height="8.7" fill="none" stroke="#6e6e6e" stroke-width="1.9"/><rect x="1537.9" y="2333.9" width="8.7" height="8.7" fill="none" stroke="#6e6e6e" stroke-width="1.9"/><rect x="1560.1" y="2342.9" width="8.7" height="8.7" fill="none" stroke="#6e6e6e" stroke-width="1.9"/><rect x="1582.4" y="2347.7" width="8.7" height="8.7" fill="none" stroke="#6e6e6e" stroke-width="1.9"/><rect x="1604.6" y="2354.9" width="8.7" height="8.7" fill="none" stroke="#6e6e6e" stroke-width="1.9"/><rect x="1626.9" y="2358.0" width="8.7" height="8.7" fill="none" stroke="#6e6e6e" stroke-width="1.9"/><rect x="1649.1" y="2362.8" width="8.7" height="8.7" fill="none" stroke="#6e6e6e" stroke-width="1.9"/><rect x="1671.4" y="2365.2" width="8.7" height="8.7" fill="none" stroke="#6e6e6e" stroke-width="1.9"/><rect x="1693.6" y="2368.8" width="8.7" height="8.7" fill="none" stroke="#6e6e6e" stroke-width="1.9"/><rect x="1715.9" y="2372.4" width="8.7" height="8.7" fill="none" stroke="#6e6e6e" stroke-width="1.9"/><rect x="1738.1" y="2373.0" width="8.7" height="8.7" fill="none" stroke="#6e6e6e" stroke-width="1.9"/><rect x="1760.4" y="2374.8" width="8.7" height="8.7" fill="none" stroke="#6e6e6e" stroke-width="1.9"/><rect x="1782.6" y="2377.2" width="8.7" height="8.7" fill="none" stroke="#6e6e6e" stroke-width="1.9"/><rect x="1804.9" y="2378.4" width="8.7" height="8.7" fill="none" stroke="#6e6e6e" stroke-width="1.9"/><path d="M1408.7,2130.9 L1413.8,2139.9 L1403.6,2139.9 Z" fill="none" stroke="#e0a24e" stroke-width="1.9"/><path d="M1431.0,2208.0 L1436.0,2217.0 L1425.9,2217.0 Z" fill="none" stroke="#e0a24e" stroke-width="1.9"/><path d="M1453.2,2257.3 L1458.3,2266.3 L1448.1,2266.3 Z" fill="none" stroke="#e0a24e" stroke-width="1.9"/><path d="M1475.5,2285.6 L1480.5,2294.6 L1470.4,2294.6 Z" fill="none" stroke="#e0a24e" stroke-width="1.9"/><path d="M1497.7,2305.5 L1502.8,2314.5 L1492.6,2314.5 Z" fill="none" stroke="#e0a24e" stroke-width="1.9"/><path d="M1520.0,2319.4 L1525.0,2328.4 L1514.9,2328.4 Z" fill="none" stroke="#e0a24e" stroke-width="1.9"/><path d="M1542.2,2330.2 L1547.3,2339.2 L1537.1,2339.2 Z" fill="none" stroke="#e0a24e" stroke-width="1.9"/><path d="M1564.5,2339.2 L1569.5,2348.2 L1559.4,2348.2 Z" fill="none" stroke="#e0a24e" stroke-width="1.9"/><path d="M1586.7,2347.0 L1591.8,2356.0 L1581.6,2356.0 Z" fill="none" stroke="#e0a24e" stroke-width="1.9"/><path d="M1609.0,2353.1 L1614.0,2362.1 L1603.9,2362.1 Z" fill="none" stroke="#e0a24e" stroke-width="1.9"/><path d="M1631.2,2356.1 L1636.3,2365.1 L1626.1,2365.1 Z" fill="none" stroke="#e0a24e" stroke-width="1.9"/><path d="M1653.5,2360.3 L1658.5,2369.3 L1648.4,2369.3 Z" fill="none" stroke="#e0a24e" stroke-width="1.9"/><path d="M1675.7,2363.9 L1680.8,2372.9 L1670.6,2372.9 Z" fill="none" stroke="#e0a24e" stroke-width="1.9"/><path d="M1698.0,2365.7 L1703.0,2374.7 L1692.9,2374.7 Z" fill="none" stroke="#e0a24e" stroke-width="1.9"/><path d="M1720.2,2368.1 L1725.3,2377.1 L1715.1,2377.1 Z" fill="none" stroke="#e0a24e" stroke-width="1.9"/><path d="M1742.5,2371.1 L1747.5,2380.1 L1737.4,2380.1 Z" fill="none" stroke="#e0a24e" stroke-width="1.9"/><path d="M1764.7,2374.1 L1769.8,2383.1 L1759.6,2383.1 Z" fill="none" stroke="#e0a24e" stroke-width="1.9"/><path d="M1787.0,2376.5 L1792.0,2385.5 L1781.9,2385.5 Z" fill="none" stroke="#e0a24e" stroke-width="1.9"/><path d="M1809.2,2378.3 L1814.3,2387.3 L1804.1,2387.3 Z" fill="none" stroke="#e0a24e" stroke-width="1.9"/><path d="M1408.7,2120.3 L1413.2,2126.3 L1408.7,2132.3 L1404.2,2126.3 Z" fill="none" stroke="#b0382b" stroke-width="1.9"/><path d="M1431.0,2208.8 L1435.5,2214.8 L1431.0,2220.8 L1426.5,2214.8 Z" fill="none" stroke="#b0382b" stroke-width="1.9"/><path d="M1453.2,2254.0 L1457.7,2260.0 L1453.2,2266.0 L1448.7,2260.0 Z" fill="none" stroke="#b0382b" stroke-width="1.9"/><path d="M1475.5,2281.1 L1480.0,2287.1 L1475.5,2293.1 L1471.0,2287.1 Z" fill="none" stroke="#b0382b" stroke-width="1.9"/><path d="M1497.7,2303.9 L1502.2,2309.9 L1497.7,2315.9 L1493.2,2309.9 Z" fill="none" stroke="#b0382b" stroke-width="1.9"/><path d="M1520.0,2318.4 L1524.5,2324.4 L1520.0,2330.4 L1515.5,2324.4 Z" fill="none" stroke="#b0382b" stroke-width="1.9"/><path d="M1542.2,2330.4 L1546.7,2336.4 L1542.2,2342.4 L1537.7,2336.4 Z" fill="none" stroke="#b0382b" stroke-width="1.9"/><path d="M1564.5,2339.4 L1569.0,2345.4 L1564.5,2351.4 L1560.0,2345.4 Z" fill="none" stroke="#b0382b" stroke-width="1.9"/><path d="M1586.7,2347.3 L1591.2,2353.3 L1586.7,2359.3 L1582.2,2353.3 Z" fill="none" stroke="#b0382b" stroke-width="1.9"/><path d="M1609.0,2353.3 L1613.5,2359.3 L1609.0,2365.3 L1604.5,2359.3 Z" fill="none" stroke="#b0382b" stroke-width="1.9"/><path d="M1631.2,2355.1 L1635.7,2361.1 L1631.2,2367.1 L1626.7,2361.1 Z" fill="none" stroke="#b0382b" stroke-width="1.9"/><path d="M1653.5,2360.5 L1658.0,2366.5 L1653.5,2372.5 L1649.0,2366.5 Z" fill="none" stroke="#b0382b" stroke-width="1.9"/><path d="M1675.7,2364.1 L1680.2,2370.1 L1675.7,2376.1 L1671.2,2370.1 Z" fill="none" stroke="#b0382b" stroke-width="1.9"/><path d="M1698.0,2366.5 L1702.5,2372.5 L1698.0,2378.5 L1693.5,2372.5 Z" fill="none" stroke="#b0382b" stroke-width="1.9"/><path d="M1720.2,2369.5 L1724.7,2375.5 L1720.2,2381.5 L1715.7,2375.5 Z" fill="none" stroke="#b0382b" stroke-width="1.9"/><path d="M1742.5,2372.0 L1747.0,2378.0 L1742.5,2384.0 L1738.0,2378.0 Z" fill="none" stroke="#b0382b" stroke-width="1.9"/><path d="M1764.7,2374.4 L1769.2,2380.4 L1764.7,2386.4 L1760.2,2380.4 Z" fill="none" stroke="#b0382b" stroke-width="1.9"/><path d="M1787.0,2376.2 L1791.5,2382.2 L1787.0,2388.2 L1782.5,2382.2 Z" fill="none" stroke="#b0382b" stroke-width="1.9"/><path d="M1809.2,2378.0 L1813.7,2384.0 L1809.2,2390.0 L1804.7,2384.0 Z" fill="none" stroke="#b0382b" stroke-width="1.9"/><rect x="1389.5" y="1956" width="439.5" height="448.0" fill="none" stroke="#222" stroke-width="1.2"/><rect x="1659" y="1967.4" width="158.6" height="136.9" rx="4" fill="#fff" fill-opacity="0.85" stroke="#d8d8d8" stroke-width="1"/><line x1="1667" y1="1985.3" x2="1708" y2="1985.3" stroke="#1c2d5f" stroke-width="4.6" stroke-dasharray="4.6,7"/><circle cx="1687.5" cy="1985.3" r="4.7" fill="none" stroke="#1c2d5f" stroke-width="1.9"/><text x="1730.8" y="1992.8" font-family="DejaVu Sans, sans-serif" font-size="21.7" text-anchor="start" fill="#111" >1 Head</text><line x1="1667" y1="2018.5" x2="1708" y2="2018.5" stroke="#6e6e6e" stroke-width="4.6" stroke-dasharray="4.6,7"/><rect x="1683.2" y="2014.2" width="8.7" height="8.7" fill="none" stroke="#6e6e6e" stroke-width="1.9"/><text x="1730.8" y="2026.0" font-family="DejaVu Sans, sans-serif" font-size="21.7" text-anchor="start" fill="#111" >2 Head</text><line x1="1667" y1="2051" x2="1708" y2="2051" stroke="#e0a24e" stroke-width="4.6" stroke-dasharray="4.6,7"/><path d="M1687.5,2045.4 L1692.6,2054.4 L1682.4,2054.4 Z" fill="none" stroke="#e0a24e" stroke-width="1.9"/><text x="1730.8" y="2058.5" font-family="DejaVu Sans, sans-serif" font-size="21.7" text-anchor="start" fill="#111" >4 Head</text><line x1="1667" y1="2083.3" x2="1708" y2="2083.3" stroke="#b0382b" stroke-width="4.6" stroke-dasharray="4.6,7"/><path d="M1687.5,2077.3 L1692.0,2083.3 L1687.5,2089.3 L1683.0,2083.3 Z" fill="none" stroke="#b0382b" stroke-width="1.9"/><text x="1730.8" y="2090.8" font-family="DejaVu Sans, sans-serif" font-size="21.7" text-anchor="start" fill="#111" >8 Head</text><text x="1609.2" y="2454.0" font-family="DejaVu Sans, sans-serif" font-size="22" text-anchor="middle" fill="#111" >Prompt Length L</text><text x="1338.0" y="2180.0" font-family="DejaVu Sans, sans-serif" font-size="21" text-anchor="middle" fill="#111" transform="rotate(-90 1338 2180.0)">Loss</text>
<line x1="2008.3" y1="1959.5" x2="2008.3" y2="2404" stroke="#cfcfcf" stroke-width="1"/><line x1="2008.3" y1="2404" x2="2008.3" y2="2408" stroke="#333" stroke-width="1"/><text x="2008.3" y="2424.0" font-family="DejaVu Sans, sans-serif" font-size="14.5" text-anchor="middle" fill="#111" >20</text><line x1="2097.2" y1="1959.5" x2="2097.2" y2="2404" stroke="#cfcfcf" stroke-width="1"/><line x1="2097.2" y1="2404" x2="2097.2" y2="2408" stroke="#333" stroke-width="1"/><text x="2097.2" y="2424.0" font-family="DejaVu Sans, sans-serif" font-size="14.5" text-anchor="middle" fill="#111" >40</text><line x1="2186.0" y1="1959.5" x2="2186.0" y2="2404" stroke="#cfcfcf" stroke-width="1"/><line x1="2186.0" y1="2404" x2="2186.0" y2="2408" stroke="#333" stroke-width="1"/><text x="2186.0" y="2424.0" font-family="DejaVu Sans, sans-serif" font-size="14.5" text-anchor="middle" fill="#111" >60</text><line x1="2274.8" y1="1959.5" x2="2274.8" y2="2404" stroke="#cfcfcf" stroke-width="1"/><line x1="2274.8" y1="2404" x2="2274.8" y2="2408" stroke="#333" stroke-width="1"/><text x="2274.8" y="2424.0" font-family="DejaVu Sans, sans-serif" font-size="14.5" text-anchor="middle" fill="#111" >80</text><line x1="2363.7" y1="1959.5" x2="2363.7" y2="2404" stroke="#cfcfcf" stroke-width="1"/><line x1="2363.7" y1="2404" x2="2363.7" y2="2408" stroke="#333" stroke-width="1"/><text x="2363.7" y="2424.0" font-family="DejaVu Sans, sans-serif" font-size="14.5" text-anchor="middle" fill="#111" >100</text><line x1="1943.5" y1="2387.1" x2="2383" y2="2387.1" stroke="#cfcfcf" stroke-width="1"/><line x1="1939.5" y1="2387.1" x2="1943.5" y2="2387.1" stroke="#333" stroke-width="1"/><text x="1936.5" y="2392.1" font-family="DejaVu Sans, sans-serif" font-size="14.5" text-anchor="end" fill="#111" >0.1</text><line x1="1943.5" y1="2334.0" x2="2383" y2="2334.0" stroke="#cfcfcf" stroke-width="1"/><line x1="1939.5" y1="2334.0" x2="1943.5" y2="2334.0" stroke="#333" stroke-width="1"/><text x="1936.5" y="2339.0" font-family="DejaVu Sans, sans-serif" font-size="14.5" text-anchor="end" fill="#111" >0.2</text><line x1="1943.5" y1="2280.8" x2="2383" y2="2280.8" stroke="#cfcfcf" stroke-width="1"/><line x1="1939.5" y1="2280.8" x2="1943.5" y2="2280.8" stroke="#333" stroke-width="1"/><text x="1936.5" y="2285.8" font-family="DejaVu Sans, sans-serif" font-size="14.5" text-anchor="end" fill="#111" >0.3</text><line x1="1943.5" y1="2227.7" x2="2383" y2="2227.7" stroke="#cfcfcf" stroke-width="1"/><line x1="1939.5" y1="2227.7" x2="1943.5" y2="2227.7" stroke="#333" stroke-width="1"/><text x="1936.5" y="2232.7" font-family="DejaVu Sans, sans-serif" font-size="14.5" text-anchor="end" fill="#111" >0.4</text><line x1="1943.5" y1="2174.6" x2="2383" y2="2174.6" stroke="#cfcfcf" stroke-width="1"/><line x1="1939.5" y1="2174.6" x2="1943.5" y2="2174.6" stroke="#333" stroke-width="1"/><text x="1936.5" y="2179.6" font-family="DejaVu Sans, sans-serif" font-size="14.5" text-anchor="end" fill="#111" >0.5</text><line x1="1943.5" y1="2121.5" x2="2383" y2="2121.5" stroke="#cfcfcf" stroke-width="1"/><line x1="1939.5" y1="2121.5" x2="1943.5" y2="2121.5" stroke="#333" stroke-width="1"/><text x="1936.5" y="2126.5" font-family="DejaVu Sans, sans-serif" font-size="14.5" text-anchor="end" fill="#111" >0.6</text><line x1="1943.5" y1="2068.3" x2="2383" y2="2068.3" stroke="#cfcfcf" stroke-width="1"/><line x1="1939.5" y1="2068.3" x2="1943.5" y2="2068.3" stroke="#333" stroke-width="1"/><text x="1936.5" y="2073.3" font-family="DejaVu Sans, sans-serif" font-size="14.5" text-anchor="end" fill="#111" >0.7</text><line x1="1943.5" y1="2015.2" x2="2383" y2="2015.2" stroke="#cfcfcf" stroke-width="1"/><line x1="1939.5" y1="2015.2" x2="1943.5" y2="2015.2" stroke="#333" stroke-width="1"/><text x="1936.5" y="2020.2" font-family="DejaVu Sans, sans-serif" font-size="14.5" text-anchor="end" fill="#111" >0.8</text><line x1="1943.5" y1="1962.1" x2="2383" y2="1962.1" stroke="#cfcfcf" stroke-width="1"/><line x1="1939.5" y1="1962.1" x2="1943.5" y2="1962.1" stroke="#333" stroke-width="1"/><text x="1936.5" y="1967.1" font-family="DejaVu Sans, sans-serif" font-size="14.5" text-anchor="end" fill="#111" >0.9</text><polyline points="1963.9,1979.6 1986.1,2076.3 2008.3,2127.8 2030.5,2164.0 2052.7,2191.6 2074.9,2208.1 2097.2,2222.4 2119.4,2235.7 2141.6,2245.3 2163.8,2254.3 2186.0,2260.7 2208.2,2263.3 2230.4,2270.2 2252.6,2275.5 2274.8,2277.7 2297.1,2284.6 2319.3,2286.2 2341.5,2289.9 2363.7,2291.5" fill="none" stroke="#6e6e6e" stroke-width="4.6" stroke-dasharray="4.6,7" stroke-linejoin="round"/><polyline points="1963.9,2336.6 1986.1,2360.5 2008.3,2369.6 2030.5,2373.3 2052.7,2376.5 2074.9,2378.1 2097.2,2379.7 2119.4,2380.7 2141.6,2381.3 2163.8,2382.3 2186.0,2382.3 2208.2,2382.8 2230.4,2383.4 2252.6,2383.4 2274.8,2383.4 2297.1,2383.9 2319.3,2383.9 2341.5,2384.4 2363.7,2384.4" fill="none" stroke="#4d7d9c" stroke-width="4.6" stroke-dasharray="4.6,7" stroke-linejoin="round"/><polyline points="1963.9,2102.9 1986.1,2195.8 2008.3,2242.6 2030.5,2269.2 2052.7,2287.2 2074.9,2298.9 2097.2,2310.6 2119.4,2318.6 2141.6,2323.9 2163.8,2329.7 2186.0,2334.5 2208.2,2336.6 2230.4,2340.3 2252.6,2343.0 2274.8,2345.7 2297.1,2347.8 2319.3,2349.4 2341.5,2351.5 2363.7,2352.6" fill="none" stroke="#e0a24e" stroke-width="4.6" stroke-dasharray="4.6,7" stroke-linejoin="round"/><polyline points="1963.9,2122.5 1986.1,2201.2 2008.3,2243.7 2030.5,2270.2 2052.7,2288.8 2074.9,2299.4 2097.2,2311.1 2119.4,2319.1 2141.6,2324.4 2163.8,2330.3 2186.0,2335.0 2208.2,2336.6 2230.4,2340.9 2252.6,2343.5 2274.8,2345.7 2297.1,2348.3 2319.3,2349.9 2341.5,2351.5 2363.7,2353.1" fill="none" stroke="#1c2d5f" stroke-width="4.6" stroke-dasharray="4.6,7" stroke-linejoin="round"/><polyline points="1963.9,2116.2 1986.1,2198.5 2008.3,2243.7 2030.5,2269.7 2052.7,2287.8 2074.9,2299.4 2097.2,2311.1 2119.4,2318.6 2141.6,2323.9 2163.8,2330.3 2186.0,2334.5 2208.2,2336.6 2230.4,2340.3 2252.6,2343.5 2274.8,2345.7 2297.1,2348.3 2319.3,2349.4 2341.5,2351.0 2363.7,2352.6" fill="none" stroke="#b0382b" stroke-width="4.6" stroke-dasharray="4.6,7" stroke-linejoin="round"/><rect x="1959.5" y="1975.3" width="8.7" height="8.7" fill="none" stroke="#6e6e6e" stroke-width="1.9"/><rect x="1981.7" y="2072.0" width="8.7" height="8.7" fill="none" stroke="#6e6e6e" stroke-width="1.9"/><rect x="2004.0" y="2123.5" width="8.7" height="8.7" fill="none" stroke="#6e6e6e" stroke-width="1.9"/><rect x="2026.2" y="2159.6" width="8.7" height="8.7" fill="none" stroke="#6e6e6e" stroke-width="1.9"/><rect x="2048.4" y="2187.2" width="8.7" height="8.7" fill="none" stroke="#6e6e6e" stroke-width="1.9"/><rect x="2070.6" y="2203.7" width="8.7" height="8.7" fill="none" stroke="#6e6e6e" stroke-width="1.9"/><rect x="2092.8" y="2218.1" width="8.7" height="8.7" fill="none" stroke="#6e6e6e" stroke-width="1.9"/><rect x="2115.0" y="2231.3" width="8.7" height="8.7" fill="none" stroke="#6e6e6e" stroke-width="1.9"/><rect x="2137.2" y="2240.9" width="8.7" height="8.7" fill="none" stroke="#6e6e6e" stroke-width="1.9"/><rect x="2159.4" y="2249.9" width="8.7" height="8.7" fill="none" stroke="#6e6e6e" stroke-width="1.9"/><rect x="2181.7" y="2256.3" width="8.7" height="8.7" fill="none" stroke="#6e6e6e" stroke-width="1.9"/><rect x="2203.9" y="2259.0" width="8.7" height="8.7" fill="none" stroke="#6e6e6e" stroke-width="1.9"/><rect x="2226.1" y="2265.9" width="8.7" height="8.7" fill="none" stroke="#6e6e6e" stroke-width="1.9"/><rect x="2248.3" y="2271.2" width="8.7" height="8.7" fill="none" stroke="#6e6e6e" stroke-width="1.9"/><rect x="2270.5" y="2273.3" width="8.7" height="8.7" fill="none" stroke="#6e6e6e" stroke-width="1.9"/><rect x="2292.7" y="2280.2" width="8.7" height="8.7" fill="none" stroke="#6e6e6e" stroke-width="1.9"/><rect x="2314.9" y="2281.8" width="8.7" height="8.7" fill="none" stroke="#6e6e6e" stroke-width="1.9"/><rect x="2337.1" y="2285.5" width="8.7" height="8.7" fill="none" stroke="#6e6e6e" stroke-width="1.9"/><rect x="2359.3" y="2287.1" width="8.7" height="8.7" fill="none" stroke="#6e6e6e" stroke-width="1.9"/><path d="M1963.9,2331.8 L1968.5,2335.1 L1966.7,2340.6 L1961.0,2340.6 L1959.2,2335.1 Z" fill="none" stroke="#4d7d9c" stroke-width="1.9"/><path d="M1986.1,2355.7 L1990.7,2359.0 L1989.0,2364.5 L1983.2,2364.5 L1981.5,2359.0 Z" fill="none" stroke="#4d7d9c" stroke-width="1.9"/><path d="M2008.3,2364.7 L2012.9,2368.1 L2011.2,2373.5 L2005.4,2373.5 L2003.7,2368.1 Z" fill="none" stroke="#4d7d9c" stroke-width="1.9"/><path d="M2030.5,2368.4 L2035.1,2371.8 L2033.4,2377.2 L2027.6,2377.2 L2025.9,2371.8 Z" fill="none" stroke="#4d7d9c" stroke-width="1.9"/><path d="M2052.7,2371.6 L2057.4,2375.0 L2055.6,2380.4 L2049.9,2380.4 L2048.1,2375.0 Z" fill="none" stroke="#4d7d9c" stroke-width="1.9"/><path d="M2074.9,2373.2 L2079.6,2376.6 L2077.8,2382.0 L2072.1,2382.0 L2070.3,2376.6 Z" fill="none" stroke="#4d7d9c" stroke-width="1.9"/><path d="M2097.2,2374.8 L2101.8,2378.2 L2100.0,2383.6 L2094.3,2383.6 L2092.5,2378.2 Z" fill="none" stroke="#4d7d9c" stroke-width="1.9"/><path d="M2119.4,2375.8 L2124.0,2379.2 L2122.2,2384.7 L2116.5,2384.7 L2114.7,2379.2 Z" fill="none" stroke="#4d7d9c" stroke-width="1.9"/><path d="M2141.6,2376.4 L2146.2,2379.7 L2144.4,2385.2 L2138.7,2385.2 L2136.9,2379.7 Z" fill="none" stroke="#4d7d9c" stroke-width="1.9"/><path d="M2163.8,2377.4 L2168.4,2380.8 L2166.7,2386.3 L2160.9,2386.3 L2159.2,2380.8 Z" fill="none" stroke="#4d7d9c" stroke-width="1.9"/><path d="M2186.0,2377.4 L2190.6,2380.8 L2188.9,2386.3 L2183.1,2386.3 L2181.4,2380.8 Z" fill="none" stroke="#4d7d9c" stroke-width="1.9"/><path d="M2208.2,2378.0 L2212.8,2381.3 L2211.1,2386.8 L2205.3,2386.8 L2203.6,2381.3 Z" fill="none" stroke="#4d7d9c" stroke-width="1.9"/><path d="M2230.4,2378.5 L2235.1,2381.9 L2233.3,2387.3 L2227.6,2387.3 L2225.8,2381.9 Z" fill="none" stroke="#4d7d9c" stroke-width="1.9"/><path d="M2252.6,2378.5 L2257.3,2381.9 L2255.5,2387.3 L2249.8,2387.3 L2248.0,2381.9 Z" fill="none" stroke="#4d7d9c" stroke-width="1.9"/><path d="M2274.8,2378.5 L2279.5,2381.9 L2277.7,2387.3 L2272.0,2387.3 L2270.2,2381.9 Z" fill="none" stroke="#4d7d9c" stroke-width="1.9"/><path d="M2297.1,2379.0 L2301.7,2382.4 L2299.9,2387.9 L2294.2,2387.9 L2292.4,2382.4 Z" fill="none" stroke="#4d7d9c" stroke-width="1.9"/><path d="M2319.3,2379.0 L2323.9,2382.4 L2322.1,2387.9 L2316.4,2387.9 L2314.6,2382.4 Z" fill="none" stroke="#4d7d9c" stroke-width="1.9"/><path d="M2341.5,2379.6 L2346.1,2382.9 L2344.4,2388.4 L2338.6,2388.4 L2336.9,2382.9 Z" fill="none" stroke="#4d7d9c" stroke-width="1.9"/><path d="M2363.7,2379.6 L2368.3,2382.9 L2366.6,2388.4 L2360.8,2388.4 L2359.1,2382.9 Z" fill="none" stroke="#4d7d9c" stroke-width="1.9"/><path d="M1963.9,2097.3 L1968.9,2106.3 L1958.8,2106.3 Z" fill="none" stroke="#e0a24e" stroke-width="1.9"/><path d="M1986.1,2190.2 L1991.1,2199.2 L1981.0,2199.2 Z" fill="none" stroke="#e0a24e" stroke-width="1.9"/><path d="M2008.3,2237.0 L2013.4,2246.0 L2003.2,2246.0 Z" fill="none" stroke="#e0a24e" stroke-width="1.9"/><path d="M2030.5,2263.5 L2035.6,2272.5 L2025.5,2272.5 Z" fill="none" stroke="#e0a24e" stroke-width="1.9"/><path d="M2052.7,2281.6 L2057.8,2290.6 L2047.7,2290.6 Z" fill="none" stroke="#e0a24e" stroke-width="1.9"/><path d="M2074.9,2293.3 L2080.0,2302.3 L2069.9,2302.3 Z" fill="none" stroke="#e0a24e" stroke-width="1.9"/><path d="M2097.2,2305.0 L2102.2,2314.0 L2092.1,2314.0 Z" fill="none" stroke="#e0a24e" stroke-width="1.9"/><path d="M2119.4,2312.9 L2124.4,2321.9 L2114.3,2321.9 Z" fill="none" stroke="#e0a24e" stroke-width="1.9"/><path d="M2141.6,2318.3 L2146.6,2327.3 L2136.5,2327.3 Z" fill="none" stroke="#e0a24e" stroke-width="1.9"/><path d="M2163.8,2324.1 L2168.8,2333.1 L2158.7,2333.1 Z" fill="none" stroke="#e0a24e" stroke-width="1.9"/><path d="M2186.0,2328.9 L2191.1,2337.9 L2180.9,2337.9 Z" fill="none" stroke="#e0a24e" stroke-width="1.9"/><path d="M2208.2,2331.0 L2213.3,2340.0 L2203.2,2340.0 Z" fill="none" stroke="#e0a24e" stroke-width="1.9"/><path d="M2230.4,2334.7 L2235.5,2343.7 L2225.4,2343.7 Z" fill="none" stroke="#e0a24e" stroke-width="1.9"/><path d="M2252.6,2337.4 L2257.7,2346.4 L2247.6,2346.4 Z" fill="none" stroke="#e0a24e" stroke-width="1.9"/><path d="M2274.8,2340.0 L2279.9,2349.0 L2269.8,2349.0 Z" fill="none" stroke="#e0a24e" stroke-width="1.9"/><path d="M2297.1,2342.2 L2302.1,2351.2 L2292.0,2351.2 Z" fill="none" stroke="#e0a24e" stroke-width="1.9"/><path d="M2319.3,2343.8 L2324.3,2352.8 L2314.2,2352.8 Z" fill="none" stroke="#e0a24e" stroke-width="1.9"/><path d="M2341.5,2345.9 L2346.6,2354.9 L2336.4,2354.9 Z" fill="none" stroke="#e0a24e" stroke-width="1.9"/><path d="M2363.7,2346.9 L2368.8,2355.9 L2358.6,2355.9 Z" fill="none" stroke="#e0a24e" stroke-width="1.9"/><circle cx="1963.9" cy="2122.5" r="4.7" fill="none" stroke="#1c2d5f" stroke-width="1.9"/><circle cx="1986.1" cy="2201.2" r="4.7" fill="none" stroke="#1c2d5f" stroke-width="1.9"/><circle cx="2008.3" cy="2243.7" r="4.7" fill="none" stroke="#1c2d5f" stroke-width="1.9"/><circle cx="2030.5" cy="2270.2" r="4.7" fill="none" stroke="#1c2d5f" stroke-width="1.9"/><circle cx="2052.7" cy="2288.8" r="4.7" fill="none" stroke="#1c2d5f" stroke-width="1.9"/><circle cx="2074.9" cy="2299.4" r="4.7" fill="none" stroke="#1c2d5f" stroke-width="1.9"/><circle cx="2097.2" cy="2311.1" r="4.7" fill="none" stroke="#1c2d5f" stroke-width="1.9"/><circle cx="2119.4" cy="2319.1" r="4.7" fill="none" stroke="#1c2d5f" stroke-width="1.9"/><circle cx="2141.6" cy="2324.4" r="4.7" fill="none" stroke="#1c2d5f" stroke-width="1.9"/><circle cx="2163.8" cy="2330.3" r="4.7" fill="none" stroke="#1c2d5f" stroke-width="1.9"/><circle cx="2186.0" cy="2335.0" r="4.7" fill="none" stroke="#1c2d5f" stroke-width="1.9"/><circle cx="2208.2" cy="2336.6" r="4.7" fill="none" stroke="#1c2d5f" stroke-width="1.9"/><circle cx="2230.4" cy="2340.9" r="4.7" fill="none" stroke="#1c2d5f" stroke-width="1.9"/><circle cx="2252.6" cy="2343.5" r="4.7" fill="none" stroke="#1c2d5f" stroke-width="1.9"/><circle cx="2274.8" cy="2345.7" r="4.7" fill="none" stroke="#1c2d5f" stroke-width="1.9"/><circle cx="2297.1" cy="2348.3" r="4.7" fill="none" stroke="#1c2d5f" stroke-width="1.9"/><circle cx="2319.3" cy="2349.9" r="4.7" fill="none" stroke="#1c2d5f" stroke-width="1.9"/><circle cx="2341.5" cy="2351.5" r="4.7" fill="none" stroke="#1c2d5f" stroke-width="1.9"/><circle cx="2363.7" cy="2353.1" r="4.7" fill="none" stroke="#1c2d5f" stroke-width="1.9"/><path d="M1963.9,2110.2 L1968.4,2116.2 L1963.9,2122.2 L1959.4,2116.2 Z" fill="none" stroke="#b0382b" stroke-width="1.9"/><path d="M1986.1,2192.5 L1990.6,2198.5 L1986.1,2204.5 L1981.6,2198.5 Z" fill="none" stroke="#b0382b" stroke-width="1.9"/><path d="M2008.3,2237.7 L2012.8,2243.7 L2008.3,2249.7 L2003.8,2243.7 Z" fill="none" stroke="#b0382b" stroke-width="1.9"/><path d="M2030.5,2263.7 L2035.0,2269.7 L2030.5,2275.7 L2026.0,2269.7 Z" fill="none" stroke="#b0382b" stroke-width="1.9"/><path d="M2052.7,2281.8 L2057.2,2287.8 L2052.7,2293.8 L2048.2,2287.8 Z" fill="none" stroke="#b0382b" stroke-width="1.9"/><path d="M2074.9,2293.4 L2079.4,2299.4 L2074.9,2305.4 L2070.4,2299.4 Z" fill="none" stroke="#b0382b" stroke-width="1.9"/><path d="M2097.2,2305.1 L2101.7,2311.1 L2097.2,2317.1 L2092.7,2311.1 Z" fill="none" stroke="#b0382b" stroke-width="1.9"/><path d="M2119.4,2312.6 L2123.9,2318.6 L2119.4,2324.6 L2114.9,2318.6 Z" fill="none" stroke="#b0382b" stroke-width="1.9"/><path d="M2141.6,2317.9 L2146.1,2323.9 L2141.6,2329.9 L2137.1,2323.9 Z" fill="none" stroke="#b0382b" stroke-width="1.9"/><path d="M2163.8,2324.3 L2168.3,2330.3 L2163.8,2336.3 L2159.3,2330.3 Z" fill="none" stroke="#b0382b" stroke-width="1.9"/><path d="M2186.0,2328.5 L2190.5,2334.5 L2186.0,2340.5 L2181.5,2334.5 Z" fill="none" stroke="#b0382b" stroke-width="1.9"/><path d="M2208.2,2330.6 L2212.7,2336.6 L2208.2,2342.6 L2203.7,2336.6 Z" fill="none" stroke="#b0382b" stroke-width="1.9"/><path d="M2230.4,2334.3 L2234.9,2340.3 L2230.4,2346.3 L2225.9,2340.3 Z" fill="none" stroke="#b0382b" stroke-width="1.9"/><path d="M2252.6,2337.5 L2257.1,2343.5 L2252.6,2349.5 L2248.1,2343.5 Z" fill="none" stroke="#b0382b" stroke-width="1.9"/><path d="M2274.8,2339.7 L2279.3,2345.7 L2274.8,2351.7 L2270.3,2345.7 Z" fill="none" stroke="#b0382b" stroke-width="1.9"/><path d="M2297.1,2342.3 L2301.6,2348.3 L2297.1,2354.3 L2292.6,2348.3 Z" fill="none" stroke="#b0382b" stroke-width="1.9"/><path d="M2319.3,2343.4 L2323.8,2349.4 L2319.3,2355.4 L2314.8,2349.4 Z" fill="none" stroke="#b0382b" stroke-width="1.9"/><path d="M2341.5,2345.0 L2346.0,2351.0 L2341.5,2357.0 L2337.0,2351.0 Z" fill="none" stroke="#b0382b" stroke-width="1.9"/><path d="M2363.7,2346.6 L2368.2,2352.6 L2363.7,2358.6 L2359.2,2352.6 Z" fill="none" stroke="#b0382b" stroke-width="1.9"/><rect x="1943.5" y="1959.5" width="439.5" height="444.5" fill="none" stroke="#222" stroke-width="1.2"/><rect x="2105.7" y="1971" width="265.9" height="168.6" rx="4" fill="#fff" fill-opacity="0.85" stroke="#d8d8d8" stroke-width="1"/><line x1="2113.7" y1="1988" x2="2154.7" y2="1988" stroke="#1c2d5f" stroke-width="4.6" stroke-dasharray="4.6,7"/><circle cx="2134.2" cy="1988.0" r="4.7" fill="none" stroke="#1c2d5f" stroke-width="1.9"/><text x="2176.8" y="1995.5" font-family="DejaVu Sans, sans-serif" font-size="21.7" text-anchor="start" fill="#111" >Multi-head TF</text><line x1="2113.7" y1="2020.6" x2="2154.7" y2="2020.6" stroke="#6e6e6e" stroke-width="4.6" stroke-dasharray="4.6,7"/><rect x="2129.8" y="2016.2" width="8.7" height="8.7" fill="none" stroke="#6e6e6e" stroke-width="1.9"/><text x="2176.8" y="2028.1" font-family="DejaVu Sans, sans-serif" font-size="21.7" text-anchor="start" fill="#111" >Single-head TF</text><line x1="2113.7" y1="2053.2" x2="2154.7" y2="2053.2" stroke="#e0a24e" stroke-width="4.6" stroke-dasharray="4.6,7"/><path d="M2134.2,2047.6 L2139.3,2056.6 L2129.1,2056.6 Z" fill="none" stroke="#e0a24e" stroke-width="1.9"/><text x="2176.8" y="2060.7" font-family="DejaVu Sans, sans-serif" font-size="21.7" text-anchor="start" fill="#111" >GD Est</text><line x1="2113.7" y1="2085.9" x2="2154.7" y2="2085.9" stroke="#b0382b" stroke-width="4.6" stroke-dasharray="4.6,7"/><path d="M2134.2,2079.9 L2138.7,2085.9 L2134.2,2091.9 L2129.7,2085.9 Z" fill="none" stroke="#b0382b" stroke-width="1.9"/><text x="2176.8" y="2093.4" font-family="DejaVu Sans, sans-serif" font-size="21.7" text-anchor="start" fill="#111" >Debiased GD Est</text><line x1="2113.7" y1="2118.5" x2="2154.7" y2="2118.5" stroke="#4d7d9c" stroke-width="4.6" stroke-dasharray="4.6,7"/><path d="M2134.2,2113.6 L2138.8,2117.0 L2137.1,2122.4 L2131.3,2122.4 L2129.6,2117.0 Z" fill="none" stroke="#4d7d9c" stroke-width="1.9"/><text x="2176.8" y="2126.0" font-family="DejaVu Sans, sans-serif" font-size="21.7" text-anchor="start" fill="#111" >Ridge Est</text><text x="2163.2" y="2454.0" font-family="DejaVu Sans, sans-serif" font-size="22" text-anchor="middle" fill="#111" >Prompt Length L</text><text x="1893.0" y="2181.8" font-family="DejaVu Sans, sans-serif" font-size="21" text-anchor="middle" fill="#111" transform="rotate(-90 1893 2181.75)">Loss</text>
</svg>
<div class="ln j" id="L2550_643" style="left:2550.0px;top:608.2px;width:1017.0px;font-size:36.5px;line-height:45px;height:45px;letter-spacing:-0.164px;">The learned multi-head predictors <b class="bl">match the vanilla one-step GD</b>. In</div>
<div class="ln " id="L2550_686" style="left:2550.0px;top:651.9px;width:1017.0px;font-size:36.5px;line-height:45px;height:45px;">fact, the multi-head attention applies a <b class="rd">debiased GD</b> with small <i>&#x3B3;</i>:</div>
<div class="ln " id="L2593_776" style="left:2593.0px;top:741.6px;width:260.0px;font-size:36.5px;line-height:45px;height:45px;"><i>&#375;</i><span class="sb"><i>q</i></span> = <i>&#x3BC;</i> &#x22C5; <span style="display:inline-block;width:30px"></span><span class="bs"><span class="bsg">&#x2211;</span><span class="bt"><i>L</i></span><span class="bb"><i>&#x2113;</i>=1</span></span></div>
<svg style="position:absolute;left:2722px;top:724px;overflow:visible" width="16" height="88"><path d="M16,0 Q-8.8,44.0 16,88" fill="none" stroke="#0f1721" stroke-width="2.6"/></svg>
<svg style="position:absolute;left:3503px;top:724px;overflow:visible" width="16" height="88"><path d="M0,0 Q24.8,44.0 0,88" fill="none" stroke="#0f1721" stroke-width="2.6"/></svg>
<div style="position:absolute;left:2804px;top:766px;width:282px;height:2.4px;background:#0f1721"></div>
<div class="ln " id="L2804_753" style="left:2804.0px;top:718.9px;width:282.0px;font-size:36.5px;line-height:45px;height:45px;text-align:center"><i>y</i><span class="sb"><i>&#x2113;</i></span> &#x22C5; exp(<i style="color:#7a1870">&#x3B3;</i> &#x22C5; <i>x</i><span class="ssb" style="width:0.7em"><span class="s1">&#x22A4;</span><span class="s2"><i>&#x2113;</i></span></span><i>x</i><span class="sb"><i>q</i></span>)</div>
<div class="ln " id="L2804_806" style="left:2804.0px;top:771.8px;width:282.0px;font-size:36.5px;line-height:45px;height:45px;text-align:center">&#x2211;<span class="ssb" style="width:1.6em"><span class="s1"><i>L</i></span><span class="s2"><i>&#x2113;</i>=1</span></span>exp(<i style="color:#7a1870">&#x3B3;</i> &#x22C5; <i>x</i><span class="ssb" style="width:0.7em"><span class="s1">&#x22A4;</span><span class="s2"><i>&#x2113;</i></span></span><i>x</i><span class="sb"><i>q</i></span>)</div>
<div class="ln " id="L3088_776" style="left:3088.0px;top:741.6px;width:100.0px;font-size:36.5px;line-height:45px;height:45px;"><span style="color:#7a1870">&#x2212;</span><span class="bs"><span class="bsg">&#x2211;</span><span class="bt"><i>L</i></span><span class="bb"><i>&#x2113;</i>=1</span></span></div>
<div style="position:absolute;left:3184px;top:766px;width:312px;height:2.4px;background:#0f1721"></div>
<div class="ln " id="L3184_753" style="left:3184.0px;top:718.9px;width:312.0px;font-size:36.5px;line-height:45px;height:45px;text-align:center"><i>y</i><span class="sb"><i>&#x2113;</i></span> &#x22C5; exp(<span style="color:#7a1870">&#x2212;<i>&#x3B3;</i></span> &#x22C5; <i>x</i><span class="ssb" style="width:0.7em"><span class="s1">&#x22A4;</span><span class="s2"><i>&#x2113;</i></span></span><i>x</i><span class="sb"><i>q</i></span>)</div>
<div class="ln " id="L3184_806" style="left:3184.0px;top:771.8px;width:312.0px;font-size:36.5px;line-height:45px;height:45px;text-align:center">&#x2211;<span class="ssb" style="width:1.6em"><span class="s1"><i>L</i></span><span class="s2"><i>&#x2113;</i>=1</span></span>exp(<span style="color:#7a1870">&#x2212;<i>&#x3B3;</i></span> &#x22C5; <i>x</i><span class="ssb" style="width:0.7em"><span class="s1">&#x22A4;</span><span class="s2"><i>&#x2113;</i></span></span><i>x</i><span class="sb"><i>q</i></span>)</div>
<div class="ln " id="L2633_892" style="left:2633.0px;top:857.5px;width:40.0px;font-size:36.5px;line-height:45px;height:45px;">&#x2248;</div>
<div style="position:absolute;left:2672px;top:882px;width:58px;height:2.4px;background:#0f1721"></div>
<div class="ln " id="L2672_870" style="left:2672.0px;top:835.7px;width:58.0px;font-size:36.5px;line-height:45px;height:45px;text-align:center">2<i>&#x3BC;&#x3B3;</i></div>
<div class="ln " id="L2672_923" style="left:2672.0px;top:888.2px;width:58.0px;font-size:36.5px;line-height:45px;height:45px;text-align:center"><i>L</i></div>
<div class="ln " id="L2738_892" style="left:2738.0px;top:857.5px;width:300.0px;font-size:36.5px;line-height:45px;height:45px;letter-spacing:1.5px">&#x22C5; <span class="bs"><span class="bsg">&#x2211;</span><span class="bt"><i>L</i></span><span class="bb"><i>&#x2113;</i>=1</span></span><i>y</i><span class="sb"><i>&#x2113;</i></span> &#x22C5; <i>x&#772;</i><span class="ssb" style="width:0.7em"><span class="s1">&#x22A4;</span><span class="s2"><i>&#x2113;</i></span></span><i>x</i><span class="sb"><i>q</i></span></div>
<div class="ln " id="L2986_892" style="left:2986.0px;top:857.5px;width:80.0px;font-size:36.5px;line-height:45px;height:45px;">with</div>
<div class="ln " id="L3087_892" style="left:3087.0px;top:857.5px;width:340.0px;font-size:36.5px;line-height:45px;height:45px;word-spacing:2px;letter-spacing:0.6px"><i>x&#772;</i><span class="sb"><i>&#x2113;</i></span> = <i>x</i><span class="sb"><i>&#x2113;</i></span> &#x2212; <i>L</i><span class="sp">&#x2212;1</span> &#x22C5; <span class="bs"><span class="bsg">&#x2211;</span><span class="bt"><i>L</i></span><span class="bb"><i>&#x2113;</i>=1</span></span><i>x</i><span class="sb"><i>&#x2113;</i></span>.</div>
<div class="ln j" id="L2550_980" style="left:2550.0px;top:945.2px;width:1017.0px;font-size:36.5px;line-height:45px;height:45px;">Therefore, single-head attention learns a <b class="rd">nonparametric predictor</b>,</div>
<div class="ln " id="L2550_1025" style="left:2550.0px;top:991.0px;width:1017.0px;font-size:36.5px;line-height:45px;height:45px;">whereas multi-head attention learns a <b class="rd">GD parametric one</b>.</div>
<div class="ln j" id="L2550_1733" style="left:2550.0px;top:1698.2px;width:1017.0px;font-size:36.5px;line-height:45px;height:45px;letter-spacing:-0.262px;"><b>Observation 4:&nbsp; Consistent Training Dynamics.</b> Despite random ini-</div>
<div class="ln j" id="L2550_1778" style="left:2550.0px;top:1743.2px;width:1017.0px;font-size:36.5px;line-height:45px;height:45px;">tializations, the attention model quickly develops the patterns during</div>
<div class="ln j" id="L2550_1823" style="left:2550.0px;top:1788.8px;width:1017.0px;font-size:36.5px;line-height:45px;height:45px;letter-spacing:-0.235px;">the early stages of training, and continues to optimize the loss function</div>
<div class="ln " id="L2550_1869" style="left:2550.0px;top:1834.2px;width:1017.0px;font-size:36.5px;line-height:45px;height:45px;">with this <b class="rd">pattern preserved throughout the training process</b>.</div>
<div class="hdr" style="left:2569px;top:1936px;width:979px;height:106px;line-height:106px">More Results</div>
<div class="ln " id="L2558_2112" style="left:2558.0px;top:2077.2px;width:20.0px;font-size:36.5px;line-height:45px;height:45px;">&#x2022;</div>
<div class="ln j" id="L2579_2112" style="left:2579.5px;top:2077.2px;width:987.5px;font-size:36.5px;line-height:45px;height:45px;"><b>Length Generalization.</b> , Softmax attention demonstrates superior</div>
<div class="ln j" id="L2579_2157" style="left:2579.5px;top:2122.8px;width:987.5px;font-size:36.5px;line-height:45px;height:45px;"><b class="bl">generalization to longer sequences</b> compared to linear transform-</div>
<div class="ln " id="L2579_2203" style="left:2579.5px;top:2168.2px;width:987.5px;font-size:36.5px;line-height:45px;height:45px;">ers, maintaining effectiveness beyond training sequence lengths.</div>
<div class="ln " id="L2558_2258" style="left:2558.0px;top:2223.2px;width:20.0px;font-size:36.5px;line-height:45px;height:45px;">&#x2022;</div>
<div class="ln j" id="L2579_2258" style="left:2579.5px;top:2223.2px;width:987.5px;font-size:36.5px;line-height:45px;height:45px;"><b>Advanced Applications.</b> For anisotropic covariates, heads perform</div>
<div class="ln j" id="L2579_2303" style="left:2579.5px;top:2268.2px;width:987.5px;font-size:36.5px;line-height:45px;height:45px;">pre-conditioned GD predictor. For multi-task settings, a <b class="rd">superposi-</b></div>
<div class="ln j" id="L2579_2349" style="left:2579.5px;top:2314.2px;width:987.5px;font-size:36.5px;line-height:45px;height:45px;letter-spacing:-0.142px;"><b class="rd">tion</b> phenomenon emerges at the intersection of head count and task</div>
<div class="ln " id="L2579_2394" style="left:2579.5px;top:2359.2px;width:987.5px;font-size:36.5px;line-height:45px;height:45px;">count, efficiently resolving multi-task in-context learning.</div>
<svg style="position:absolute;left:2540px;top:1075px" width="1060" height="600" viewBox="2540 1075 1060 600">
<text x="2649.6" y="1100.5" font-family="DejaVu Sans, sans-serif" font-size="13" text-anchor="middle" fill="#111" >Step 1</text>
<rect x="2582.00" y="1104.30" width="22.83" height="22.72" fill="#e6e9f0"/><rect x="2604.53" y="1104.30" width="22.83" height="22.72" fill="#d7dbe6"/><rect x="2627.07" y="1104.30" width="22.83" height="22.72" fill="#fcf7f6"/><rect x="2649.60" y="1104.30" width="22.83" height="22.72" fill="#cdd2e0"/><rect x="2672.13" y="1104.30" width="22.83" height="22.72" fill="#f0f2f6"/><rect x="2694.67" y="1104.30" width="22.83" height="22.72" fill="#ebcdca"/><rect x="2582.00" y="1126.72" width="22.83" height="22.72" fill="#f5f6f9"/><rect x="2604.53" y="1126.72" width="22.83" height="22.72" fill="#e6c0bc"/><rect x="2627.07" y="1126.72" width="22.83" height="22.72" fill="#eed5d2"/><rect x="2649.60" y="1126.72" width="22.83" height="22.72" fill="#e1e4ec"/><rect x="2672.13" y="1126.72" width="22.83" height="22.72" fill="#dce0e9"/><rect x="2694.67" y="1126.72" width="22.83" height="22.72" fill="#f8eeed"/><rect x="2582.00" y="1149.13" width="22.83" height="22.72" fill="#d7dbe6"/><rect x="2604.53" y="1149.13" width="22.83" height="22.72" fill="#e6e9f0"/><rect x="2627.07" y="1149.13" width="22.83" height="22.72" fill="#f5f6f9"/><rect x="2649.60" y="1149.13" width="22.83" height="22.72" fill="#b4bcd1"/><rect x="2672.13" y="1149.13" width="22.83" height="22.72" fill="#eed5d2"/><rect x="2694.67" y="1149.13" width="22.83" height="22.72" fill="#f0f2f6"/><rect x="2582.00" y="1171.55" width="22.83" height="22.72" fill="#f2dddb"/><rect x="2604.53" y="1171.55" width="22.83" height="22.72" fill="#eed5d2"/><rect x="2627.07" y="1171.55" width="22.83" height="22.72" fill="#faf2f2"/><rect x="2649.60" y="1171.55" width="22.83" height="22.72" fill="#d7dbe6"/><rect x="2672.13" y="1171.55" width="22.83" height="22.72" fill="#e9c8c5"/><rect x="2694.67" y="1171.55" width="22.83" height="22.72" fill="#fcf7f6"/><rect x="2582.00" y="1193.97" width="22.83" height="22.72" fill="#eed5d2"/><rect x="2604.53" y="1193.97" width="22.83" height="22.72" fill="#ebcdca"/><rect x="2672.13" y="1193.97" width="22.83" height="22.72" fill="#fcf7f6"/><rect x="2694.67" y="1193.97" width="22.83" height="22.72" fill="#f2dddb"/><rect x="2582.00" y="1216.38" width="22.83" height="22.72" fill="#f5f6f9"/><rect x="2604.53" y="1216.38" width="22.83" height="22.72" fill="#cdd2e0"/><rect x="2627.07" y="1216.38" width="22.83" height="22.72" fill="#b4bcd1"/><rect x="2649.60" y="1216.38" width="22.83" height="22.72" fill="#f2dddb"/><rect x="2672.13" y="1216.38" width="22.83" height="22.72" fill="#d7dbe6"/><rect x="2694.67" y="1216.38" width="22.83" height="22.72" fill="#e6e9f0"/><rect x="2582" y="1104.3" width="135.2" height="134.5" fill="none" stroke="#555" stroke-width="0.8"/>
<line x1="2579.5" y1="1115.5" x2="2582" y2="1115.5" stroke="#444" stroke-width="0.6"/>
<text x="2577.0" y="1117.7" font-family="DejaVu Sans, sans-serif" font-size="5.5" text-anchor="end" fill="#111" >0</text>
<line x1="2593.3" y1="1238.8" x2="2593.3" y2="1241.3" stroke="#444" stroke-width="0.6"/>
<line x1="2579.5" y1="1137.9" x2="2582" y2="1137.9" stroke="#444" stroke-width="0.6"/>
<text x="2577.0" y="1140.1" font-family="DejaVu Sans, sans-serif" font-size="5.5" text-anchor="end" fill="#111" >1</text>
<line x1="2615.8" y1="1238.8" x2="2615.8" y2="1241.3" stroke="#444" stroke-width="0.6"/>
<line x1="2579.5" y1="1160.3" x2="2582" y2="1160.3" stroke="#444" stroke-width="0.6"/>
<text x="2577.0" y="1162.5" font-family="DejaVu Sans, sans-serif" font-size="5.5" text-anchor="end" fill="#111" >2</text>
<line x1="2638.3" y1="1238.8" x2="2638.3" y2="1241.3" stroke="#444" stroke-width="0.6"/>
<line x1="2579.5" y1="1182.8" x2="2582" y2="1182.8" stroke="#444" stroke-width="0.6"/>
<text x="2577.0" y="1185.0" font-family="DejaVu Sans, sans-serif" font-size="5.5" text-anchor="end" fill="#111" >3</text>
<line x1="2660.9" y1="1238.8" x2="2660.9" y2="1241.3" stroke="#444" stroke-width="0.6"/>
<line x1="2579.5" y1="1205.2" x2="2582" y2="1205.2" stroke="#444" stroke-width="0.6"/>
<text x="2577.0" y="1207.4" font-family="DejaVu Sans, sans-serif" font-size="5.5" text-anchor="end" fill="#111" >4</text>
<line x1="2683.4" y1="1238.8" x2="2683.4" y2="1241.3" stroke="#444" stroke-width="0.6"/>
<line x1="2579.5" y1="1227.6" x2="2582" y2="1227.6" stroke="#444" stroke-width="0.6"/>
<text x="2577.0" y="1229.8" font-family="DejaVu Sans, sans-serif" font-size="5.5" text-anchor="end" fill="#111" >5</text>
<line x1="2705.9" y1="1238.8" x2="2705.9" y2="1241.3" stroke="#444" stroke-width="0.6"/>
<rect x="2582.00" y="1281.70" width="22.83" height="22.72" fill="#f5f6f9"/><rect x="2604.53" y="1281.70" width="22.83" height="22.72" fill="#faf2f2"/><rect x="2627.07" y="1281.70" width="22.83" height="22.72" fill="#d7dbe6"/><rect x="2649.60" y="1281.70" width="22.83" height="22.72" fill="#fcf7f6"/><rect x="2672.13" y="1281.70" width="22.83" height="22.72" fill="#d7dbe6"/><rect x="2694.67" y="1281.70" width="22.83" height="22.72" fill="#f0f2f6"/><rect x="2582.00" y="1304.12" width="22.83" height="22.72" fill="#f0f2f6"/><rect x="2604.53" y="1304.12" width="22.83" height="22.72" fill="#faf2f2"/><rect x="2627.07" y="1304.12" width="22.83" height="22.72" fill="#54638c"/><rect x="2649.60" y="1304.12" width="22.83" height="22.72" fill="#8592b0"/><rect x="2672.13" y="1304.12" width="22.83" height="22.72" fill="#b4594f"/><rect x="2694.67" y="1304.12" width="22.83" height="22.72" fill="#f5f6f9"/><rect x="2604.53" y="1326.53" width="22.83" height="22.72" fill="#fcf7f6"/><rect x="2627.07" y="1326.53" width="22.83" height="22.72" fill="#8592b0"/><rect x="2649.60" y="1326.53" width="22.83" height="22.72" fill="#939eba"/><rect x="2672.13" y="1326.53" width="22.83" height="22.72" fill="#f7eae9"/><rect x="2694.67" y="1326.53" width="22.83" height="22.72" fill="#c3cada"/><rect x="2582.00" y="1348.95" width="22.83" height="22.72" fill="#e6c0bc"/><rect x="2604.53" y="1348.95" width="22.83" height="22.72" fill="#cdd2e0"/><rect x="2627.07" y="1348.95" width="22.83" height="22.72" fill="#e1b4af"/><rect x="2649.60" y="1348.95" width="22.83" height="22.72" fill="#f7eae9"/><rect x="2672.13" y="1348.95" width="22.83" height="22.72" fill="#b4bcd1"/><rect x="2582.00" y="1371.37" width="22.83" height="22.72" fill="#8592b0"/><rect x="2627.07" y="1371.37" width="22.83" height="22.72" fill="#7785a7"/><rect x="2649.60" y="1371.37" width="22.83" height="22.72" fill="#f2dddb"/><rect x="2672.13" y="1371.37" width="22.83" height="22.72" fill="#f5e6e4"/><rect x="2694.67" y="1371.37" width="22.83" height="22.72" fill="#e6c0bc"/><rect x="2582.00" y="1393.78" width="22.83" height="22.72" fill="#f2dddb"/><rect x="2604.53" y="1393.78" width="22.83" height="22.72" fill="#ebedf3"/><rect x="2627.07" y="1393.78" width="22.83" height="22.72" fill="#ebedf3"/><rect x="2649.60" y="1393.78" width="22.83" height="22.72" fill="#f5e6e4"/><rect x="2672.13" y="1393.78" width="22.83" height="22.72" fill="#fcf7f6"/><rect x="2694.67" y="1393.78" width="22.83" height="22.72" fill="#f8eeed"/><rect x="2582" y="1281.7" width="135.2" height="134.5" fill="none" stroke="#555" stroke-width="0.8"/>
<line x1="2579.5" y1="1292.9" x2="2582" y2="1292.9" stroke="#444" stroke-width="0.6"/>
<text x="2577.0" y="1295.1" font-family="DejaVu Sans, sans-serif" font-size="5.5" text-anchor="end" fill="#111" >0</text>
<line x1="2593.3" y1="1416.2" x2="2593.3" y2="1418.7" stroke="#444" stroke-width="0.6"/>
<text x="2593.3" y="1425.5" font-family="DejaVu Sans, sans-serif" font-size="5.5" text-anchor="middle" fill="#111" >0</text>
<line x1="2579.5" y1="1315.3" x2="2582" y2="1315.3" stroke="#444" stroke-width="0.6"/>
<text x="2577.0" y="1317.5" font-family="DejaVu Sans, sans-serif" font-size="5.5" text-anchor="end" fill="#111" >1</text>
<line x1="2615.8" y1="1416.2" x2="2615.8" y2="1418.7" stroke="#444" stroke-width="0.6"/>
<text x="2615.8" y="1425.5" font-family="DejaVu Sans, sans-serif" font-size="5.5" text-anchor="middle" fill="#111" >1</text>
<line x1="2579.5" y1="1337.7" x2="2582" y2="1337.7" stroke="#444" stroke-width="0.6"/>
<text x="2577.0" y="1339.9" font-family="DejaVu Sans, sans-serif" font-size="5.5" text-anchor="end" fill="#111" >2</text>
<line x1="2638.3" y1="1416.2" x2="2638.3" y2="1418.7" stroke="#444" stroke-width="0.6"/>
<text x="2638.3" y="1425.5" font-family="DejaVu Sans, sans-serif" font-size="5.5" text-anchor="middle" fill="#111" >2</text>
<line x1="2579.5" y1="1360.2" x2="2582" y2="1360.2" stroke="#444" stroke-width="0.6"/>
<text x="2577.0" y="1362.4" font-family="DejaVu Sans, sans-serif" font-size="5.5" text-anchor="end" fill="#111" >3</text>
<line x1="2660.9" y1="1416.2" x2="2660.9" y2="1418.7" stroke="#444" stroke-width="0.6"/>
<text x="2660.9" y="1425.5" font-family="DejaVu Sans, sans-serif" font-size="5.5" text-anchor="middle" fill="#111" >3</text>
<line x1="2579.5" y1="1382.6" x2="2582" y2="1382.6" stroke="#444" stroke-width="0.6"/>
<text x="2577.0" y="1384.8" font-family="DejaVu Sans, sans-serif" font-size="5.5" text-anchor="end" fill="#111" >4</text>
<line x1="2683.4" y1="1416.2" x2="2683.4" y2="1418.7" stroke="#444" stroke-width="0.6"/>
<text x="2683.4" y="1425.5" font-family="DejaVu Sans, sans-serif" font-size="5.5" text-anchor="middle" fill="#111" >4</text>
<line x1="2579.5" y1="1405.0" x2="2582" y2="1405.0" stroke="#444" stroke-width="0.6"/>
<text x="2577.0" y="1407.2" font-family="DejaVu Sans, sans-serif" font-size="5.5" text-anchor="end" fill="#111" >5</text>
<line x1="2705.9" y1="1416.2" x2="2705.9" y2="1418.7" stroke="#444" stroke-width="0.6"/>
<text x="2705.9" y="1425.5" font-family="DejaVu Sans, sans-serif" font-size="5.5" text-anchor="middle" fill="#111" >5</text>
<text x="2811.8" y="1100.5" font-family="DejaVu Sans, sans-serif" font-size="13" text-anchor="middle" fill="#111" >Step 1k</text>
<rect x="2744.20" y="1104.30" width="22.83" height="22.72" fill="#182858"/><rect x="2766.73" y="1104.30" width="22.83" height="22.72" fill="#c3cada"/><rect x="2789.27" y="1104.30" width="22.83" height="22.72" fill="#f2dddb"/><rect x="2811.80" y="1104.30" width="22.83" height="22.72" fill="#cdd2e0"/><rect x="2856.87" y="1104.30" width="22.83" height="22.72" fill="#e1b4af"/><rect x="2744.20" y="1126.72" width="22.83" height="22.72" fill="#cdd2e0"/><rect x="2766.73" y="1126.72" width="22.83" height="22.72" fill="#182858"/><rect x="2811.80" y="1126.72" width="22.83" height="22.72" fill="#f0f2f6"/><rect x="2834.33" y="1126.72" width="22.83" height="22.72" fill="#faf2f2"/><rect x="2856.87" y="1126.72" width="22.83" height="22.72" fill="#e6e9f0"/><rect x="2744.20" y="1149.13" width="22.83" height="22.72" fill="#ebcdca"/><rect x="2766.73" y="1149.13" width="22.83" height="22.72" fill="#eed5d2"/><rect x="2789.27" y="1149.13" width="22.83" height="22.72" fill="#182858"/><rect x="2811.80" y="1149.13" width="22.83" height="22.72" fill="#f0f2f6"/><rect x="2834.33" y="1149.13" width="22.83" height="22.72" fill="#e1e4ec"/><rect x="2856.87" y="1149.13" width="22.83" height="22.72" fill="#c3cada"/><rect x="2744.20" y="1171.55" width="22.83" height="22.72" fill="#d7dbe6"/><rect x="2789.27" y="1171.55" width="22.83" height="22.72" fill="#f7eae9"/><rect x="2811.80" y="1171.55" width="22.83" height="22.72" fill="#182858"/><rect x="2834.33" y="1171.55" width="22.83" height="22.72" fill="#d7dbe6"/><rect x="2856.87" y="1171.55" width="22.83" height="22.72" fill="#d49891"/><rect x="2744.20" y="1193.97" width="22.83" height="22.72" fill="#f5f6f9"/><rect x="2766.73" y="1193.97" width="22.83" height="22.72" fill="#cdd2e0"/><rect x="2789.27" y="1193.97" width="22.83" height="22.72" fill="#e6e9f0"/><rect x="2811.80" y="1193.97" width="22.83" height="22.72" fill="#e6e9f0"/><rect x="2834.33" y="1193.97" width="22.83" height="22.72" fill="#3a4a77"/><rect x="2856.87" y="1193.97" width="22.83" height="22.72" fill="#ddaca7"/><rect x="2744.20" y="1216.38" width="22.83" height="22.72" fill="#f5e6e4"/><rect x="2766.73" y="1216.38" width="22.83" height="22.72" fill="#b4bcd1"/><rect x="2811.80" y="1216.38" width="22.83" height="22.72" fill="#eed5d2"/><rect x="2834.33" y="1216.38" width="22.83" height="22.72" fill="#ebedf3"/><rect x="2856.87" y="1216.38" width="22.83" height="22.72" fill="#d7dbe6"/><rect x="2744.2" y="1104.3" width="135.2" height="134.5" fill="none" stroke="#555" stroke-width="0.8"/>
<line x1="2741.7" y1="1115.5" x2="2744.2" y2="1115.5" stroke="#444" stroke-width="0.6"/>
<line x1="2755.5" y1="1238.8" x2="2755.5" y2="1241.3" stroke="#444" stroke-width="0.6"/>
<line x1="2741.7" y1="1137.9" x2="2744.2" y2="1137.9" stroke="#444" stroke-width="0.6"/>
<line x1="2778.0" y1="1238.8" x2="2778.0" y2="1241.3" stroke="#444" stroke-width="0.6"/>
<line x1="2741.7" y1="1160.3" x2="2744.2" y2="1160.3" stroke="#444" stroke-width="0.6"/>
<line x1="2800.5" y1="1238.8" x2="2800.5" y2="1241.3" stroke="#444" stroke-width="0.6"/>
<line x1="2741.7" y1="1182.8" x2="2744.2" y2="1182.8" stroke="#444" stroke-width="0.6"/>
<line x1="2823.1" y1="1238.8" x2="2823.1" y2="1241.3" stroke="#444" stroke-width="0.6"/>
<line x1="2741.7" y1="1205.2" x2="2744.2" y2="1205.2" stroke="#444" stroke-width="0.6"/>
<line x1="2845.6" y1="1238.8" x2="2845.6" y2="1241.3" stroke="#444" stroke-width="0.6"/>
<line x1="2741.7" y1="1227.6" x2="2744.2" y2="1227.6" stroke="#444" stroke-width="0.6"/>
<line x1="2868.1" y1="1238.8" x2="2868.1" y2="1241.3" stroke="#444" stroke-width="0.6"/>
<rect x="2744.20" y="1281.70" width="22.83" height="22.72" fill="#ac493f"/><rect x="2766.73" y="1281.70" width="22.83" height="22.72" fill="#c3cada"/><rect x="2789.27" y="1281.70" width="22.83" height="22.72" fill="#eed5d2"/><rect x="2811.80" y="1281.70" width="22.83" height="22.72" fill="#cdd2e0"/><rect x="2834.33" y="1281.70" width="22.83" height="22.72" fill="#f5f6f9"/><rect x="2856.87" y="1281.70" width="22.83" height="22.72" fill="#cdd2e0"/><rect x="2744.20" y="1304.12" width="22.83" height="22.72" fill="#c3cada"/><rect x="2766.73" y="1304.12" width="22.83" height="22.72" fill="#a84239"/><rect x="2789.27" y="1304.12" width="22.83" height="22.72" fill="#f8eeed"/><rect x="2811.80" y="1304.12" width="22.83" height="22.72" fill="#f0f2f6"/><rect x="2834.33" y="1304.12" width="22.83" height="22.72" fill="#f7eae9"/><rect x="2856.87" y="1304.12" width="22.83" height="22.72" fill="#e6e9f0"/><rect x="2744.20" y="1326.53" width="22.83" height="22.72" fill="#e6c0bc"/><rect x="2766.73" y="1326.53" width="22.83" height="22.72" fill="#ebcdca"/><rect x="2789.27" y="1326.53" width="22.83" height="22.72" fill="#c4756c"/><rect x="2811.80" y="1326.53" width="22.83" height="22.72" fill="#f0f2f6"/><rect x="2834.33" y="1326.53" width="22.83" height="22.72" fill="#e6e9f0"/><rect x="2856.87" y="1326.53" width="22.83" height="22.72" fill="#ddaca7"/><rect x="2744.20" y="1348.95" width="22.83" height="22.72" fill="#cdd2e0"/><rect x="2789.27" y="1348.95" width="22.83" height="22.72" fill="#f7eae9"/><rect x="2811.80" y="1348.95" width="22.83" height="22.72" fill="#b4594f"/><rect x="2834.33" y="1348.95" width="22.83" height="22.72" fill="#d7dbe6"/><rect x="2766.73" y="1371.37" width="22.83" height="22.72" fill="#cdd2e0"/><rect x="2811.80" y="1371.37" width="22.83" height="22.72" fill="#e6e9f0"/><rect x="2834.33" y="1371.37" width="22.83" height="22.72" fill="#962018"/><rect x="2856.87" y="1371.37" width="22.83" height="22.72" fill="#cc847b"/><rect x="2744.20" y="1393.78" width="22.83" height="22.72" fill="#f2dddb"/><rect x="2766.73" y="1393.78" width="22.83" height="22.72" fill="#b4bcd1"/><rect x="2811.80" y="1393.78" width="22.83" height="22.72" fill="#ebcdca"/><rect x="2834.33" y="1393.78" width="22.83" height="22.72" fill="#f5f6f9"/><rect x="2856.87" y="1393.78" width="22.83" height="22.72" fill="#f5e6e4"/><rect x="2744.2" y="1281.7" width="135.2" height="134.5" fill="none" stroke="#555" stroke-width="0.8"/>
<line x1="2741.7" y1="1292.9" x2="2744.2" y2="1292.9" stroke="#444" stroke-width="0.6"/>
<line x1="2755.5" y1="1416.2" x2="2755.5" y2="1418.7" stroke="#444" stroke-width="0.6"/>
<text x="2755.5" y="1425.5" font-family="DejaVu Sans, sans-serif" font-size="5.5" text-anchor="middle" fill="#111" >0</text>
<line x1="2741.7" y1="1315.3" x2="2744.2" y2="1315.3" stroke="#444" stroke-width="0.6"/>
<line x1="2778.0" y1="1416.2" x2="2778.0" y2="1418.7" stroke="#444" stroke-width="0.6"/>
<text x="2778.0" y="1425.5" font-family="DejaVu Sans, sans-serif" font-size="5.5" text-anchor="middle" fill="#111" >1</text>
<line x1="2741.7" y1="1337.7" x2="2744.2" y2="1337.7" stroke="#444" stroke-width="0.6"/>
<line x1="2800.5" y1="1416.2" x2="2800.5" y2="1418.7" stroke="#444" stroke-width="0.6"/>
<text x="2800.5" y="1425.5" font-family="DejaVu Sans, sans-serif" font-size="5.5" text-anchor="middle" fill="#111" >2</text>
<line x1="2741.7" y1="1360.2" x2="2744.2" y2="1360.2" stroke="#444" stroke-width="0.6"/>
<line x1="2823.1" y1="1416.2" x2="2823.1" y2="1418.7" stroke="#444" stroke-width="0.6"/>
<text x="2823.1" y="1425.5" font-family="DejaVu Sans, sans-serif" font-size="5.5" text-anchor="middle" fill="#111" >3</text>
<line x1="2741.7" y1="1382.6" x2="2744.2" y2="1382.6" stroke="#444" stroke-width="0.6"/>
<line x1="2845.6" y1="1416.2" x2="2845.6" y2="1418.7" stroke="#444" stroke-width="0.6"/>
<text x="2845.6" y="1425.5" font-family="DejaVu Sans, sans-serif" font-size="5.5" text-anchor="middle" fill="#111" >4</text>
<line x1="2741.7" y1="1405.0" x2="2744.2" y2="1405.0" stroke="#444" stroke-width="0.6"/>
<line x1="2868.1" y1="1416.2" x2="2868.1" y2="1418.7" stroke="#444" stroke-width="0.6"/>
<text x="2868.1" y="1425.5" font-family="DejaVu Sans, sans-serif" font-size="5.5" text-anchor="middle" fill="#111" >5</text>
<text x="2973.5" y="1100.5" font-family="DejaVu Sans, sans-serif" font-size="13" text-anchor="middle" fill="#111" >Step 2k</text>
<rect x="2905.90" y="1104.30" width="22.83" height="22.72" fill="#1e2e5d"/><rect x="2928.43" y="1104.30" width="22.83" height="22.72" fill="#fbf6f5"/><rect x="2973.50" y="1104.30" width="22.83" height="22.72" fill="#f9fafb"/><rect x="2996.03" y="1104.30" width="22.83" height="22.72" fill="#f7f8fa"/><rect x="3018.57" y="1104.30" width="22.83" height="22.72" fill="#e6c0bc"/><rect x="2905.90" y="1126.72" width="22.83" height="22.72" fill="#f7f8fa"/><rect x="2928.43" y="1126.72" width="22.83" height="22.72" fill="#1e2e5d"/><rect x="2950.97" y="1126.72" width="22.83" height="22.72" fill="#fefefe"/><rect x="2973.50" y="1126.72" width="22.83" height="22.72" fill="#fffefe"/><rect x="2996.03" y="1126.72" width="22.83" height="22.72" fill="#fefcfb"/><rect x="3018.57" y="1126.72" width="22.83" height="22.72" fill="#e6e9f0"/><rect x="2950.97" y="1149.13" width="22.83" height="22.72" fill="#182858"/><rect x="2973.50" y="1149.13" width="22.83" height="22.72" fill="#fefcfb"/><rect x="2996.03" y="1149.13" width="22.83" height="22.72" fill="#fefdfd"/><rect x="3018.57" y="1149.13" width="22.83" height="22.72" fill="#cdd2e0"/><rect x="2905.90" y="1171.55" width="22.83" height="22.72" fill="#fefefe"/><rect x="2928.43" y="1171.55" width="22.83" height="22.72" fill="#fefefe"/><rect x="2950.97" y="1171.55" width="22.83" height="22.72" fill="#fcf7f7"/><rect x="2973.50" y="1171.55" width="22.83" height="22.72" fill="#233362"/><rect x="2996.03" y="1171.55" width="22.83" height="22.72" fill="#fdf9f9"/><rect x="3018.57" y="1171.55" width="22.83" height="22.72" fill="#ddaca7"/><rect x="2905.90" y="1193.97" width="22.83" height="22.72" fill="#fefefe"/><rect x="2928.43" y="1193.97" width="22.83" height="22.72" fill="#fcf9f8"/><rect x="2950.97" y="1193.97" width="22.83" height="22.72" fill="#fdfbfa"/><rect x="2973.50" y="1193.97" width="22.83" height="22.72" fill="#fffefe"/><rect x="2996.03" y="1193.97" width="22.83" height="22.72" fill="#3a4a77"/><rect x="3018.57" y="1193.97" width="22.83" height="22.72" fill="#e1b4af"/><rect x="2905.90" y="1216.38" width="22.83" height="22.72" fill="#fffffe"/><rect x="2928.43" y="1216.38" width="22.83" height="22.72" fill="#fdfafa"/><rect x="2950.97" y="1216.38" width="22.83" height="22.72" fill="#fefefe"/><rect x="2973.50" y="1216.38" width="22.83" height="22.72" fill="#fcf8f8"/><rect x="3018.57" y="1216.38" width="22.83" height="22.72" fill="#e6e9f0"/><rect x="2905.9" y="1104.3" width="135.2" height="134.5" fill="none" stroke="#555" stroke-width="0.8"/>
<line x1="2903.4" y1="1115.5" x2="2905.9" y2="1115.5" stroke="#444" stroke-width="0.6"/>
<line x1="2917.2" y1="1238.8" x2="2917.2" y2="1241.3" stroke="#444" stroke-width="0.6"/>
<line x1="2903.4" y1="1137.9" x2="2905.9" y2="1137.9" stroke="#444" stroke-width="0.6"/>
<line x1="2939.7" y1="1238.8" x2="2939.7" y2="1241.3" stroke="#444" stroke-width="0.6"/>
<line x1="2903.4" y1="1160.3" x2="2905.9" y2="1160.3" stroke="#444" stroke-width="0.6"/>
<line x1="2962.2" y1="1238.8" x2="2962.2" y2="1241.3" stroke="#444" stroke-width="0.6"/>
<line x1="2903.4" y1="1182.8" x2="2905.9" y2="1182.8" stroke="#444" stroke-width="0.6"/>
<line x1="2984.8" y1="1238.8" x2="2984.8" y2="1241.3" stroke="#444" stroke-width="0.6"/>
<line x1="2903.4" y1="1205.2" x2="2905.9" y2="1205.2" stroke="#444" stroke-width="0.6"/>
<line x1="3007.3" y1="1238.8" x2="3007.3" y2="1241.3" stroke="#444" stroke-width="0.6"/>
<line x1="2903.4" y1="1227.6" x2="2905.9" y2="1227.6" stroke="#444" stroke-width="0.6"/>
<line x1="3029.8" y1="1238.8" x2="3029.8" y2="1241.3" stroke="#444" stroke-width="0.6"/>
<rect x="2905.90" y="1281.70" width="22.83" height="22.72" fill="#9d2e25"/><rect x="2928.43" y="1281.70" width="22.83" height="22.72" fill="#f6f7fa"/><rect x="2950.97" y="1281.70" width="22.83" height="22.72" fill="#fdfbfb"/><rect x="2973.50" y="1281.70" width="22.83" height="22.72" fill="#eef0f4"/><rect x="2996.03" y="1281.70" width="22.83" height="22.72" fill="#fefefe"/><rect x="3018.57" y="1281.70" width="22.83" height="22.72" fill="#b4bcd1"/><rect x="2905.90" y="1304.12" width="22.83" height="22.72" fill="#fcf8f8"/><rect x="2928.43" y="1304.12" width="22.83" height="22.72" fill="#9d2e25"/><rect x="2950.97" y="1304.12" width="22.83" height="22.72" fill="#fcf6f6"/><rect x="2973.50" y="1304.12" width="22.83" height="22.72" fill="#fbfcfd"/><rect x="2996.03" y="1304.12" width="22.83" height="22.72" fill="#fefcfc"/><rect x="3018.57" y="1304.12" width="22.83" height="22.72" fill="#e6e9f0"/><rect x="2905.90" y="1326.53" width="22.83" height="22.72" fill="#f9fafc"/><rect x="2928.43" y="1326.53" width="22.83" height="22.72" fill="#fffefe"/><rect x="2950.97" y="1326.53" width="22.83" height="22.72" fill="#9a271f"/><rect x="2973.50" y="1326.53" width="22.83" height="22.72" fill="#fcfdfd"/><rect x="2996.03" y="1326.53" width="22.83" height="22.72" fill="#fdfbfa"/><rect x="3018.57" y="1326.53" width="22.83" height="22.72" fill="#c4756c"/><rect x="2905.90" y="1348.95" width="22.83" height="22.72" fill="#fcfcfd"/><rect x="2928.43" y="1348.95" width="22.83" height="22.72" fill="#f9f1f0"/><rect x="2973.50" y="1348.95" width="22.83" height="22.72" fill="#9d2e25"/><rect x="2996.03" y="1348.95" width="22.83" height="22.72" fill="#fffefe"/><rect x="2905.90" y="1371.37" width="22.83" height="22.72" fill="#fcfcfd"/><rect x="2928.43" y="1371.37" width="22.83" height="22.72" fill="#fcfdfd"/><rect x="2950.97" y="1371.37" width="22.83" height="22.72" fill="#faf2f1"/><rect x="2996.03" y="1371.37" width="22.83" height="22.72" fill="#962018"/><rect x="3018.57" y="1371.37" width="22.83" height="22.72" fill="#cc847b"/><rect x="2905.90" y="1393.78" width="22.83" height="22.72" fill="#faf2f2"/><rect x="2928.43" y="1393.78" width="22.83" height="22.72" fill="#fdfefe"/><rect x="2950.97" y="1393.78" width="22.83" height="22.72" fill="#fafbfc"/><rect x="2973.50" y="1393.78" width="22.83" height="22.72" fill="#f9efee"/><rect x="2996.03" y="1393.78" width="22.83" height="22.72" fill="#f4f5f8"/><rect x="3018.57" y="1393.78" width="22.83" height="22.72" fill="#f7eae9"/><rect x="2905.9" y="1281.7" width="135.2" height="134.5" fill="none" stroke="#555" stroke-width="0.8"/>
<line x1="2903.4" y1="1292.9" x2="2905.9" y2="1292.9" stroke="#444" stroke-width="0.6"/>
<line x1="2917.2" y1="1416.2" x2="2917.2" y2="1418.7" stroke="#444" stroke-width="0.6"/>
<text x="2917.2" y="1425.5" font-family="DejaVu Sans, sans-serif" font-size="5.5" text-anchor="middle" fill="#111" >0</text>
<line x1="2903.4" y1="1315.3" x2="2905.9" y2="1315.3" stroke="#444" stroke-width="0.6"/>
<line x1="2939.7" y1="1416.2" x2="2939.7" y2="1418.7" stroke="#444" stroke-width="0.6"/>
<text x="2939.7" y="1425.5" font-family="DejaVu Sans, sans-serif" font-size="5.5" text-anchor="middle" fill="#111" >1</text>
<line x1="2903.4" y1="1337.7" x2="2905.9" y2="1337.7" stroke="#444" stroke-width="0.6"/>
<line x1="2962.2" y1="1416.2" x2="2962.2" y2="1418.7" stroke="#444" stroke-width="0.6"/>
<text x="2962.2" y="1425.5" font-family="DejaVu Sans, sans-serif" font-size="5.5" text-anchor="middle" fill="#111" >2</text>
<line x1="2903.4" y1="1360.2" x2="2905.9" y2="1360.2" stroke="#444" stroke-width="0.6"/>
<line x1="2984.8" y1="1416.2" x2="2984.8" y2="1418.7" stroke="#444" stroke-width="0.6"/>
<text x="2984.8" y="1425.5" font-family="DejaVu Sans, sans-serif" font-size="5.5" text-anchor="middle" fill="#111" >3</text>
<line x1="2903.4" y1="1382.6" x2="2905.9" y2="1382.6" stroke="#444" stroke-width="0.6"/>
<line x1="3007.3" y1="1416.2" x2="3007.3" y2="1418.7" stroke="#444" stroke-width="0.6"/>
<text x="3007.3" y="1425.5" font-family="DejaVu Sans, sans-serif" font-size="5.5" text-anchor="middle" fill="#111" >4</text>
<line x1="2903.4" y1="1405.0" x2="2905.9" y2="1405.0" stroke="#444" stroke-width="0.6"/>
<line x1="3029.8" y1="1416.2" x2="3029.8" y2="1418.7" stroke="#444" stroke-width="0.6"/>
<text x="3029.8" y="1425.5" font-family="DejaVu Sans, sans-serif" font-size="5.5" text-anchor="middle" fill="#111" >5</text>
<text x="3135.7" y="1100.5" font-family="DejaVu Sans, sans-serif" font-size="13" text-anchor="middle" fill="#111" >Step 10k</text>
<rect x="3068.10" y="1104.30" width="22.83" height="22.72" fill="#5d6c94"/><rect x="3090.63" y="1104.30" width="22.83" height="22.72" fill="#fcfcfd"/><rect x="3113.17" y="1104.30" width="22.83" height="22.72" fill="#fefdfd"/><rect x="3135.70" y="1104.30" width="22.83" height="22.72" fill="#fffefe"/><rect x="3158.23" y="1104.30" width="22.83" height="22.72" fill="#fefbfb"/><rect x="3180.77" y="1104.30" width="22.83" height="22.72" fill="#ebcdca"/><rect x="3068.10" y="1126.72" width="22.83" height="22.72" fill="#fdfdfe"/><rect x="3090.63" y="1126.72" width="22.83" height="22.72" fill="#586890"/><rect x="3113.17" y="1126.72" width="22.83" height="22.72" fill="#fafafc"/><rect x="3135.70" y="1126.72" width="22.83" height="22.72" fill="#fbfbfc"/><rect x="3158.23" y="1126.72" width="22.83" height="22.72" fill="#fcfdfd"/><rect x="3180.77" y="1126.72" width="22.83" height="22.72" fill="#e6e9f0"/><rect x="3068.10" y="1149.13" width="22.83" height="22.72" fill="#fafbfc"/><rect x="3090.63" y="1149.13" width="22.83" height="22.72" fill="#fefdfd"/><rect x="3113.17" y="1149.13" width="22.83" height="22.72" fill="#586890"/><rect x="3135.70" y="1149.13" width="22.83" height="22.72" fill="#eff1f5"/><rect x="3158.23" y="1149.13" width="22.83" height="22.72" fill="#fdfafa"/><rect x="3180.77" y="1149.13" width="22.83" height="22.72" fill="#d7dbe6"/><rect x="3068.10" y="1171.55" width="22.83" height="22.72" fill="#fbfcfd"/><rect x="3090.63" y="1171.55" width="22.83" height="22.72" fill="#fffefe"/><rect x="3113.17" y="1171.55" width="22.83" height="22.72" fill="#fffefe"/><rect x="3135.70" y="1171.55" width="22.83" height="22.72" fill="#54638c"/><rect x="3158.23" y="1171.55" width="22.83" height="22.72" fill="#fbfbfc"/><rect x="3180.77" y="1171.55" width="22.83" height="22.72" fill="#e6c0bc"/><rect x="3068.10" y="1193.97" width="22.83" height="22.72" fill="#f7f8fa"/><rect x="3090.63" y="1193.97" width="22.83" height="22.72" fill="#fdf9f9"/><rect x="3113.17" y="1193.97" width="22.83" height="22.72" fill="#f9f9fb"/><rect x="3135.70" y="1193.97" width="22.83" height="22.72" fill="#fefefe"/><rect x="3158.23" y="1193.97" width="22.83" height="22.72" fill="#4f5e88"/><rect x="3180.77" y="1193.97" width="22.83" height="22.72" fill="#e4bcb8"/><rect x="3068.10" y="1216.38" width="22.83" height="22.72" fill="#fefefe"/><rect x="3090.63" y="1216.38" width="22.83" height="22.72" fill="#fefdfd"/><rect x="3113.17" y="1216.38" width="22.83" height="22.72" fill="#edeff4"/><rect x="3135.70" y="1216.38" width="22.83" height="22.72" fill="#fefefe"/><rect x="3158.23" y="1216.38" width="22.83" height="22.72" fill="#fefefe"/><rect x="3180.77" y="1216.38" width="22.83" height="22.72" fill="#e6e9f0"/><rect x="3068.1" y="1104.3" width="135.2" height="134.5" fill="none" stroke="#555" stroke-width="0.8"/>
<line x1="3065.6" y1="1115.5" x2="3068.1" y2="1115.5" stroke="#444" stroke-width="0.6"/>
<line x1="3079.4" y1="1238.8" x2="3079.4" y2="1241.3" stroke="#444" stroke-width="0.6"/>
<line x1="3065.6" y1="1137.9" x2="3068.1" y2="1137.9" stroke="#444" stroke-width="0.6"/>
<line x1="3101.9" y1="1238.8" x2="3101.9" y2="1241.3" stroke="#444" stroke-width="0.6"/>
<line x1="3065.6" y1="1160.3" x2="3068.1" y2="1160.3" stroke="#444" stroke-width="0.6"/>
<line x1="3124.4" y1="1238.8" x2="3124.4" y2="1241.3" stroke="#444" stroke-width="0.6"/>
<line x1="3065.6" y1="1182.8" x2="3068.1" y2="1182.8" stroke="#444" stroke-width="0.6"/>
<line x1="3147.0" y1="1238.8" x2="3147.0" y2="1241.3" stroke="#444" stroke-width="0.6"/>
<line x1="3065.6" y1="1205.2" x2="3068.1" y2="1205.2" stroke="#444" stroke-width="0.6"/>
<line x1="3169.5" y1="1238.8" x2="3169.5" y2="1241.3" stroke="#444" stroke-width="0.6"/>
<line x1="3065.6" y1="1227.6" x2="3068.1" y2="1227.6" stroke="#444" stroke-width="0.6"/>
<line x1="3192.0" y1="1238.8" x2="3192.0" y2="1241.3" stroke="#444" stroke-width="0.6"/>
<rect x="3068.10" y="1281.70" width="22.83" height="22.72" fill="#b96158"/><rect x="3090.63" y="1281.70" width="22.83" height="22.72" fill="#f6f7f9"/><rect x="3113.17" y="1281.70" width="22.83" height="22.72" fill="#fbfcfd"/><rect x="3158.23" y="1281.70" width="22.83" height="22.72" fill="#fdf9f8"/><rect x="3180.77" y="1281.70" width="22.83" height="22.72" fill="#b4bcd1"/><rect x="3068.10" y="1304.12" width="22.83" height="22.72" fill="#f7f8fa"/><rect x="3090.63" y="1304.12" width="22.83" height="22.72" fill="#b65c52"/><rect x="3113.17" y="1304.12" width="22.83" height="22.72" fill="#f9fafb"/><rect x="3135.70" y="1304.12" width="22.83" height="22.72" fill="#fdfafa"/><rect x="3158.23" y="1304.12" width="22.83" height="22.72" fill="#fefefe"/><rect x="3180.77" y="1304.12" width="22.83" height="22.72" fill="#e6e9f0"/><rect x="3068.10" y="1326.53" width="22.83" height="22.72" fill="#fefeff"/><rect x="3090.63" y="1326.53" width="22.83" height="22.72" fill="#fafafc"/><rect x="3113.17" y="1326.53" width="22.83" height="22.72" fill="#b65c52"/><rect x="3135.70" y="1326.53" width="22.83" height="22.72" fill="#fdfdfe"/><rect x="3158.23" y="1326.53" width="22.83" height="22.72" fill="#fefdfd"/><rect x="3180.77" y="1326.53" width="22.83" height="22.72" fill="#cc847b"/><rect x="3068.10" y="1348.95" width="22.83" height="22.72" fill="#fffefe"/><rect x="3090.63" y="1348.95" width="22.83" height="22.72" fill="#fbfcfd"/><rect x="3113.17" y="1348.95" width="22.83" height="22.72" fill="#fefdfd"/><rect x="3135.70" y="1348.95" width="22.83" height="22.72" fill="#b4594f"/><rect x="3158.23" y="1348.95" width="22.83" height="22.72" fill="#fefdfd"/><rect x="3180.77" y="1348.95" width="22.83" height="22.72" fill="#fcf7f6"/><rect x="3068.10" y="1371.37" width="22.83" height="22.72" fill="#fcf9f8"/><rect x="3090.63" y="1371.37" width="22.83" height="22.72" fill="#fdfbfb"/><rect x="3113.17" y="1371.37" width="22.83" height="22.72" fill="#fefdfd"/><rect x="3135.70" y="1371.37" width="22.83" height="22.72" fill="#fafafc"/><rect x="3158.23" y="1371.37" width="22.83" height="22.72" fill="#b4594f"/><rect x="3180.77" y="1371.37" width="22.83" height="22.72" fill="#ddaca7"/><rect x="3068.10" y="1393.78" width="22.83" height="22.72" fill="#fcfdfd"/><rect x="3090.63" y="1393.78" width="22.83" height="22.72" fill="#fcfcfd"/><rect x="3113.17" y="1393.78" width="22.83" height="22.72" fill="#fdfaf9"/><rect x="3135.70" y="1393.78" width="22.83" height="22.72" fill="#fdfdfe"/><rect x="3158.23" y="1393.78" width="22.83" height="22.72" fill="#fefdfd"/><rect x="3180.77" y="1393.78" width="22.83" height="22.72" fill="#f5e6e4"/><rect x="3068.1" y="1281.7" width="135.2" height="134.5" fill="none" stroke="#555" stroke-width="0.8"/>
<line x1="3065.6" y1="1292.9" x2="3068.1" y2="1292.9" stroke="#444" stroke-width="0.6"/>
<line x1="3079.4" y1="1416.2" x2="3079.4" y2="1418.7" stroke="#444" stroke-width="0.6"/>
<text x="3079.4" y="1425.5" font-family="DejaVu Sans, sans-serif" font-size="5.5" text-anchor="middle" fill="#111" >0</text>
<line x1="3065.6" y1="1315.3" x2="3068.1" y2="1315.3" stroke="#444" stroke-width="0.6"/>
<line x1="3101.9" y1="1416.2" x2="3101.9" y2="1418.7" stroke="#444" stroke-width="0.6"/>
<text x="3101.9" y="1425.5" font-family="DejaVu Sans, sans-serif" font-size="5.5" text-anchor="middle" fill="#111" >1</text>
<line x1="3065.6" y1="1337.7" x2="3068.1" y2="1337.7" stroke="#444" stroke-width="0.6"/>
<line x1="3124.4" y1="1416.2" x2="3124.4" y2="1418.7" stroke="#444" stroke-width="0.6"/>
<text x="3124.4" y="1425.5" font-family="DejaVu Sans, sans-serif" font-size="5.5" text-anchor="middle" fill="#111" >2</text>
<line x1="3065.6" y1="1360.2" x2="3068.1" y2="1360.2" stroke="#444" stroke-width="0.6"/>
<line x1="3147.0" y1="1416.2" x2="3147.0" y2="1418.7" stroke="#444" stroke-width="0.6"/>
<text x="3147.0" y="1425.5" font-family="DejaVu Sans, sans-serif" font-size="5.5" text-anchor="middle" fill="#111" >3</text>
<line x1="3065.6" y1="1382.6" x2="3068.1" y2="1382.6" stroke="#444" stroke-width="0.6"/>
<line x1="3169.5" y1="1416.2" x2="3169.5" y2="1418.7" stroke="#444" stroke-width="0.6"/>
<text x="3169.5" y="1425.5" font-family="DejaVu Sans, sans-serif" font-size="5.5" text-anchor="middle" fill="#111" >4</text>
<line x1="3065.6" y1="1405.0" x2="3068.1" y2="1405.0" stroke="#444" stroke-width="0.6"/>
<line x1="3192.0" y1="1416.2" x2="3192.0" y2="1418.7" stroke="#444" stroke-width="0.6"/>
<text x="3192.0" y="1425.5" font-family="DejaVu Sans, sans-serif" font-size="5.5" text-anchor="middle" fill="#111" >5</text>
<text x="3296.9" y="1100.5" font-family="DejaVu Sans, sans-serif" font-size="13" text-anchor="middle" fill="#111" >Step 100k</text>
<rect x="3229.30" y="1104.30" width="22.83" height="22.72" fill="#6e7ca0"/><rect x="3251.83" y="1104.30" width="22.83" height="22.72" fill="#fdfbfb"/><rect x="3274.37" y="1104.30" width="22.83" height="22.72" fill="#fbfcfd"/><rect x="3296.90" y="1104.30" width="22.83" height="22.72" fill="#fefcfb"/><rect x="3319.43" y="1104.30" width="22.83" height="22.72" fill="#fefefe"/><rect x="3341.97" y="1104.30" width="22.83" height="22.72" fill="#ebcdca"/><rect x="3229.30" y="1126.72" width="22.83" height="22.72" fill="#fcf9f8"/><rect x="3251.83" y="1126.72" width="22.83" height="22.72" fill="#69789d"/><rect x="3296.90" y="1126.72" width="22.83" height="22.72" fill="#fefdfc"/><rect x="3319.43" y="1126.72" width="22.83" height="22.72" fill="#fdfbfb"/><rect x="3341.97" y="1126.72" width="22.83" height="22.72" fill="#e6e9f0"/><rect x="3229.30" y="1149.13" width="22.83" height="22.72" fill="#fefdfd"/><rect x="3251.83" y="1149.13" width="22.83" height="22.72" fill="#fbfcfd"/><rect x="3274.37" y="1149.13" width="22.83" height="22.72" fill="#67769b"/><rect x="3296.90" y="1149.13" width="22.83" height="22.72" fill="#fdfdfe"/><rect x="3319.43" y="1149.13" width="22.83" height="22.72" fill="#fafafc"/><rect x="3341.97" y="1149.13" width="22.83" height="22.72" fill="#cdd2e0"/><rect x="3229.30" y="1171.55" width="22.83" height="22.72" fill="#f9f9fb"/><rect x="3251.83" y="1171.55" width="22.83" height="22.72" fill="#fefefe"/><rect x="3274.37" y="1171.55" width="22.83" height="22.72" fill="#fefeff"/><rect x="3296.90" y="1171.55" width="22.83" height="22.72" fill="#67769b"/><rect x="3341.97" y="1171.55" width="22.83" height="22.72" fill="#e1b4af"/><rect x="3251.83" y="1193.97" width="22.83" height="22.72" fill="#fffefe"/><rect x="3274.37" y="1193.97" width="22.83" height="22.72" fill="#fefcfc"/><rect x="3296.90" y="1193.97" width="22.83" height="22.72" fill="#fcfcfd"/><rect x="3319.43" y="1193.97" width="22.83" height="22.72" fill="#647399"/><rect x="3341.97" y="1193.97" width="22.83" height="22.72" fill="#e6c0bc"/><rect x="3229.30" y="1216.38" width="22.83" height="22.72" fill="#fdfdfe"/><rect x="3251.83" y="1216.38" width="22.83" height="22.72" fill="#f6f7fa"/><rect x="3274.37" y="1216.38" width="22.83" height="22.72" fill="#f9fafb"/><rect x="3296.90" y="1216.38" width="22.83" height="22.72" fill="#fefbfb"/><rect x="3319.43" y="1216.38" width="22.83" height="22.72" fill="#f6f7fa"/><rect x="3229.3" y="1104.3" width="135.2" height="134.5" fill="none" stroke="#555" stroke-width="0.8"/>
<line x1="3226.8" y1="1115.5" x2="3229.3" y2="1115.5" stroke="#444" stroke-width="0.6"/>
<line x1="3240.6" y1="1238.8" x2="3240.6" y2="1241.3" stroke="#444" stroke-width="0.6"/>
<line x1="3226.8" y1="1137.9" x2="3229.3" y2="1137.9" stroke="#444" stroke-width="0.6"/>
<line x1="3263.1" y1="1238.8" x2="3263.1" y2="1241.3" stroke="#444" stroke-width="0.6"/>
<line x1="3226.8" y1="1160.3" x2="3229.3" y2="1160.3" stroke="#444" stroke-width="0.6"/>
<line x1="3285.6" y1="1238.8" x2="3285.6" y2="1241.3" stroke="#444" stroke-width="0.6"/>
<line x1="3226.8" y1="1182.8" x2="3229.3" y2="1182.8" stroke="#444" stroke-width="0.6"/>
<line x1="3308.2" y1="1238.8" x2="3308.2" y2="1241.3" stroke="#444" stroke-width="0.6"/>
<line x1="3226.8" y1="1205.2" x2="3229.3" y2="1205.2" stroke="#444" stroke-width="0.6"/>
<line x1="3330.7" y1="1238.8" x2="3330.7" y2="1241.3" stroke="#444" stroke-width="0.6"/>
<line x1="3226.8" y1="1227.6" x2="3229.3" y2="1227.6" stroke="#444" stroke-width="0.6"/>
<line x1="3353.2" y1="1238.8" x2="3353.2" y2="1241.3" stroke="#444" stroke-width="0.6"/>
<rect x="3229.30" y="1281.70" width="22.83" height="22.72" fill="#c87d74"/><rect x="3251.83" y="1281.70" width="22.83" height="22.72" fill="#fefdfd"/><rect x="3274.37" y="1281.70" width="22.83" height="22.72" fill="#fefefe"/><rect x="3296.90" y="1281.70" width="22.83" height="22.72" fill="#fefefe"/><rect x="3319.43" y="1281.70" width="22.83" height="22.72" fill="#fbfcfd"/><rect x="3341.97" y="1281.70" width="22.83" height="22.72" fill="#c3cada"/><rect x="3229.30" y="1304.12" width="22.83" height="22.72" fill="#fefbfb"/><rect x="3251.83" y="1304.12" width="22.83" height="22.72" fill="#c77a71"/><rect x="3274.37" y="1304.12" width="22.83" height="22.72" fill="#fefcfb"/><rect x="3296.90" y="1304.12" width="22.83" height="22.72" fill="#fffefe"/><rect x="3319.43" y="1304.12" width="22.83" height="22.72" fill="#fefefe"/><rect x="3341.97" y="1304.12" width="22.83" height="22.72" fill="#e6e9f0"/><rect x="3229.30" y="1326.53" width="22.83" height="22.72" fill="#f8f9fb"/><rect x="3251.83" y="1326.53" width="22.83" height="22.72" fill="#fefcfc"/><rect x="3274.37" y="1326.53" width="22.83" height="22.72" fill="#c77a71"/><rect x="3296.90" y="1326.53" width="22.83" height="22.72" fill="#fefdfd"/><rect x="3319.43" y="1326.53" width="22.83" height="22.72" fill="#f8f9fb"/><rect x="3341.97" y="1326.53" width="22.83" height="22.72" fill="#cf8c84"/><rect x="3229.30" y="1348.95" width="22.83" height="22.72" fill="#fbfcfd"/><rect x="3251.83" y="1348.95" width="22.83" height="22.72" fill="#fdfdfe"/><rect x="3274.37" y="1348.95" width="22.83" height="22.72" fill="#fffefe"/><rect x="3296.90" y="1348.95" width="22.83" height="22.72" fill="#c5786e"/><rect x="3319.43" y="1348.95" width="22.83" height="22.72" fill="#fefdfd"/><rect x="3229.30" y="1371.37" width="22.83" height="22.72" fill="#fffefe"/><rect x="3251.83" y="1371.37" width="22.83" height="22.72" fill="#fefefe"/><rect x="3274.37" y="1371.37" width="22.83" height="22.72" fill="#fcfdfd"/><rect x="3296.90" y="1371.37" width="22.83" height="22.72" fill="#fdf9f9"/><rect x="3319.43" y="1371.37" width="22.83" height="22.72" fill="#c5786e"/><rect x="3341.97" y="1371.37" width="22.83" height="22.72" fill="#e6c0bc"/><rect x="3229.30" y="1393.78" width="22.83" height="22.72" fill="#fdfdfd"/><rect x="3251.83" y="1393.78" width="22.83" height="22.72" fill="#fcfcfd"/><rect x="3274.37" y="1393.78" width="22.83" height="22.72" fill="#fefefe"/><rect x="3319.43" y="1393.78" width="22.83" height="22.72" fill="#fefdfd"/><rect x="3229.3" y="1281.7" width="135.2" height="134.5" fill="none" stroke="#555" stroke-width="0.8"/>
<line x1="3226.8" y1="1292.9" x2="3229.3" y2="1292.9" stroke="#444" stroke-width="0.6"/>
<line x1="3240.6" y1="1416.2" x2="3240.6" y2="1418.7" stroke="#444" stroke-width="0.6"/>
<text x="3240.6" y="1425.5" font-family="DejaVu Sans, sans-serif" font-size="5.5" text-anchor="middle" fill="#111" >0</text>
<line x1="3226.8" y1="1315.3" x2="3229.3" y2="1315.3" stroke="#444" stroke-width="0.6"/>
<line x1="3263.1" y1="1416.2" x2="3263.1" y2="1418.7" stroke="#444" stroke-width="0.6"/>
<text x="3263.1" y="1425.5" font-family="DejaVu Sans, sans-serif" font-size="5.5" text-anchor="middle" fill="#111" >1</text>
<line x1="3226.8" y1="1337.7" x2="3229.3" y2="1337.7" stroke="#444" stroke-width="0.6"/>
<line x1="3285.6" y1="1416.2" x2="3285.6" y2="1418.7" stroke="#444" stroke-width="0.6"/>
<text x="3285.6" y="1425.5" font-family="DejaVu Sans, sans-serif" font-size="5.5" text-anchor="middle" fill="#111" >2</text>
<line x1="3226.8" y1="1360.2" x2="3229.3" y2="1360.2" stroke="#444" stroke-width="0.6"/>
<line x1="3308.2" y1="1416.2" x2="3308.2" y2="1418.7" stroke="#444" stroke-width="0.6"/>
<text x="3308.2" y="1425.5" font-family="DejaVu Sans, sans-serif" font-size="5.5" text-anchor="middle" fill="#111" >3</text>
<line x1="3226.8" y1="1382.6" x2="3229.3" y2="1382.6" stroke="#444" stroke-width="0.6"/>
<line x1="3330.7" y1="1416.2" x2="3330.7" y2="1418.7" stroke="#444" stroke-width="0.6"/>
<text x="3330.7" y="1425.5" font-family="DejaVu Sans, sans-serif" font-size="5.5" text-anchor="middle" fill="#111" >4</text>
<line x1="3226.8" y1="1405.0" x2="3229.3" y2="1405.0" stroke="#444" stroke-width="0.6"/>
<line x1="3353.2" y1="1416.2" x2="3353.2" y2="1418.7" stroke="#444" stroke-width="0.6"/>
<text x="3353.2" y="1425.5" font-family="DejaVu Sans, sans-serif" font-size="5.5" text-anchor="middle" fill="#111" >5</text>
<text x="3459.1" y="1100.5" font-family="DejaVu Sans, sans-serif" font-size="13" text-anchor="middle" fill="#111" >Step 500k</text>
<rect x="3391.50" y="1104.30" width="22.83" height="22.72" fill="#7785a7"/><rect x="3414.03" y="1104.30" width="22.83" height="22.72" fill="#fffefe"/><rect x="3436.57" y="1104.30" width="22.83" height="22.72" fill="#fefefe"/><rect x="3459.10" y="1104.30" width="22.83" height="22.72" fill="#fffefe"/><rect x="3481.63" y="1104.30" width="22.83" height="22.72" fill="#fefdfd"/><rect x="3504.17" y="1104.30" width="22.83" height="22.72" fill="#eed5d2"/><rect x="3391.50" y="1126.72" width="22.83" height="22.72" fill="#fdfbfb"/><rect x="3414.03" y="1126.72" width="22.83" height="22.72" fill="#7785a7"/><rect x="3459.10" y="1126.72" width="22.83" height="22.72" fill="#fdfdfe"/><rect x="3481.63" y="1126.72" width="22.83" height="22.72" fill="#fdfdfe"/><rect x="3504.17" y="1126.72" width="22.83" height="22.72" fill="#f0f2f6"/><rect x="3391.50" y="1149.13" width="22.83" height="22.72" fill="#fffefe"/><rect x="3414.03" y="1149.13" width="22.83" height="22.72" fill="#fffefe"/><rect x="3436.57" y="1149.13" width="22.83" height="22.72" fill="#6e7ca0"/><rect x="3459.10" y="1149.13" width="22.83" height="22.72" fill="#fdf9f9"/><rect x="3481.63" y="1149.13" width="22.83" height="22.72" fill="#fefdfd"/><rect x="3504.17" y="1149.13" width="22.83" height="22.72" fill="#f5f6f9"/><rect x="3391.50" y="1171.55" width="22.83" height="22.72" fill="#fffefe"/><rect x="3414.03" y="1171.55" width="22.83" height="22.72" fill="#fdfdfe"/><rect x="3436.57" y="1171.55" width="22.83" height="22.72" fill="#fdfefe"/><rect x="3459.10" y="1171.55" width="22.83" height="22.72" fill="#6e7ca0"/><rect x="3481.63" y="1171.55" width="22.83" height="22.72" fill="#fefeff"/><rect x="3504.17" y="1171.55" width="22.83" height="22.72" fill="#e6c0bc"/><rect x="3391.50" y="1193.97" width="22.83" height="22.72" fill="#fffefe"/><rect x="3414.03" y="1193.97" width="22.83" height="22.72" fill="#fefefe"/><rect x="3436.57" y="1193.97" width="22.83" height="22.72" fill="#fbfcfd"/><rect x="3459.10" y="1193.97" width="22.83" height="22.72" fill="#fcfdfd"/><rect x="3481.63" y="1193.97" width="22.83" height="22.72" fill="#6e7ca0"/><rect x="3504.17" y="1193.97" width="22.83" height="22.72" fill="#ebcdca"/><rect x="3391.50" y="1216.38" width="22.83" height="22.72" fill="#fefefe"/><rect x="3436.57" y="1216.38" width="22.83" height="22.72" fill="#fdfafa"/><rect x="3459.10" y="1216.38" width="22.83" height="22.72" fill="#fdfdfe"/><rect x="3481.63" y="1216.38" width="22.83" height="22.72" fill="#fdfdfd"/><rect x="3391.5" y="1104.3" width="135.2" height="134.5" fill="none" stroke="#555" stroke-width="0.8"/>
<line x1="3389.0" y1="1115.5" x2="3391.5" y2="1115.5" stroke="#444" stroke-width="0.6"/>
<line x1="3402.8" y1="1238.8" x2="3402.8" y2="1241.3" stroke="#444" stroke-width="0.6"/>
<line x1="3389.0" y1="1137.9" x2="3391.5" y2="1137.9" stroke="#444" stroke-width="0.6"/>
<line x1="3425.3" y1="1238.8" x2="3425.3" y2="1241.3" stroke="#444" stroke-width="0.6"/>
<line x1="3389.0" y1="1160.3" x2="3391.5" y2="1160.3" stroke="#444" stroke-width="0.6"/>
<line x1="3447.8" y1="1238.8" x2="3447.8" y2="1241.3" stroke="#444" stroke-width="0.6"/>
<line x1="3389.0" y1="1182.8" x2="3391.5" y2="1182.8" stroke="#444" stroke-width="0.6"/>
<line x1="3470.4" y1="1238.8" x2="3470.4" y2="1241.3" stroke="#444" stroke-width="0.6"/>
<line x1="3389.0" y1="1205.2" x2="3391.5" y2="1205.2" stroke="#444" stroke-width="0.6"/>
<line x1="3492.9" y1="1238.8" x2="3492.9" y2="1241.3" stroke="#444" stroke-width="0.6"/>
<line x1="3389.0" y1="1227.6" x2="3391.5" y2="1227.6" stroke="#444" stroke-width="0.6"/>
<line x1="3515.4" y1="1238.8" x2="3515.4" y2="1241.3" stroke="#444" stroke-width="0.6"/>
<rect x="3391.50" y="1281.70" width="22.83" height="22.72" fill="#cc847b"/><rect x="3414.03" y="1281.70" width="22.83" height="22.72" fill="#fcf9f8"/><rect x="3436.57" y="1281.70" width="22.83" height="22.72" fill="#fefcfc"/><rect x="3459.10" y="1281.70" width="22.83" height="22.72" fill="#fefcfc"/><rect x="3481.63" y="1281.70" width="22.83" height="22.72" fill="#fefdfd"/><rect x="3504.17" y="1281.70" width="22.83" height="22.72" fill="#cdd2e0"/><rect x="3391.50" y="1304.12" width="22.83" height="22.72" fill="#fefdfd"/><rect x="3414.03" y="1304.12" width="22.83" height="22.72" fill="#cc847b"/><rect x="3436.57" y="1304.12" width="22.83" height="22.72" fill="#fdfdfe"/><rect x="3459.10" y="1304.12" width="22.83" height="22.72" fill="#fcfdfd"/><rect x="3481.63" y="1304.12" width="22.83" height="22.72" fill="#fcfcfd"/><rect x="3504.17" y="1304.12" width="22.83" height="22.72" fill="#9da7c0"/><rect x="3391.50" y="1326.53" width="22.83" height="22.72" fill="#fefdfd"/><rect x="3414.03" y="1326.53" width="22.83" height="22.72" fill="#fdfbfa"/><rect x="3436.57" y="1326.53" width="22.83" height="22.72" fill="#ca8077"/><rect x="3459.10" y="1326.53" width="22.83" height="22.72" fill="#fffefe"/><rect x="3481.63" y="1326.53" width="22.83" height="22.72" fill="#fefdfd"/><rect x="3504.17" y="1326.53" width="22.83" height="22.72" fill="#ddaca7"/><rect x="3391.50" y="1348.95" width="22.83" height="22.72" fill="#fafafc"/><rect x="3414.03" y="1348.95" width="22.83" height="22.72" fill="#fefcfc"/><rect x="3436.57" y="1348.95" width="22.83" height="22.72" fill="#fefefe"/><rect x="3459.10" y="1348.95" width="22.83" height="22.72" fill="#ca8077"/><rect x="3504.17" y="1348.95" width="22.83" height="22.72" fill="#e6c0bc"/><rect x="3391.50" y="1371.37" width="22.83" height="22.72" fill="#fefcfc"/><rect x="3414.03" y="1371.37" width="22.83" height="22.72" fill="#fefefe"/><rect x="3436.57" y="1371.37" width="22.83" height="22.72" fill="#fcfcfd"/><rect x="3459.10" y="1371.37" width="22.83" height="22.72" fill="#fefcfc"/><rect x="3481.63" y="1371.37" width="22.83" height="22.72" fill="#c87d74"/><rect x="3504.17" y="1371.37" width="22.83" height="22.72" fill="#ebcdca"/><rect x="3391.50" y="1393.78" width="22.83" height="22.72" fill="#fbfbfc"/><rect x="3436.57" y="1393.78" width="22.83" height="22.72" fill="#fefcfc"/><rect x="3459.10" y="1393.78" width="22.83" height="22.72" fill="#fdfdfe"/><rect x="3481.63" y="1393.78" width="22.83" height="22.72" fill="#fffefe"/><rect x="3391.5" y="1281.7" width="135.2" height="134.5" fill="none" stroke="#555" stroke-width="0.8"/>
<line x1="3389.0" y1="1292.9" x2="3391.5" y2="1292.9" stroke="#444" stroke-width="0.6"/>
<line x1="3402.8" y1="1416.2" x2="3402.8" y2="1418.7" stroke="#444" stroke-width="0.6"/>
<text x="3402.8" y="1425.5" font-family="DejaVu Sans, sans-serif" font-size="5.5" text-anchor="middle" fill="#111" >0</text>
<line x1="3389.0" y1="1315.3" x2="3391.5" y2="1315.3" stroke="#444" stroke-width="0.6"/>
<line x1="3425.3" y1="1416.2" x2="3425.3" y2="1418.7" stroke="#444" stroke-width="0.6"/>
<text x="3425.3" y="1425.5" font-family="DejaVu Sans, sans-serif" font-size="5.5" text-anchor="middle" fill="#111" >1</text>
<line x1="3389.0" y1="1337.7" x2="3391.5" y2="1337.7" stroke="#444" stroke-width="0.6"/>
<line x1="3447.8" y1="1416.2" x2="3447.8" y2="1418.7" stroke="#444" stroke-width="0.6"/>
<text x="3447.8" y="1425.5" font-family="DejaVu Sans, sans-serif" font-size="5.5" text-anchor="middle" fill="#111" >2</text>
<line x1="3389.0" y1="1360.2" x2="3391.5" y2="1360.2" stroke="#444" stroke-width="0.6"/>
<line x1="3470.4" y1="1416.2" x2="3470.4" y2="1418.7" stroke="#444" stroke-width="0.6"/>
<text x="3470.4" y="1425.5" font-family="DejaVu Sans, sans-serif" font-size="5.5" text-anchor="middle" fill="#111" >3</text>
<line x1="3389.0" y1="1382.6" x2="3391.5" y2="1382.6" stroke="#444" stroke-width="0.6"/>
<line x1="3492.9" y1="1416.2" x2="3492.9" y2="1418.7" stroke="#444" stroke-width="0.6"/>
<text x="3492.9" y="1425.5" font-family="DejaVu Sans, sans-serif" font-size="5.5" text-anchor="middle" fill="#111" >4</text>
<line x1="3389.0" y1="1405.0" x2="3391.5" y2="1405.0" stroke="#444" stroke-width="0.6"/>
<line x1="3515.4" y1="1416.2" x2="3515.4" y2="1418.7" stroke="#444" stroke-width="0.6"/>
<text x="3515.4" y="1425.5" font-family="DejaVu Sans, sans-serif" font-size="5.5" text-anchor="middle" fill="#111" >5</text>
<text x="2568.0" y="1171.5" font-family="DejaVu Sans, sans-serif" font-size="13.2" text-anchor="middle" fill="#111" transform="rotate(-90 2568 1171.5)">Head 1 KQ</text>
<text x="2568.0" y="1349.0" font-family="DejaVu Sans, sans-serif" font-size="13.2" text-anchor="middle" fill="#111" transform="rotate(-90 2568 1349)">Head 2 KQ</text>
<rect x="3546" y="1104.30" width="15.8" height="6.64" fill="#98241c"/><rect x="3546" y="1110.54" width="15.8" height="6.64" fill="#9d2d24"/><rect x="3546" y="1116.78" width="15.8" height="6.64" fill="#a1352c"/><rect x="3546" y="1123.01" width="15.8" height="6.64" fill="#a63e35"/><rect x="3546" y="1129.25" width="15.8" height="6.64" fill="#aa463d"/><rect x="3546" y="1135.49" width="15.8" height="6.64" fill="#af4f45"/><rect x="3546" y="1141.73" width="15.8" height="6.64" fill="#b3574d"/><rect x="3546" y="1147.97" width="15.8" height="6.64" fill="#b75e54"/><rect x="3546" y="1154.20" width="15.8" height="6.64" fill="#bb645b"/><rect x="3546" y="1160.44" width="15.8" height="6.64" fill="#be6b62"/><rect x="3546" y="1166.68" width="15.8" height="6.64" fill="#c27269"/><rect x="3546" y="1172.92" width="15.8" height="6.64" fill="#c67970"/><rect x="3546" y="1179.16" width="15.8" height="6.64" fill="#ca8077"/><rect x="3546" y="1185.39" width="15.8" height="6.64" fill="#ce8a82"/><rect x="3546" y="1191.63" width="15.8" height="6.64" fill="#d3948c"/><rect x="3546" y="1197.87" width="15.8" height="6.64" fill="#d79e97"/><rect x="3546" y="1204.11" width="15.8" height="6.64" fill="#dba8a2"/><rect x="3546" y="1210.35" width="15.8" height="6.64" fill="#e0b2ad"/><rect x="3546" y="1216.58" width="15.8" height="6.64" fill="#e4bcb7"/><rect x="3546" y="1222.82" width="15.8" height="6.64" fill="#e8c6c2"/><rect x="3546" y="1229.06" width="15.8" height="6.64" fill="#ecd0cd"/><rect x="3546" y="1235.30" width="15.8" height="6.64" fill="#f0dbd8"/><rect x="3546" y="1241.54" width="15.8" height="6.64" fill="#f5e5e3"/><rect x="3546" y="1247.77" width="15.8" height="6.64" fill="#f9efee"/><rect x="3546" y="1254.01" width="15.8" height="6.64" fill="#fdfaf9"/><rect x="3546" y="1260.25" width="15.8" height="6.64" fill="#f9f9fb"/><rect x="3546" y="1266.49" width="15.8" height="6.64" fill="#edeef3"/><rect x="3546" y="1272.73" width="15.8" height="6.64" fill="#e0e3ec"/><rect x="3546" y="1278.96" width="15.8" height="6.64" fill="#d4d8e4"/><rect x="3546" y="1285.20" width="15.8" height="6.64" fill="#c8cddc"/><rect x="3546" y="1291.44" width="15.8" height="6.64" fill="#bbc2d5"/><rect x="3546" y="1297.68" width="15.8" height="6.64" fill="#afb7cd"/><rect x="3546" y="1303.92" width="15.8" height="6.64" fill="#a3adc5"/><rect x="3546" y="1310.15" width="15.8" height="6.64" fill="#98a2bd"/><rect x="3546" y="1316.39" width="15.8" height="6.64" fill="#8c98b5"/><rect x="3546" y="1322.63" width="15.8" height="6.64" fill="#808dad"/><rect x="3546" y="1328.87" width="15.8" height="6.64" fill="#7583a5"/><rect x="3546" y="1335.11" width="15.8" height="6.64" fill="#69789d"/><rect x="3546" y="1341.34" width="15.8" height="6.64" fill="#637298"/><rect x="3546" y="1347.58" width="15.8" height="6.64" fill="#5d6c94"/><rect x="3546" y="1353.82" width="15.8" height="6.64" fill="#57678f"/><rect x="3546" y="1360.06" width="15.8" height="6.64" fill="#51618a"/><rect x="3546" y="1366.30" width="15.8" height="6.64" fill="#4b5b86"/><rect x="3546" y="1372.53" width="15.8" height="6.64" fill="#455581"/><rect x="3546" y="1378.77" width="15.8" height="6.64" fill="#3f4f7b"/><rect x="3546" y="1385.01" width="15.8" height="6.64" fill="#384875"/><rect x="3546" y="1391.25" width="15.8" height="6.64" fill="#31416e"/><rect x="3546" y="1397.49" width="15.8" height="6.64" fill="#2a3a68"/><rect x="3546" y="1403.72" width="15.8" height="6.64" fill="#233362"/><rect x="3546" y="1409.96" width="15.8" height="6.64" fill="#1c2c5b"/>
<text x="3564.0" y="1110.9" font-family="DejaVu Sans, sans-serif" font-size="5.5" text-anchor="start" fill="#111" >0.6</text>
<text x="3564.0" y="1161.3" font-family="DejaVu Sans, sans-serif" font-size="5.5" text-anchor="start" fill="#111" >0.4</text>
<text x="3564.0" y="1211.6" font-family="DejaVu Sans, sans-serif" font-size="5.5" text-anchor="start" fill="#111" >0.2</text>
<text x="3564.0" y="1262.0" font-family="DejaVu Sans, sans-serif" font-size="5.5" text-anchor="start" fill="#111" >0.0</text>
<text x="3564.0" y="1312.4" font-family="DejaVu Sans, sans-serif" font-size="5.5" text-anchor="start" fill="#111" >&#x2212;0.2</text>
<text x="3564.0" y="1362.7" font-family="DejaVu Sans, sans-serif" font-size="5.5" text-anchor="start" fill="#111" >&#x2212;0.4</text>
<text x="3564.0" y="1413.1" font-family="DejaVu Sans, sans-serif" font-size="5.5" text-anchor="start" fill="#111" >&#x2212;0.6</text>
<text x="2590.5" y="1482.0" font-family="DejaVu Sans, sans-serif" font-size="13.2" text-anchor="middle" fill="#111" >Step 1</text>
<rect x="2576.4" y="1485.7" width="28.2" height="28.1" fill="#fffefe"/>
<rect x="2576.4" y="1513.8" width="28.2" height="28.1" fill="#fcfdfd"/>
<rect x="2576.4" y="1542.0" width="28.2" height="28.1" fill="#fefbfb"/>
<rect x="2576.4" y="1570.1" width="28.2" height="28.1" fill="#fefefd"/>
<rect x="2576.4" y="1598.2" width="28.2" height="28.1" fill="#fcfcfd"/>
<rect x="2576.4" y="1626.4" width="28.2" height="28.1" fill="#fdfdfe"/>
<rect x="2576.4" y="1485.7" width="28.2" height="168.8" fill="none" stroke="#555" stroke-width="0.8"/>
<line x1="2573.9" y1="1499.8" x2="2576.4" y2="1499.8" stroke="#444" stroke-width="0.6"/>
<text x="2571.4" y="1502.0" font-family="DejaVu Sans, sans-serif" font-size="5.5" text-anchor="end" fill="#111" >0</text>
<line x1="2573.9" y1="1527.9" x2="2576.4" y2="1527.9" stroke="#444" stroke-width="0.6"/>
<text x="2571.4" y="1530.1" font-family="DejaVu Sans, sans-serif" font-size="5.5" text-anchor="end" fill="#111" >1</text>
<line x1="2573.9" y1="1556.0" x2="2576.4" y2="1556.0" stroke="#444" stroke-width="0.6"/>
<text x="2571.4" y="1558.2" font-family="DejaVu Sans, sans-serif" font-size="5.5" text-anchor="end" fill="#111" >2</text>
<line x1="2573.9" y1="1584.2" x2="2576.4" y2="1584.2" stroke="#444" stroke-width="0.6"/>
<text x="2571.4" y="1586.4" font-family="DejaVu Sans, sans-serif" font-size="5.5" text-anchor="end" fill="#111" >3</text>
<line x1="2573.9" y1="1612.3" x2="2576.4" y2="1612.3" stroke="#444" stroke-width="0.6"/>
<text x="2571.4" y="1614.5" font-family="DejaVu Sans, sans-serif" font-size="5.5" text-anchor="end" fill="#111" >4</text>
<line x1="2573.9" y1="1640.4" x2="2576.4" y2="1640.4" stroke="#444" stroke-width="0.6"/>
<text x="2571.4" y="1642.6" font-family="DejaVu Sans, sans-serif" font-size="5.5" text-anchor="end" fill="#111" >5</text>
<text x="2590.5" y="1662.0" font-family="DejaVu Sans, sans-serif" font-size="6" text-anchor="middle" fill="#111" >&#x2212;0.5 0.0 0.5</text>
<text x="2666.1" y="1482.0" font-family="DejaVu Sans, sans-serif" font-size="13.2" text-anchor="middle" fill="#111" >Step 1k</text>
<rect x="2652" y="1626.4" width="28.2" height="28.1" fill="#8995b3"/>
<rect x="2652" y="1485.7" width="28.2" height="168.8" fill="none" stroke="#555" stroke-width="0.8"/>
<line x1="2649.5" y1="1499.8" x2="2652" y2="1499.8" stroke="#444" stroke-width="0.6"/>
<line x1="2649.5" y1="1527.9" x2="2652" y2="1527.9" stroke="#444" stroke-width="0.6"/>
<line x1="2649.5" y1="1556.0" x2="2652" y2="1556.0" stroke="#444" stroke-width="0.6"/>
<line x1="2649.5" y1="1584.2" x2="2652" y2="1584.2" stroke="#444" stroke-width="0.6"/>
<line x1="2649.5" y1="1612.3" x2="2652" y2="1612.3" stroke="#444" stroke-width="0.6"/>
<line x1="2649.5" y1="1640.4" x2="2652" y2="1640.4" stroke="#444" stroke-width="0.6"/>
<text x="2666.1" y="1662.0" font-family="DejaVu Sans, sans-serif" font-size="6" text-anchor="middle" fill="#111" >&#x2212;0.5 0.0 0.5</text>
<text x="2740.6" y="1482.0" font-family="DejaVu Sans, sans-serif" font-size="13.2" text-anchor="middle" fill="#111" >Step 2k</text>
<rect x="2726.5" y="1626.4" width="28.2" height="28.1" fill="#818eae"/>
<rect x="2726.5" y="1485.7" width="28.2" height="168.8" fill="none" stroke="#555" stroke-width="0.8"/>
<line x1="2724.0" y1="1499.8" x2="2726.5" y2="1499.8" stroke="#444" stroke-width="0.6"/>
<line x1="2724.0" y1="1527.9" x2="2726.5" y2="1527.9" stroke="#444" stroke-width="0.6"/>
<line x1="2724.0" y1="1556.0" x2="2726.5" y2="1556.0" stroke="#444" stroke-width="0.6"/>
<line x1="2724.0" y1="1584.2" x2="2726.5" y2="1584.2" stroke="#444" stroke-width="0.6"/>
<line x1="2724.0" y1="1612.3" x2="2726.5" y2="1612.3" stroke="#444" stroke-width="0.6"/>
<line x1="2724.0" y1="1640.4" x2="2726.5" y2="1640.4" stroke="#444" stroke-width="0.6"/>
<text x="2740.6" y="1662.0" font-family="DejaVu Sans, sans-serif" font-size="6" text-anchor="middle" fill="#111" >&#x2212;0.5 0.0 0.5</text>
<text x="2815.1" y="1482.0" font-family="DejaVu Sans, sans-serif" font-size="13.2" text-anchor="middle" fill="#111" >Step 10k</text>
<rect x="2801" y="1626.4" width="28.2" height="28.1" fill="#50608a"/>
<rect x="2801" y="1485.7" width="28.2" height="168.8" fill="none" stroke="#555" stroke-width="0.8"/>
<line x1="2798.5" y1="1499.8" x2="2801" y2="1499.8" stroke="#444" stroke-width="0.6"/>
<line x1="2798.5" y1="1527.9" x2="2801" y2="1527.9" stroke="#444" stroke-width="0.6"/>
<line x1="2798.5" y1="1556.0" x2="2801" y2="1556.0" stroke="#444" stroke-width="0.6"/>
<line x1="2798.5" y1="1584.2" x2="2801" y2="1584.2" stroke="#444" stroke-width="0.6"/>
<line x1="2798.5" y1="1612.3" x2="2801" y2="1612.3" stroke="#444" stroke-width="0.6"/>
<line x1="2798.5" y1="1640.4" x2="2801" y2="1640.4" stroke="#444" stroke-width="0.6"/>
<text x="2815.1" y="1662.0" font-family="DejaVu Sans, sans-serif" font-size="6" text-anchor="middle" fill="#111" >&#x2212;0.5 0.0 0.5</text>
<text x="2890.8" y="1482.0" font-family="DejaVu Sans, sans-serif" font-size="13.2" text-anchor="middle" fill="#111" >Step 100k</text>
<rect x="2876.7" y="1626.4" width="28.2" height="28.1" fill="#1d2d5c"/>
<rect x="2876.7" y="1485.7" width="28.2" height="168.8" fill="none" stroke="#555" stroke-width="0.8"/>
<line x1="2874.2" y1="1499.8" x2="2876.7" y2="1499.8" stroke="#444" stroke-width="0.6"/>
<line x1="2874.2" y1="1527.9" x2="2876.7" y2="1527.9" stroke="#444" stroke-width="0.6"/>
<line x1="2874.2" y1="1556.0" x2="2876.7" y2="1556.0" stroke="#444" stroke-width="0.6"/>
<line x1="2874.2" y1="1584.2" x2="2876.7" y2="1584.2" stroke="#444" stroke-width="0.6"/>
<line x1="2874.2" y1="1612.3" x2="2876.7" y2="1612.3" stroke="#444" stroke-width="0.6"/>
<line x1="2874.2" y1="1640.4" x2="2876.7" y2="1640.4" stroke="#444" stroke-width="0.6"/>
<text x="2890.8" y="1662.0" font-family="DejaVu Sans, sans-serif" font-size="6" text-anchor="middle" fill="#111" >&#x2212;0.5 0.0 0.5</text>
<text x="2965.9" y="1482.0" font-family="DejaVu Sans, sans-serif" font-size="13.2" text-anchor="middle" fill="#111" >Step 500k</text>
<rect x="2951.8" y="1626.4" width="28.2" height="28.1" fill="#182858"/>
<rect x="2951.8" y="1485.7" width="28.2" height="168.8" fill="none" stroke="#555" stroke-width="0.8"/>
<line x1="2949.3" y1="1499.8" x2="2951.8" y2="1499.8" stroke="#444" stroke-width="0.6"/>
<line x1="2949.3" y1="1527.9" x2="2951.8" y2="1527.9" stroke="#444" stroke-width="0.6"/>
<line x1="2949.3" y1="1556.0" x2="2951.8" y2="1556.0" stroke="#444" stroke-width="0.6"/>
<line x1="2949.3" y1="1584.2" x2="2951.8" y2="1584.2" stroke="#444" stroke-width="0.6"/>
<line x1="2949.3" y1="1612.3" x2="2951.8" y2="1612.3" stroke="#444" stroke-width="0.6"/>
<line x1="2949.3" y1="1640.4" x2="2951.8" y2="1640.4" stroke="#444" stroke-width="0.6"/>
<text x="2965.9" y="1662.0" font-family="DejaVu Sans, sans-serif" font-size="6" text-anchor="middle" fill="#111" >&#x2212;0.5 0.0 0.5</text>
<text x="2561.0" y="1570.0" font-family="DejaVu Sans, sans-serif" font-size="13.2" text-anchor="middle" fill="#111" transform="rotate(-90 2561 1570)">Head 1 OV</text>
<rect x="3031.3" y="1485.70" width="8.6" height="4.62" fill="#99251d"/><rect x="3031.3" y="1489.92" width="8.6" height="4.62" fill="#9e3027"/><rect x="3031.3" y="1494.14" width="8.6" height="4.62" fill="#a43a32"/><rect x="3031.3" y="1498.36" width="8.6" height="4.62" fill="#aa453c"/><rect x="3031.3" y="1502.58" width="8.6" height="4.62" fill="#af5046"/><rect x="3031.3" y="1506.80" width="8.6" height="4.62" fill="#b4594f"/><rect x="3031.3" y="1511.02" width="8.6" height="4.62" fill="#b96258"/><rect x="3031.3" y="1515.24" width="8.6" height="4.62" fill="#be6a61"/><rect x="3031.3" y="1519.46" width="8.6" height="4.62" fill="#c3736a"/><rect x="3031.3" y="1523.68" width="8.6" height="4.62" fill="#c87c73"/><rect x="3031.3" y="1527.90" width="8.6" height="4.62" fill="#cd867e"/><rect x="3031.3" y="1532.12" width="8.6" height="4.62" fill="#d2938b"/><rect x="3031.3" y="1536.34" width="8.6" height="4.62" fill="#d89f98"/><rect x="3031.3" y="1540.56" width="8.6" height="4.62" fill="#ddaba6"/><rect x="3031.3" y="1544.78" width="8.6" height="4.62" fill="#e2b8b3"/><rect x="3031.3" y="1549.00" width="8.6" height="4.62" fill="#e8c4c1"/><rect x="3031.3" y="1553.22" width="8.6" height="4.62" fill="#edd2cf"/><rect x="3031.3" y="1557.44" width="8.6" height="4.62" fill="#f2dedc"/><rect x="3031.3" y="1561.66" width="8.6" height="4.62" fill="#f7ecea"/><rect x="3031.3" y="1565.88" width="8.6" height="4.62" fill="#fcf8f8"/><rect x="3031.3" y="1570.10" width="8.6" height="4.62" fill="#f7f8fa"/><rect x="3031.3" y="1574.32" width="8.6" height="4.62" fill="#e8eaf1"/><rect x="3031.3" y="1578.54" width="8.6" height="4.62" fill="#d8dce7"/><rect x="3031.3" y="1582.76" width="8.6" height="4.62" fill="#c9cfdd"/><rect x="3031.3" y="1586.98" width="8.6" height="4.62" fill="#bac1d4"/><rect x="3031.3" y="1591.20" width="8.6" height="4.62" fill="#abb3ca"/><rect x="3031.3" y="1595.42" width="8.6" height="4.62" fill="#9ca6c0"/><rect x="3031.3" y="1599.64" width="8.6" height="4.62" fill="#8e99b6"/><rect x="3031.3" y="1603.86" width="8.6" height="4.62" fill="#7f8cac"/><rect x="3031.3" y="1608.08" width="8.6" height="4.62" fill="#707fa2"/><rect x="3031.3" y="1612.30" width="8.6" height="4.62" fill="#65749a"/><rect x="3031.3" y="1616.52" width="8.6" height="4.62" fill="#5e6d94"/><rect x="3031.3" y="1620.74" width="8.6" height="4.62" fill="#56668e"/><rect x="3031.3" y="1624.96" width="8.6" height="4.62" fill="#4f5f89"/><rect x="3031.3" y="1629.18" width="8.6" height="4.62" fill="#485883"/><rect x="3031.3" y="1633.40" width="8.6" height="4.62" fill="#40507c"/><rect x="3031.3" y="1637.62" width="8.6" height="4.62" fill="#374774"/><rect x="3031.3" y="1641.84" width="8.6" height="4.62" fill="#2e3e6c"/><rect x="3031.3" y="1646.06" width="8.6" height="4.62" fill="#253564"/><rect x="3031.3" y="1650.28" width="8.6" height="4.62" fill="#1c2c5c"/>
<text x="3043.3" y="1502.0" font-family="DejaVu Sans, sans-serif" font-size="6" text-anchor="start" fill="#111" >3</text>
<text x="3043.3" y="1525.4" font-family="DejaVu Sans, sans-serif" font-size="6" text-anchor="start" fill="#111" >2</text>
<text x="3043.3" y="1548.9" font-family="DejaVu Sans, sans-serif" font-size="6" text-anchor="start" fill="#111" >1</text>
<text x="3043.3" y="1572.3" font-family="DejaVu Sans, sans-serif" font-size="6" text-anchor="start" fill="#111" >0</text>
<text x="3043.3" y="1595.7" font-family="DejaVu Sans, sans-serif" font-size="6" text-anchor="start" fill="#111" >&#x2212;1</text>
<text x="3043.3" y="1619.2" font-family="DejaVu Sans, sans-serif" font-size="6" text-anchor="start" fill="#111" >&#x2212;2</text>
<text x="3043.3" y="1642.6" font-family="DejaVu Sans, sans-serif" font-size="6" text-anchor="start" fill="#111" >&#x2212;3</text>
<text x="3124.5" y="1482.0" font-family="DejaVu Sans, sans-serif" font-size="13.2" text-anchor="middle" fill="#111" >Step 1</text>
<rect x="3110.4" y="1485.7" width="28.2" height="28.1" fill="#fdfdfe"/>
<rect x="3110.4" y="1513.8" width="28.2" height="28.1" fill="#fafafc"/>
<rect x="3110.4" y="1542.0" width="28.2" height="28.1" fill="#fefcfc"/>
<rect x="3110.4" y="1570.1" width="28.2" height="28.1" fill="#fefcfc"/>
<rect x="3110.4" y="1598.2" width="28.2" height="28.1" fill="#ffffff"/>
<rect x="3110.4" y="1626.4" width="28.2" height="28.1" fill="#fffefe"/>
<rect x="3110.4" y="1485.7" width="28.2" height="168.8" fill="none" stroke="#555" stroke-width="0.8"/>
<line x1="3107.9" y1="1499.8" x2="3110.4" y2="1499.8" stroke="#444" stroke-width="0.6"/>
<text x="3105.4" y="1502.0" font-family="DejaVu Sans, sans-serif" font-size="5.5" text-anchor="end" fill="#111" >0</text>
<line x1="3107.9" y1="1527.9" x2="3110.4" y2="1527.9" stroke="#444" stroke-width="0.6"/>
<text x="3105.4" y="1530.1" font-family="DejaVu Sans, sans-serif" font-size="5.5" text-anchor="end" fill="#111" >1</text>
<line x1="3107.9" y1="1556.0" x2="3110.4" y2="1556.0" stroke="#444" stroke-width="0.6"/>
<text x="3105.4" y="1558.2" font-family="DejaVu Sans, sans-serif" font-size="5.5" text-anchor="end" fill="#111" >2</text>
<line x1="3107.9" y1="1584.2" x2="3110.4" y2="1584.2" stroke="#444" stroke-width="0.6"/>
<text x="3105.4" y="1586.4" font-family="DejaVu Sans, sans-serif" font-size="5.5" text-anchor="end" fill="#111" >3</text>
<line x1="3107.9" y1="1612.3" x2="3110.4" y2="1612.3" stroke="#444" stroke-width="0.6"/>
<text x="3105.4" y="1614.5" font-family="DejaVu Sans, sans-serif" font-size="5.5" text-anchor="end" fill="#111" >4</text>
<line x1="3107.9" y1="1640.4" x2="3110.4" y2="1640.4" stroke="#444" stroke-width="0.6"/>
<text x="3105.4" y="1642.6" font-family="DejaVu Sans, sans-serif" font-size="5.5" text-anchor="end" fill="#111" >5</text>
<text x="3124.5" y="1662.0" font-family="DejaVu Sans, sans-serif" font-size="6" text-anchor="middle" fill="#111" >&#x2212;0.5 0.0 0.5</text>
<text x="3199.1" y="1482.0" font-family="DejaVu Sans, sans-serif" font-size="13.2" text-anchor="middle" fill="#111" >Step 1k</text>
<rect x="3185" y="1626.4" width="28.2" height="28.1" fill="#dca9a4"/>
<rect x="3185" y="1485.7" width="28.2" height="168.8" fill="none" stroke="#555" stroke-width="0.8"/>
<line x1="3182.5" y1="1499.8" x2="3185" y2="1499.8" stroke="#444" stroke-width="0.6"/>
<line x1="3182.5" y1="1527.9" x2="3185" y2="1527.9" stroke="#444" stroke-width="0.6"/>
<line x1="3182.5" y1="1556.0" x2="3185" y2="1556.0" stroke="#444" stroke-width="0.6"/>
<line x1="3182.5" y1="1584.2" x2="3185" y2="1584.2" stroke="#444" stroke-width="0.6"/>
<line x1="3182.5" y1="1612.3" x2="3185" y2="1612.3" stroke="#444" stroke-width="0.6"/>
<line x1="3182.5" y1="1640.4" x2="3185" y2="1640.4" stroke="#444" stroke-width="0.6"/>
<text x="3199.1" y="1662.0" font-family="DejaVu Sans, sans-serif" font-size="6" text-anchor="middle" fill="#111" >&#x2212;0.5 0.0 0.5</text>
<text x="3274.7" y="1482.0" font-family="DejaVu Sans, sans-serif" font-size="13.2" text-anchor="middle" fill="#111" >Step 2k</text>
<rect x="3260.6" y="1626.4" width="28.2" height="28.1" fill="#d89f98"/>
<rect x="3260.6" y="1485.7" width="28.2" height="168.8" fill="none" stroke="#555" stroke-width="0.8"/>
<line x1="3258.1" y1="1499.8" x2="3260.6" y2="1499.8" stroke="#444" stroke-width="0.6"/>
<line x1="3258.1" y1="1527.9" x2="3260.6" y2="1527.9" stroke="#444" stroke-width="0.6"/>
<line x1="3258.1" y1="1556.0" x2="3260.6" y2="1556.0" stroke="#444" stroke-width="0.6"/>
<line x1="3258.1" y1="1584.2" x2="3260.6" y2="1584.2" stroke="#444" stroke-width="0.6"/>
<line x1="3258.1" y1="1612.3" x2="3260.6" y2="1612.3" stroke="#444" stroke-width="0.6"/>
<line x1="3258.1" y1="1640.4" x2="3260.6" y2="1640.4" stroke="#444" stroke-width="0.6"/>
<text x="3274.7" y="1662.0" font-family="DejaVu Sans, sans-serif" font-size="6" text-anchor="middle" fill="#111" >&#x2212;0.5 0.0 0.5</text>
<text x="3349.1" y="1482.0" font-family="DejaVu Sans, sans-serif" font-size="13.2" text-anchor="middle" fill="#111" >Step 10k</text>
<rect x="3335" y="1626.4" width="28.2" height="28.1" fill="#c27268"/>
<rect x="3335" y="1485.7" width="28.2" height="168.8" fill="none" stroke="#555" stroke-width="0.8"/>
<line x1="3332.5" y1="1499.8" x2="3335" y2="1499.8" stroke="#444" stroke-width="0.6"/>
<line x1="3332.5" y1="1527.9" x2="3335" y2="1527.9" stroke="#444" stroke-width="0.6"/>
<line x1="3332.5" y1="1556.0" x2="3335" y2="1556.0" stroke="#444" stroke-width="0.6"/>
<line x1="3332.5" y1="1584.2" x2="3335" y2="1584.2" stroke="#444" stroke-width="0.6"/>
<line x1="3332.5" y1="1612.3" x2="3335" y2="1612.3" stroke="#444" stroke-width="0.6"/>
<line x1="3332.5" y1="1640.4" x2="3335" y2="1640.4" stroke="#444" stroke-width="0.6"/>
<text x="3349.1" y="1662.0" font-family="DejaVu Sans, sans-serif" font-size="6" text-anchor="middle" fill="#111" >&#x2212;0.5 0.0 0.5</text>
<text x="3424.8" y="1482.0" font-family="DejaVu Sans, sans-serif" font-size="13.2" text-anchor="middle" fill="#111" >Step 100k</text>
<rect x="3410.7" y="1626.4" width="28.2" height="28.1" fill="#a2382f"/>
<rect x="3410.7" y="1485.7" width="28.2" height="168.8" fill="none" stroke="#555" stroke-width="0.8"/>
<line x1="3408.2" y1="1499.8" x2="3410.7" y2="1499.8" stroke="#444" stroke-width="0.6"/>
<line x1="3408.2" y1="1527.9" x2="3410.7" y2="1527.9" stroke="#444" stroke-width="0.6"/>
<line x1="3408.2" y1="1556.0" x2="3410.7" y2="1556.0" stroke="#444" stroke-width="0.6"/>
<line x1="3408.2" y1="1584.2" x2="3410.7" y2="1584.2" stroke="#444" stroke-width="0.6"/>
<line x1="3408.2" y1="1612.3" x2="3410.7" y2="1612.3" stroke="#444" stroke-width="0.6"/>
<line x1="3408.2" y1="1640.4" x2="3410.7" y2="1640.4" stroke="#444" stroke-width="0.6"/>
<text x="3424.8" y="1662.0" font-family="DejaVu Sans, sans-serif" font-size="6" text-anchor="middle" fill="#111" >&#x2212;0.5 0.0 0.5</text>
<text x="3499.8" y="1482.0" font-family="DejaVu Sans, sans-serif" font-size="13.2" text-anchor="middle" fill="#111" >Step 500k</text>
<rect x="3485.7" y="1626.4" width="28.2" height="28.1" fill="#9c2c23"/>
<rect x="3485.7" y="1485.7" width="28.2" height="168.8" fill="none" stroke="#555" stroke-width="0.8"/>
<line x1="3483.2" y1="1499.8" x2="3485.7" y2="1499.8" stroke="#444" stroke-width="0.6"/>
<line x1="3483.2" y1="1527.9" x2="3485.7" y2="1527.9" stroke="#444" stroke-width="0.6"/>
<line x1="3483.2" y1="1556.0" x2="3485.7" y2="1556.0" stroke="#444" stroke-width="0.6"/>
<line x1="3483.2" y1="1584.2" x2="3485.7" y2="1584.2" stroke="#444" stroke-width="0.6"/>
<line x1="3483.2" y1="1612.3" x2="3485.7" y2="1612.3" stroke="#444" stroke-width="0.6"/>
<line x1="3483.2" y1="1640.4" x2="3485.7" y2="1640.4" stroke="#444" stroke-width="0.6"/>
<text x="3499.8" y="1662.0" font-family="DejaVu Sans, sans-serif" font-size="6" text-anchor="middle" fill="#111" >&#x2212;0.5 0.0 0.5</text>
<text x="3095.5" y="1570.0" font-family="DejaVu Sans, sans-serif" font-size="13.2" text-anchor="middle" fill="#111" transform="rotate(-90 3095.5 1570)">Head 2 OV</text>
<rect x="3566.3" y="1485.70" width="8.6" height="4.62" fill="#99251d"/><rect x="3566.3" y="1489.92" width="8.6" height="4.62" fill="#9e3027"/><rect x="3566.3" y="1494.14" width="8.6" height="4.62" fill="#a43a32"/><rect x="3566.3" y="1498.36" width="8.6" height="4.62" fill="#aa453c"/><rect x="3566.3" y="1502.58" width="8.6" height="4.62" fill="#af5046"/><rect x="3566.3" y="1506.80" width="8.6" height="4.62" fill="#b4594f"/><rect x="3566.3" y="1511.02" width="8.6" height="4.62" fill="#b96258"/><rect x="3566.3" y="1515.24" width="8.6" height="4.62" fill="#be6a61"/><rect x="3566.3" y="1519.46" width="8.6" height="4.62" fill="#c3736a"/><rect x="3566.3" y="1523.68" width="8.6" height="4.62" fill="#c87c73"/><rect x="3566.3" y="1527.90" width="8.6" height="4.62" fill="#cd867e"/><rect x="3566.3" y="1532.12" width="8.6" height="4.62" fill="#d2938b"/><rect x="3566.3" y="1536.34" width="8.6" height="4.62" fill="#d89f98"/><rect x="3566.3" y="1540.56" width="8.6" height="4.62" fill="#ddaba6"/><rect x="3566.3" y="1544.78" width="8.6" height="4.62" fill="#e2b8b3"/><rect x="3566.3" y="1549.00" width="8.6" height="4.62" fill="#e8c4c1"/><rect x="3566.3" y="1553.22" width="8.6" height="4.62" fill="#edd2cf"/><rect x="3566.3" y="1557.44" width="8.6" height="4.62" fill="#f2dedc"/><rect x="3566.3" y="1561.66" width="8.6" height="4.62" fill="#f7ecea"/><rect x="3566.3" y="1565.88" width="8.6" height="4.62" fill="#fcf8f8"/><rect x="3566.3" y="1570.10" width="8.6" height="4.62" fill="#f7f8fa"/><rect x="3566.3" y="1574.32" width="8.6" height="4.62" fill="#e8eaf1"/><rect x="3566.3" y="1578.54" width="8.6" height="4.62" fill="#d8dce7"/><rect x="3566.3" y="1582.76" width="8.6" height="4.62" fill="#c9cfdd"/><rect x="3566.3" y="1586.98" width="8.6" height="4.62" fill="#bac1d4"/><rect x="3566.3" y="1591.20" width="8.6" height="4.62" fill="#abb3ca"/><rect x="3566.3" y="1595.42" width="8.6" height="4.62" fill="#9ca6c0"/><rect x="3566.3" y="1599.64" width="8.6" height="4.62" fill="#8e99b6"/><rect x="3566.3" y="1603.86" width="8.6" height="4.62" fill="#7f8cac"/><rect x="3566.3" y="1608.08" width="8.6" height="4.62" fill="#707fa2"/><rect x="3566.3" y="1612.30" width="8.6" height="4.62" fill="#65749a"/><rect x="3566.3" y="1616.52" width="8.6" height="4.62" fill="#5e6d94"/><rect x="3566.3" y="1620.74" width="8.6" height="4.62" fill="#56668e"/><rect x="3566.3" y="1624.96" width="8.6" height="4.62" fill="#4f5f89"/><rect x="3566.3" y="1629.18" width="8.6" height="4.62" fill="#485883"/><rect x="3566.3" y="1633.40" width="8.6" height="4.62" fill="#40507c"/><rect x="3566.3" y="1637.62" width="8.6" height="4.62" fill="#374774"/><rect x="3566.3" y="1641.84" width="8.6" height="4.62" fill="#2e3e6c"/><rect x="3566.3" y="1646.06" width="8.6" height="4.62" fill="#253564"/><rect x="3566.3" y="1650.28" width="8.6" height="4.62" fill="#1c2c5c"/>
<text x="3578.3" y="1502.0" font-family="DejaVu Sans, sans-serif" font-size="6" text-anchor="start" fill="#111" >3</text>
<text x="3578.3" y="1525.4" font-family="DejaVu Sans, sans-serif" font-size="6" text-anchor="start" fill="#111" >2</text>
<text x="3578.3" y="1548.9" font-family="DejaVu Sans, sans-serif" font-size="6" text-anchor="start" fill="#111" >1</text>
<text x="3578.3" y="1572.3" font-family="DejaVu Sans, sans-serif" font-size="6" text-anchor="start" fill="#111" >0</text>
<text x="3578.3" y="1595.7" font-family="DejaVu Sans, sans-serif" font-size="6" text-anchor="start" fill="#111" >&#x2212;1</text>
<text x="3578.3" y="1619.2" font-family="DejaVu Sans, sans-serif" font-size="6" text-anchor="start" fill="#111" >&#x2212;2</text>
<text x="3578.3" y="1642.6" font-family="DejaVu Sans, sans-serif" font-size="6" text-anchor="start" fill="#111" >&#x2212;3</text>
</svg>
<svg style="position:absolute;left:2545px;top:2445px" width="1045" height="200" viewBox="2545 2445 1045 200">
<text x="2643.2" y="2465.0" font-family="DejaVu Sans, sans-serif" font-size="10.5" text-anchor="middle" fill="#111" >Head 1 QK</text>
<rect x="2562.30" y="2468.20" width="20.51" height="20.45" fill="#9ea8c1"/><rect x="2582.51" y="2468.20" width="20.51" height="20.45" fill="#fdfafa"/><rect x="2622.94" y="2468.20" width="20.51" height="20.45" fill="#fcfcfd"/><rect x="2643.15" y="2468.20" width="20.51" height="20.45" fill="#fafbfc"/><rect x="2683.57" y="2468.20" width="20.51" height="20.45" fill="#d4978f"/><rect x="2703.79" y="2468.20" width="20.51" height="20.45" fill="#e3e6ee"/><rect x="2562.30" y="2488.35" width="20.51" height="20.45" fill="#fffefe"/><rect x="2582.51" y="2488.35" width="20.51" height="20.45" fill="#919cb8"/><rect x="2602.73" y="2488.35" width="20.51" height="20.45" fill="#fefdfd"/><rect x="2622.94" y="2488.35" width="20.51" height="20.45" fill="#fbfcfd"/><rect x="2683.57" y="2488.35" width="20.51" height="20.45" fill="#f1dcd9"/><rect x="2703.79" y="2488.35" width="20.51" height="20.45" fill="#bd695f"/><rect x="2562.30" y="2508.50" width="20.51" height="20.45" fill="#fffefe"/><rect x="2582.51" y="2508.50" width="20.51" height="20.45" fill="#fcf7f6"/><rect x="2602.73" y="2508.50" width="20.51" height="20.45" fill="#384875"/><rect x="2622.94" y="2508.50" width="20.51" height="20.45" fill="#fefeff"/><rect x="2643.15" y="2508.50" width="20.51" height="20.45" fill="#fdfbfa"/><rect x="2663.36" y="2508.50" width="20.51" height="20.45" fill="#fffefe"/><rect x="2683.57" y="2508.50" width="20.51" height="20.45" fill="#182858"/><rect x="2703.79" y="2508.50" width="20.51" height="20.45" fill="#bd695f"/><rect x="2562.30" y="2528.65" width="20.51" height="20.45" fill="#fffefe"/><rect x="2582.51" y="2528.65" width="20.51" height="20.45" fill="#fefbfb"/><rect x="2602.73" y="2528.65" width="20.51" height="20.45" fill="#fefdfc"/><rect x="2622.94" y="2528.65" width="20.51" height="20.45" fill="#384875"/><rect x="2643.15" y="2528.65" width="20.51" height="20.45" fill="#fafbfc"/><rect x="2663.36" y="2528.65" width="20.51" height="20.45" fill="#fefdfd"/><rect x="2683.57" y="2528.65" width="20.51" height="20.45" fill="#e3e6ee"/><rect x="2703.79" y="2528.65" width="20.51" height="20.45" fill="#f6e7e6"/><rect x="2562.30" y="2548.80" width="20.51" height="20.45" fill="#fffefe"/><rect x="2582.51" y="2548.80" width="20.51" height="20.45" fill="#fdfbfb"/><rect x="2622.94" y="2548.80" width="20.51" height="20.45" fill="#fffefe"/><rect x="2643.15" y="2548.80" width="20.51" height="20.45" fill="#55648d"/><rect x="2663.36" y="2548.80" width="20.51" height="20.45" fill="#fafbfc"/><rect x="2683.57" y="2548.80" width="20.51" height="20.45" fill="#f1f2f6"/><rect x="2703.79" y="2548.80" width="20.51" height="20.45" fill="#55648d"/><rect x="2562.30" y="2568.95" width="20.51" height="20.45" fill="#fcf8f8"/><rect x="2602.73" y="2568.95" width="20.51" height="20.45" fill="#fefdfd"/><rect x="2622.94" y="2568.95" width="20.51" height="20.45" fill="#fefdfd"/><rect x="2643.15" y="2568.95" width="20.51" height="20.45" fill="#fefefe"/><rect x="2663.36" y="2568.95" width="20.51" height="20.45" fill="#475783"/><rect x="2683.57" y="2568.95" width="20.51" height="20.45" fill="#abb4ca"/><rect x="2703.79" y="2568.95" width="20.51" height="20.45" fill="#d9a29c"/><rect x="2562.30" y="2589.10" width="20.51" height="20.45" fill="#fefcfc"/><rect x="2582.51" y="2589.10" width="20.51" height="20.45" fill="#fafafc"/><rect x="2602.73" y="2589.10" width="20.51" height="20.45" fill="#fdfdfe"/><rect x="2622.94" y="2589.10" width="20.51" height="20.45" fill="#fdfbfa"/><rect x="2643.15" y="2589.10" width="20.51" height="20.45" fill="#fdfafa"/><rect x="2663.36" y="2589.10" width="20.51" height="20.45" fill="#fafafc"/><rect x="2683.57" y="2589.10" width="20.51" height="20.45" fill="#f9fafc"/><rect x="2562.30" y="2609.25" width="20.51" height="20.45" fill="#fefcfc"/><rect x="2582.51" y="2609.25" width="20.51" height="20.45" fill="#fffefe"/><rect x="2602.73" y="2609.25" width="20.51" height="20.45" fill="#fffefe"/><rect x="2622.94" y="2609.25" width="20.51" height="20.45" fill="#fbfbfc"/><rect x="2643.15" y="2609.25" width="20.51" height="20.45" fill="#fefdfd"/><rect x="2663.36" y="2609.25" width="20.51" height="20.45" fill="#fdfbfb"/><rect x="2683.57" y="2609.25" width="20.51" height="20.45" fill="#fdfdfe"/><rect x="2703.79" y="2609.25" width="20.51" height="20.45" fill="#f9fafb"/><rect x="2562.3" y="2468.2" width="161.69999999999982" height="161.20000000000027" fill="none" stroke="#555" stroke-width="0.8"/>
<line x1="2562.3" y1="2589.1" x2="2724" y2="2589.1" stroke="#2f7d1c" stroke-width="2.6" stroke-dasharray="8,5"/>
<line x1="2683.6" y1="2468.2" x2="2683.6" y2="2629.4" stroke="#2f7d1c" stroke-width="2.6" stroke-dasharray="8,5"/>
<text x="2556.3" y="2480.3" font-family="DejaVu Sans, sans-serif" font-size="5" text-anchor="end" fill="#111" >0</text>
<text x="2572.4" y="2638.4" font-family="DejaVu Sans, sans-serif" font-size="5" text-anchor="middle" fill="#111" >0</text>
<text x="2556.3" y="2500.4" font-family="DejaVu Sans, sans-serif" font-size="5" text-anchor="end" fill="#111" >1</text>
<text x="2592.6" y="2638.4" font-family="DejaVu Sans, sans-serif" font-size="5" text-anchor="middle" fill="#111" >1</text>
<text x="2556.3" y="2520.6" font-family="DejaVu Sans, sans-serif" font-size="5" text-anchor="end" fill="#111" >2</text>
<text x="2612.8" y="2638.4" font-family="DejaVu Sans, sans-serif" font-size="5" text-anchor="middle" fill="#111" >2</text>
<text x="2556.3" y="2540.7" font-family="DejaVu Sans, sans-serif" font-size="5" text-anchor="end" fill="#111" >3</text>
<text x="2633.0" y="2638.4" font-family="DejaVu Sans, sans-serif" font-size="5" text-anchor="middle" fill="#111" >3</text>
<text x="2556.3" y="2560.9" font-family="DejaVu Sans, sans-serif" font-size="5" text-anchor="end" fill="#111" >4</text>
<text x="2653.3" y="2638.4" font-family="DejaVu Sans, sans-serif" font-size="5" text-anchor="middle" fill="#111" >4</text>
<text x="2556.3" y="2581.0" font-family="DejaVu Sans, sans-serif" font-size="5" text-anchor="end" fill="#111" >5</text>
<text x="2673.5" y="2638.4" font-family="DejaVu Sans, sans-serif" font-size="5" text-anchor="middle" fill="#111" >5</text>
<text x="2556.3" y="2601.2" font-family="DejaVu Sans, sans-serif" font-size="5" text-anchor="end" fill="#111" >6</text>
<text x="2693.7" y="2638.4" font-family="DejaVu Sans, sans-serif" font-size="5" text-anchor="middle" fill="#111" >6</text>
<text x="2556.3" y="2621.3" font-family="DejaVu Sans, sans-serif" font-size="5" text-anchor="end" fill="#111" >7</text>
<text x="2713.9" y="2638.4" font-family="DejaVu Sans, sans-serif" font-size="5" text-anchor="middle" fill="#111" >7</text>
<rect x="2753.6" y="2468.20" width="7.4" height="4.43" fill="#99251d"/><rect x="2753.6" y="2472.23" width="7.4" height="4.43" fill="#9e3027"/><rect x="2753.6" y="2476.26" width="7.4" height="4.43" fill="#a43a32"/><rect x="2753.6" y="2480.29" width="7.4" height="4.43" fill="#aa453c"/><rect x="2753.6" y="2484.32" width="7.4" height="4.43" fill="#af5046"/><rect x="2753.6" y="2488.35" width="7.4" height="4.43" fill="#b4594f"/><rect x="2753.6" y="2492.38" width="7.4" height="4.43" fill="#b96258"/><rect x="2753.6" y="2496.41" width="7.4" height="4.43" fill="#be6a61"/><rect x="2753.6" y="2500.44" width="7.4" height="4.43" fill="#c3736a"/><rect x="2753.6" y="2504.47" width="7.4" height="4.43" fill="#c87c73"/><rect x="2753.6" y="2508.50" width="7.4" height="4.43" fill="#cd867e"/><rect x="2753.6" y="2512.53" width="7.4" height="4.43" fill="#d2938b"/><rect x="2753.6" y="2516.56" width="7.4" height="4.43" fill="#d89f98"/><rect x="2753.6" y="2520.59" width="7.4" height="4.43" fill="#ddaba6"/><rect x="2753.6" y="2524.62" width="7.4" height="4.43" fill="#e2b8b3"/><rect x="2753.6" y="2528.65" width="7.4" height="4.43" fill="#e8c4c1"/><rect x="2753.6" y="2532.68" width="7.4" height="4.43" fill="#edd2cf"/><rect x="2753.6" y="2536.71" width="7.4" height="4.43" fill="#f2dedc"/><rect x="2753.6" y="2540.74" width="7.4" height="4.43" fill="#f7ecea"/><rect x="2753.6" y="2544.77" width="7.4" height="4.43" fill="#fcf8f8"/><rect x="2753.6" y="2548.80" width="7.4" height="4.43" fill="#f7f8fa"/><rect x="2753.6" y="2552.83" width="7.4" height="4.43" fill="#e8eaf1"/><rect x="2753.6" y="2556.86" width="7.4" height="4.43" fill="#d8dce7"/><rect x="2753.6" y="2560.89" width="7.4" height="4.43" fill="#c9cfdd"/><rect x="2753.6" y="2564.92" width="7.4" height="4.43" fill="#bac1d4"/><rect x="2753.6" y="2568.95" width="7.4" height="4.43" fill="#abb3ca"/><rect x="2753.6" y="2572.98" width="7.4" height="4.43" fill="#9ca6c0"/><rect x="2753.6" y="2577.01" width="7.4" height="4.43" fill="#8e99b6"/><rect x="2753.6" y="2581.04" width="7.4" height="4.43" fill="#7f8cac"/><rect x="2753.6" y="2585.07" width="7.4" height="4.43" fill="#707fa2"/><rect x="2753.6" y="2589.10" width="7.4" height="4.43" fill="#65749a"/><rect x="2753.6" y="2593.13" width="7.4" height="4.43" fill="#5e6d94"/><rect x="2753.6" y="2597.16" width="7.4" height="4.43" fill="#56668e"/><rect x="2753.6" y="2601.19" width="7.4" height="4.43" fill="#4f5f89"/><rect x="2753.6" y="2605.22" width="7.4" height="4.43" fill="#485883"/><rect x="2753.6" y="2609.25" width="7.4" height="4.43" fill="#40507c"/><rect x="2753.6" y="2613.28" width="7.4" height="4.43" fill="#374774"/><rect x="2753.6" y="2617.31" width="7.4" height="4.43" fill="#2e3e6c"/><rect x="2753.6" y="2621.34" width="7.4" height="4.43" fill="#253564"/><rect x="2753.6" y="2625.37" width="7.4" height="4.43" fill="#1c2c5c"/>
<text x="2763.6" y="2480.2" font-family="DejaVu Sans, sans-serif" font-size="4.5" text-anchor="start" fill="#111" >0.0</text>
<text x="2763.6" y="2503.7" font-family="DejaVu Sans, sans-serif" font-size="4.5" text-anchor="start" fill="#111" >0.0</text>
<text x="2763.6" y="2527.3" font-family="DejaVu Sans, sans-serif" font-size="4.5" text-anchor="start" fill="#111" >0.0</text>
<text x="2763.6" y="2550.8" font-family="DejaVu Sans, sans-serif" font-size="4.5" text-anchor="start" fill="#111" >0.0</text>
<text x="2763.6" y="2574.3" font-family="DejaVu Sans, sans-serif" font-size="4.5" text-anchor="start" fill="#111" >&#x2212;0.0</text>
<text x="2763.6" y="2597.9" font-family="DejaVu Sans, sans-serif" font-size="4.5" text-anchor="start" fill="#111" >&#x2212;0.0</text>
<text x="2763.6" y="2621.4" font-family="DejaVu Sans, sans-serif" font-size="4.5" text-anchor="start" fill="#111" >&#x2212;0.0</text>
<text x="2826.8" y="2465.0" font-family="DejaVu Sans, sans-serif" font-size="10.5" text-anchor="middle" fill="#111" >Head 1 OV</text>
<rect x="2807.0" y="2589.1" width="19.8" height="20.2" fill="#69789d"/>
<rect x="2826.8" y="2609.2" width="19.8" height="20.2" fill="#182858"/>
<line x1="2807" y1="2589.1" x2="2846.6" y2="2589.1" stroke="#2f7d1c" stroke-width="2.6" stroke-dasharray="8,5"/>
<line x1="2807" y1="2629.4" x2="2846.6" y2="2629.4" stroke="#888" stroke-width="0.6"/>
<text x="2803.0" y="2480.3" font-family="DejaVu Sans, sans-serif" font-size="5" text-anchor="end" fill="#111" >0&#x2013;</text>
<text x="2803.0" y="2500.4" font-family="DejaVu Sans, sans-serif" font-size="5" text-anchor="end" fill="#111" >1&#x2013;</text>
<text x="2803.0" y="2520.6" font-family="DejaVu Sans, sans-serif" font-size="5" text-anchor="end" fill="#111" >2&#x2013;</text>
<text x="2803.0" y="2540.7" font-family="DejaVu Sans, sans-serif" font-size="5" text-anchor="end" fill="#111" >3&#x2013;</text>
<text x="2803.0" y="2560.9" font-family="DejaVu Sans, sans-serif" font-size="5" text-anchor="end" fill="#111" >4&#x2013;</text>
<text x="2803.0" y="2581.0" font-family="DejaVu Sans, sans-serif" font-size="5" text-anchor="end" fill="#111" >5&#x2013;</text>
<text x="2803.0" y="2601.2" font-family="DejaVu Sans, sans-serif" font-size="5" text-anchor="end" fill="#111" >6&#x2013;</text>
<text x="2803.0" y="2621.3" font-family="DejaVu Sans, sans-serif" font-size="5" text-anchor="end" fill="#111" >7&#x2013;</text>
<rect x="2874.8" y="2468.20" width="6.4" height="4.43" fill="#99251d"/><rect x="2874.8" y="2472.23" width="6.4" height="4.43" fill="#9e3027"/><rect x="2874.8" y="2476.26" width="6.4" height="4.43" fill="#a43a32"/><rect x="2874.8" y="2480.29" width="6.4" height="4.43" fill="#aa453c"/><rect x="2874.8" y="2484.32" width="6.4" height="4.43" fill="#af5046"/><rect x="2874.8" y="2488.35" width="6.4" height="4.43" fill="#b4594f"/><rect x="2874.8" y="2492.38" width="6.4" height="4.43" fill="#b96258"/><rect x="2874.8" y="2496.41" width="6.4" height="4.43" fill="#be6a61"/><rect x="2874.8" y="2500.44" width="6.4" height="4.43" fill="#c3736a"/><rect x="2874.8" y="2504.47" width="6.4" height="4.43" fill="#c87c73"/><rect x="2874.8" y="2508.50" width="6.4" height="4.43" fill="#cd867e"/><rect x="2874.8" y="2512.53" width="6.4" height="4.43" fill="#d2938b"/><rect x="2874.8" y="2516.56" width="6.4" height="4.43" fill="#d89f98"/><rect x="2874.8" y="2520.59" width="6.4" height="4.43" fill="#ddaba6"/><rect x="2874.8" y="2524.62" width="6.4" height="4.43" fill="#e2b8b3"/><rect x="2874.8" y="2528.65" width="6.4" height="4.43" fill="#e8c4c1"/><rect x="2874.8" y="2532.68" width="6.4" height="4.43" fill="#edd2cf"/><rect x="2874.8" y="2536.71" width="6.4" height="4.43" fill="#f2dedc"/><rect x="2874.8" y="2540.74" width="6.4" height="4.43" fill="#f7ecea"/><rect x="2874.8" y="2544.77" width="6.4" height="4.43" fill="#fcf8f8"/><rect x="2874.8" y="2548.80" width="6.4" height="4.43" fill="#f7f8fa"/><rect x="2874.8" y="2552.83" width="6.4" height="4.43" fill="#e8eaf1"/><rect x="2874.8" y="2556.86" width="6.4" height="4.43" fill="#d8dce7"/><rect x="2874.8" y="2560.89" width="6.4" height="4.43" fill="#c9cfdd"/><rect x="2874.8" y="2564.92" width="6.4" height="4.43" fill="#bac1d4"/><rect x="2874.8" y="2568.95" width="6.4" height="4.43" fill="#abb3ca"/><rect x="2874.8" y="2572.98" width="6.4" height="4.43" fill="#9ca6c0"/><rect x="2874.8" y="2577.01" width="6.4" height="4.43" fill="#8e99b6"/><rect x="2874.8" y="2581.04" width="6.4" height="4.43" fill="#7f8cac"/><rect x="2874.8" y="2585.07" width="6.4" height="4.43" fill="#707fa2"/><rect x="2874.8" y="2589.10" width="6.4" height="4.43" fill="#65749a"/><rect x="2874.8" y="2593.13" width="6.4" height="4.43" fill="#5e6d94"/><rect x="2874.8" y="2597.16" width="6.4" height="4.43" fill="#56668e"/><rect x="2874.8" y="2601.19" width="6.4" height="4.43" fill="#4f5f89"/><rect x="2874.8" y="2605.22" width="6.4" height="4.43" fill="#485883"/><rect x="2874.8" y="2609.25" width="6.4" height="4.43" fill="#40507c"/><rect x="2874.8" y="2613.28" width="6.4" height="4.43" fill="#374774"/><rect x="2874.8" y="2617.31" width="6.4" height="4.43" fill="#2e3e6c"/><rect x="2874.8" y="2621.34" width="6.4" height="4.43" fill="#253564"/><rect x="2874.8" y="2625.37" width="6.4" height="4.43" fill="#1c2c5c"/>
<text x="2883.8" y="2490.2" font-family="DejaVu Sans, sans-serif" font-size="4.5" text-anchor="start" fill="#111" >4</text>
<text x="2883.8" y="2520.5" font-family="DejaVu Sans, sans-serif" font-size="4.5" text-anchor="start" fill="#111" >2</text>
<text x="2883.8" y="2550.8" font-family="DejaVu Sans, sans-serif" font-size="4.5" text-anchor="start" fill="#111" >0</text>
<text x="2883.8" y="2581.1" font-family="DejaVu Sans, sans-serif" font-size="4.5" text-anchor="start" fill="#111" >&#x2212;2</text>
<text x="2883.8" y="2611.4" font-family="DejaVu Sans, sans-serif" font-size="4.5" text-anchor="start" fill="#111" >&#x2212;4</text>
<text x="2988.8" y="2465.0" font-family="DejaVu Sans, sans-serif" font-size="10.5" text-anchor="middle" fill="#111" >Head 2 QK</text>
<rect x="2908.40" y="2468.20" width="20.40" height="20.45" fill="#aa453c"/><rect x="2928.50" y="2468.20" width="20.40" height="20.45" fill="#fbfcfd"/><rect x="2948.60" y="2468.20" width="20.40" height="20.45" fill="#fefdfd"/><rect x="2968.70" y="2468.20" width="20.40" height="20.45" fill="#fffefe"/><rect x="2988.80" y="2468.20" width="20.40" height="20.45" fill="#fdfbfb"/><rect x="3008.90" y="2468.20" width="20.40" height="20.45" fill="#f7f8fa"/><rect x="3049.10" y="2468.20" width="20.40" height="20.45" fill="#edd1ce"/><rect x="2908.40" y="2488.35" width="20.40" height="20.45" fill="#f9fafb"/><rect x="2928.50" y="2488.35" width="20.40" height="20.45" fill="#a33930"/><rect x="2948.60" y="2488.35" width="20.40" height="20.45" fill="#fcfdfd"/><rect x="2968.70" y="2488.35" width="20.40" height="20.45" fill="#fdfefe"/><rect x="2988.80" y="2488.35" width="20.40" height="20.45" fill="#fafbfc"/><rect x="3008.90" y="2488.35" width="20.40" height="20.45" fill="#fefdfd"/><rect x="3029.00" y="2488.35" width="20.40" height="20.45" fill="#a33930"/><rect x="3049.10" y="2488.35" width="20.40" height="20.45" fill="#b05248"/><rect x="2908.40" y="2508.50" width="20.40" height="20.45" fill="#fdfaf9"/><rect x="2928.50" y="2508.50" width="20.40" height="20.45" fill="#fdfdfe"/><rect x="2948.60" y="2508.50" width="20.40" height="20.45" fill="#9d2c24"/><rect x="2968.70" y="2508.50" width="20.40" height="20.45" fill="#fffefe"/><rect x="2988.80" y="2508.50" width="20.40" height="20.45" fill="#fffefe"/><rect x="3029.00" y="2508.50" width="20.40" height="20.45" fill="#838faf"/><rect x="3049.10" y="2508.50" width="20.40" height="20.45" fill="#aa453c"/><rect x="2908.40" y="2528.65" width="20.40" height="20.45" fill="#f7f8fa"/><rect x="2928.50" y="2528.65" width="20.40" height="20.45" fill="#fcf8f8"/><rect x="2948.60" y="2528.65" width="20.40" height="20.45" fill="#f8f9fb"/><rect x="2968.70" y="2528.65" width="20.40" height="20.45" fill="#962018"/><rect x="3008.90" y="2528.65" width="20.40" height="20.45" fill="#fffefe"/><rect x="3029.00" y="2528.65" width="20.40" height="20.45" fill="#b65d53"/><rect x="3049.10" y="2528.65" width="20.40" height="20.45" fill="#5c6b93"/><rect x="2908.40" y="2548.80" width="20.40" height="20.45" fill="#ebedf3"/><rect x="2928.50" y="2548.80" width="20.40" height="20.45" fill="#fefefe"/><rect x="2948.60" y="2548.80" width="20.40" height="20.45" fill="#fdfefe"/><rect x="2968.70" y="2548.80" width="20.40" height="20.45" fill="#fcfcfd"/><rect x="3008.90" y="2548.80" width="20.40" height="20.45" fill="#f9fafb"/><rect x="3049.10" y="2548.80" width="20.40" height="20.45" fill="#f9f0ef"/><rect x="2908.40" y="2568.95" width="20.40" height="20.45" fill="#fffefe"/><rect x="2928.50" y="2568.95" width="20.40" height="20.45" fill="#f5f6f9"/><rect x="2948.60" y="2568.95" width="20.40" height="20.45" fill="#f6f7f9"/><rect x="2968.70" y="2568.95" width="20.40" height="20.45" fill="#fbf5f4"/><rect x="2988.80" y="2568.95" width="20.40" height="20.45" fill="#fefcfc"/><rect x="3049.10" y="2568.95" width="20.40" height="20.45" fill="#f9f0ef"/><rect x="2908.40" y="2589.10" width="20.40" height="20.45" fill="#f9f9fb"/><rect x="2928.50" y="2589.10" width="20.40" height="20.45" fill="#fefefe"/><rect x="2948.60" y="2589.10" width="20.40" height="20.45" fill="#f3f4f7"/><rect x="2968.70" y="2589.10" width="20.40" height="20.45" fill="#fffefe"/><rect x="2988.80" y="2589.10" width="20.40" height="20.45" fill="#f5f6f9"/><rect x="3029.00" y="2589.10" width="20.40" height="20.45" fill="#f8f9fb"/><rect x="3049.10" y="2589.10" width="20.40" height="20.45" fill="#fcf7f7"/><rect x="2908.40" y="2609.25" width="20.40" height="20.45" fill="#fdfbfb"/><rect x="2928.50" y="2609.25" width="20.40" height="20.45" fill="#fbfcfd"/><rect x="2948.60" y="2609.25" width="20.40" height="20.45" fill="#f4f5f8"/><rect x="2968.70" y="2609.25" width="20.40" height="20.45" fill="#fafafc"/><rect x="2988.80" y="2609.25" width="20.40" height="20.45" fill="#fefefe"/><rect x="3008.90" y="2609.25" width="20.40" height="20.45" fill="#f9f9fb"/><rect x="3029.00" y="2609.25" width="20.40" height="20.45" fill="#fffefe"/><rect x="3049.10" y="2609.25" width="20.40" height="20.45" fill="#fdfbfb"/><rect x="2908.4" y="2468.2" width="160.79999999999973" height="161.20000000000027" fill="none" stroke="#555" stroke-width="0.8"/>
<line x1="2908.4" y1="2589.1" x2="3069.2" y2="2589.1" stroke="#2f7d1c" stroke-width="2.6" stroke-dasharray="8,5"/>
<line x1="3029.0" y1="2468.2" x2="3029.0" y2="2629.4" stroke="#2f7d1c" stroke-width="2.6" stroke-dasharray="8,5"/>
<text x="2902.4" y="2480.3" font-family="DejaVu Sans, sans-serif" font-size="5" text-anchor="end" fill="#111" >0</text>
<text x="2918.5" y="2638.4" font-family="DejaVu Sans, sans-serif" font-size="5" text-anchor="middle" fill="#111" >0</text>
<text x="2902.4" y="2500.4" font-family="DejaVu Sans, sans-serif" font-size="5" text-anchor="end" fill="#111" >1</text>
<text x="2938.6" y="2638.4" font-family="DejaVu Sans, sans-serif" font-size="5" text-anchor="middle" fill="#111" >1</text>
<text x="2902.4" y="2520.6" font-family="DejaVu Sans, sans-serif" font-size="5" text-anchor="end" fill="#111" >2</text>
<text x="2958.7" y="2638.4" font-family="DejaVu Sans, sans-serif" font-size="5" text-anchor="middle" fill="#111" >2</text>
<text x="2902.4" y="2540.7" font-family="DejaVu Sans, sans-serif" font-size="5" text-anchor="end" fill="#111" >3</text>
<text x="2978.8" y="2638.4" font-family="DejaVu Sans, sans-serif" font-size="5" text-anchor="middle" fill="#111" >3</text>
<text x="2902.4" y="2560.9" font-family="DejaVu Sans, sans-serif" font-size="5" text-anchor="end" fill="#111" >4</text>
<text x="2998.8" y="2638.4" font-family="DejaVu Sans, sans-serif" font-size="5" text-anchor="middle" fill="#111" >4</text>
<text x="2902.4" y="2581.0" font-family="DejaVu Sans, sans-serif" font-size="5" text-anchor="end" fill="#111" >5</text>
<text x="3018.9" y="2638.4" font-family="DejaVu Sans, sans-serif" font-size="5" text-anchor="middle" fill="#111" >5</text>
<text x="2902.4" y="2601.2" font-family="DejaVu Sans, sans-serif" font-size="5" text-anchor="end" fill="#111" >6</text>
<text x="3039.0" y="2638.4" font-family="DejaVu Sans, sans-serif" font-size="5" text-anchor="middle" fill="#111" >6</text>
<text x="2902.4" y="2621.3" font-family="DejaVu Sans, sans-serif" font-size="5" text-anchor="end" fill="#111" >7</text>
<text x="3059.1" y="2638.4" font-family="DejaVu Sans, sans-serif" font-size="5" text-anchor="middle" fill="#111" >7</text>
<rect x="3098.9" y="2468.20" width="7.4" height="4.43" fill="#99251d"/><rect x="3098.9" y="2472.23" width="7.4" height="4.43" fill="#9e3027"/><rect x="3098.9" y="2476.26" width="7.4" height="4.43" fill="#a43a32"/><rect x="3098.9" y="2480.29" width="7.4" height="4.43" fill="#aa453c"/><rect x="3098.9" y="2484.32" width="7.4" height="4.43" fill="#af5046"/><rect x="3098.9" y="2488.35" width="7.4" height="4.43" fill="#b4594f"/><rect x="3098.9" y="2492.38" width="7.4" height="4.43" fill="#b96258"/><rect x="3098.9" y="2496.41" width="7.4" height="4.43" fill="#be6a61"/><rect x="3098.9" y="2500.44" width="7.4" height="4.43" fill="#c3736a"/><rect x="3098.9" y="2504.47" width="7.4" height="4.43" fill="#c87c73"/><rect x="3098.9" y="2508.50" width="7.4" height="4.43" fill="#cd867e"/><rect x="3098.9" y="2512.53" width="7.4" height="4.43" fill="#d2938b"/><rect x="3098.9" y="2516.56" width="7.4" height="4.43" fill="#d89f98"/><rect x="3098.9" y="2520.59" width="7.4" height="4.43" fill="#ddaba6"/><rect x="3098.9" y="2524.62" width="7.4" height="4.43" fill="#e2b8b3"/><rect x="3098.9" y="2528.65" width="7.4" height="4.43" fill="#e8c4c1"/><rect x="3098.9" y="2532.68" width="7.4" height="4.43" fill="#edd2cf"/><rect x="3098.9" y="2536.71" width="7.4" height="4.43" fill="#f2dedc"/><rect x="3098.9" y="2540.74" width="7.4" height="4.43" fill="#f7ecea"/><rect x="3098.9" y="2544.77" width="7.4" height="4.43" fill="#fcf8f8"/><rect x="3098.9" y="2548.80" width="7.4" height="4.43" fill="#f7f8fa"/><rect x="3098.9" y="2552.83" width="7.4" height="4.43" fill="#e8eaf1"/><rect x="3098.9" y="2556.86" width="7.4" height="4.43" fill="#d8dce7"/><rect x="3098.9" y="2560.89" width="7.4" height="4.43" fill="#c9cfdd"/><rect x="3098.9" y="2564.92" width="7.4" height="4.43" fill="#bac1d4"/><rect x="3098.9" y="2568.95" width="7.4" height="4.43" fill="#abb3ca"/><rect x="3098.9" y="2572.98" width="7.4" height="4.43" fill="#9ca6c0"/><rect x="3098.9" y="2577.01" width="7.4" height="4.43" fill="#8e99b6"/><rect x="3098.9" y="2581.04" width="7.4" height="4.43" fill="#7f8cac"/><rect x="3098.9" y="2585.07" width="7.4" height="4.43" fill="#707fa2"/><rect x="3098.9" y="2589.10" width="7.4" height="4.43" fill="#65749a"/><rect x="3098.9" y="2593.13" width="7.4" height="4.43" fill="#5e6d94"/><rect x="3098.9" y="2597.16" width="7.4" height="4.43" fill="#56668e"/><rect x="3098.9" y="2601.19" width="7.4" height="4.43" fill="#4f5f89"/><rect x="3098.9" y="2605.22" width="7.4" height="4.43" fill="#485883"/><rect x="3098.9" y="2609.25" width="7.4" height="4.43" fill="#40507c"/><rect x="3098.9" y="2613.28" width="7.4" height="4.43" fill="#374774"/><rect x="3098.9" y="2617.31" width="7.4" height="4.43" fill="#2e3e6c"/><rect x="3098.9" y="2621.34" width="7.4" height="4.43" fill="#253564"/><rect x="3098.9" y="2625.37" width="7.4" height="4.43" fill="#1c2c5c"/>
<text x="3108.9" y="2480.2" font-family="DejaVu Sans, sans-serif" font-size="4.5" text-anchor="start" fill="#111" >0.0</text>
<text x="3108.9" y="2503.7" font-family="DejaVu Sans, sans-serif" font-size="4.5" text-anchor="start" fill="#111" >0.0</text>
<text x="3108.9" y="2527.3" font-family="DejaVu Sans, sans-serif" font-size="4.5" text-anchor="start" fill="#111" >0.0</text>
<text x="3108.9" y="2550.8" font-family="DejaVu Sans, sans-serif" font-size="4.5" text-anchor="start" fill="#111" >0.0</text>
<text x="3108.9" y="2574.3" font-family="DejaVu Sans, sans-serif" font-size="4.5" text-anchor="start" fill="#111" >&#x2212;0.0</text>
<text x="3108.9" y="2597.9" font-family="DejaVu Sans, sans-serif" font-size="4.5" text-anchor="start" fill="#111" >&#x2212;0.0</text>
<text x="3108.9" y="2621.4" font-family="DejaVu Sans, sans-serif" font-size="4.5" text-anchor="start" fill="#111" >&#x2212;0.0</text>
<text x="3169.9" y="2465.0" font-family="DejaVu Sans, sans-serif" font-size="10.5" text-anchor="middle" fill="#111" >Head 2 OV</text>
<rect x="3149.8" y="2589.1" width="20.0" height="20.2" fill="#9c2b22"/>
<rect x="3169.9" y="2609.2" width="20.0" height="20.2" fill="#e0b2ad"/>
<line x1="3149.8" y1="2589.1" x2="3189.9" y2="2589.1" stroke="#2f7d1c" stroke-width="2.6" stroke-dasharray="8,5"/>
<line x1="3149.8" y1="2629.4" x2="3189.9" y2="2629.4" stroke="#888" stroke-width="0.6"/>
<text x="3145.8" y="2480.3" font-family="DejaVu Sans, sans-serif" font-size="5" text-anchor="end" fill="#111" >0&#x2013;</text>
<text x="3145.8" y="2500.4" font-family="DejaVu Sans, sans-serif" font-size="5" text-anchor="end" fill="#111" >1&#x2013;</text>
<text x="3145.8" y="2520.6" font-family="DejaVu Sans, sans-serif" font-size="5" text-anchor="end" fill="#111" >2&#x2013;</text>
<text x="3145.8" y="2540.7" font-family="DejaVu Sans, sans-serif" font-size="5" text-anchor="end" fill="#111" >3&#x2013;</text>
<text x="3145.8" y="2560.9" font-family="DejaVu Sans, sans-serif" font-size="5" text-anchor="end" fill="#111" >4&#x2013;</text>
<text x="3145.8" y="2581.0" font-family="DejaVu Sans, sans-serif" font-size="5" text-anchor="end" fill="#111" >5&#x2013;</text>
<text x="3145.8" y="2601.2" font-family="DejaVu Sans, sans-serif" font-size="5" text-anchor="end" fill="#111" >6&#x2013;</text>
<text x="3145.8" y="2621.3" font-family="DejaVu Sans, sans-serif" font-size="5" text-anchor="end" fill="#111" >7&#x2013;</text>
<rect x="3217.5" y="2468.20" width="6.4" height="4.43" fill="#99251d"/><rect x="3217.5" y="2472.23" width="6.4" height="4.43" fill="#9e3027"/><rect x="3217.5" y="2476.26" width="6.4" height="4.43" fill="#a43a32"/><rect x="3217.5" y="2480.29" width="6.4" height="4.43" fill="#aa453c"/><rect x="3217.5" y="2484.32" width="6.4" height="4.43" fill="#af5046"/><rect x="3217.5" y="2488.35" width="6.4" height="4.43" fill="#b4594f"/><rect x="3217.5" y="2492.38" width="6.4" height="4.43" fill="#b96258"/><rect x="3217.5" y="2496.41" width="6.4" height="4.43" fill="#be6a61"/><rect x="3217.5" y="2500.44" width="6.4" height="4.43" fill="#c3736a"/><rect x="3217.5" y="2504.47" width="6.4" height="4.43" fill="#c87c73"/><rect x="3217.5" y="2508.50" width="6.4" height="4.43" fill="#cd867e"/><rect x="3217.5" y="2512.53" width="6.4" height="4.43" fill="#d2938b"/><rect x="3217.5" y="2516.56" width="6.4" height="4.43" fill="#d89f98"/><rect x="3217.5" y="2520.59" width="6.4" height="4.43" fill="#ddaba6"/><rect x="3217.5" y="2524.62" width="6.4" height="4.43" fill="#e2b8b3"/><rect x="3217.5" y="2528.65" width="6.4" height="4.43" fill="#e8c4c1"/><rect x="3217.5" y="2532.68" width="6.4" height="4.43" fill="#edd2cf"/><rect x="3217.5" y="2536.71" width="6.4" height="4.43" fill="#f2dedc"/><rect x="3217.5" y="2540.74" width="6.4" height="4.43" fill="#f7ecea"/><rect x="3217.5" y="2544.77" width="6.4" height="4.43" fill="#fcf8f8"/><rect x="3217.5" y="2548.80" width="6.4" height="4.43" fill="#f7f8fa"/><rect x="3217.5" y="2552.83" width="6.4" height="4.43" fill="#e8eaf1"/><rect x="3217.5" y="2556.86" width="6.4" height="4.43" fill="#d8dce7"/><rect x="3217.5" y="2560.89" width="6.4" height="4.43" fill="#c9cfdd"/><rect x="3217.5" y="2564.92" width="6.4" height="4.43" fill="#bac1d4"/><rect x="3217.5" y="2568.95" width="6.4" height="4.43" fill="#abb3ca"/><rect x="3217.5" y="2572.98" width="6.4" height="4.43" fill="#9ca6c0"/><rect x="3217.5" y="2577.01" width="6.4" height="4.43" fill="#8e99b6"/><rect x="3217.5" y="2581.04" width="6.4" height="4.43" fill="#7f8cac"/><rect x="3217.5" y="2585.07" width="6.4" height="4.43" fill="#707fa2"/><rect x="3217.5" y="2589.10" width="6.4" height="4.43" fill="#65749a"/><rect x="3217.5" y="2593.13" width="6.4" height="4.43" fill="#5e6d94"/><rect x="3217.5" y="2597.16" width="6.4" height="4.43" fill="#56668e"/><rect x="3217.5" y="2601.19" width="6.4" height="4.43" fill="#4f5f89"/><rect x="3217.5" y="2605.22" width="6.4" height="4.43" fill="#485883"/><rect x="3217.5" y="2609.25" width="6.4" height="4.43" fill="#40507c"/><rect x="3217.5" y="2613.28" width="6.4" height="4.43" fill="#374774"/><rect x="3217.5" y="2617.31" width="6.4" height="4.43" fill="#2e3e6c"/><rect x="3217.5" y="2621.34" width="6.4" height="4.43" fill="#253564"/><rect x="3217.5" y="2625.37" width="6.4" height="4.43" fill="#1c2c5c"/>
<text x="3226.5" y="2490.2" font-family="DejaVu Sans, sans-serif" font-size="4.5" text-anchor="start" fill="#111" >4</text>
<text x="3226.5" y="2520.5" font-family="DejaVu Sans, sans-serif" font-size="4.5" text-anchor="start" fill="#111" >2</text>
<text x="3226.5" y="2550.8" font-family="DejaVu Sans, sans-serif" font-size="4.5" text-anchor="start" fill="#111" >0</text>
<text x="3226.5" y="2581.1" font-family="DejaVu Sans, sans-serif" font-size="4.5" text-anchor="start" fill="#111" >&#x2212;2</text>
<text x="3226.5" y="2611.4" font-family="DejaVu Sans, sans-serif" font-size="4.5" text-anchor="start" fill="#111" >&#x2212;4</text>
<text x="3338.5" y="2465.0" font-family="DejaVu Sans, sans-serif" font-size="10.5" text-anchor="middle" fill="#111" >Head 3 QK</text>
<rect x="3258.10" y="2468.20" width="20.40" height="20.45" fill="#182858"/><rect x="3278.20" y="2468.20" width="20.40" height="20.45" fill="#fdfaf9"/><rect x="3298.30" y="2468.20" width="20.40" height="20.45" fill="#fafbfc"/><rect x="3318.40" y="2468.20" width="20.40" height="20.45" fill="#fdfbfa"/><rect x="3338.50" y="2468.20" width="20.40" height="20.45" fill="#fefefe"/><rect x="3358.60" y="2468.20" width="20.40" height="20.45" fill="#fefefe"/><rect x="3398.80" y="2468.20" width="20.40" height="20.45" fill="#b55a50"/><rect x="3278.20" y="2488.35" width="20.40" height="20.45" fill="#182858"/><rect x="3298.30" y="2488.35" width="20.40" height="20.45" fill="#fdfafa"/><rect x="3338.50" y="2488.35" width="20.40" height="20.45" fill="#fefcfc"/><rect x="3358.60" y="2488.35" width="20.40" height="20.45" fill="#fafbfc"/><rect x="3378.70" y="2488.35" width="20.40" height="20.45" fill="#bf6d63"/><rect x="3398.80" y="2488.35" width="20.40" height="20.45" fill="#d08e86"/><rect x="3258.10" y="2508.50" width="20.40" height="20.45" fill="#f8f9fb"/><rect x="3278.20" y="2508.50" width="20.40" height="20.45" fill="#f7f8fa"/><rect x="3298.30" y="2508.50" width="20.40" height="20.45" fill="#eed4d1"/><rect x="3318.40" y="2508.50" width="20.40" height="20.45" fill="#fefefe"/><rect x="3338.50" y="2508.50" width="20.40" height="20.45" fill="#fefefe"/><rect x="3358.60" y="2508.50" width="20.40" height="20.45" fill="#fdfefe"/><rect x="3378.70" y="2508.50" width="20.40" height="20.45" fill="#e8c5c2"/><rect x="3398.80" y="2508.50" width="20.40" height="20.45" fill="#eef0f4"/><rect x="3278.20" y="2528.65" width="20.40" height="20.45" fill="#fffefe"/><rect x="3298.30" y="2528.65" width="20.40" height="20.45" fill="#fefcfc"/><rect x="3318.40" y="2528.65" width="20.40" height="20.45" fill="#e8c5c2"/><rect x="3338.50" y="2528.65" width="20.40" height="20.45" fill="#fdfdfe"/><rect x="3358.60" y="2528.65" width="20.40" height="20.45" fill="#f5f6f9"/><rect x="3258.10" y="2548.80" width="20.40" height="20.45" fill="#f8f8fa"/><rect x="3278.20" y="2548.80" width="20.40" height="20.45" fill="#fdfafa"/><rect x="3298.30" y="2548.80" width="20.40" height="20.45" fill="#f4f5f8"/><rect x="3318.40" y="2548.80" width="20.40" height="20.45" fill="#fefcfb"/><rect x="3338.50" y="2548.80" width="20.40" height="20.45" fill="#9c2c23"/><rect x="3358.60" y="2548.80" width="20.40" height="20.45" fill="#fdfefe"/><rect x="3378.70" y="2548.80" width="20.40" height="20.45" fill="#dca9a4"/><rect x="3398.80" y="2548.80" width="20.40" height="20.45" fill="#f3e2e0"/><rect x="3258.10" y="2568.95" width="20.40" height="20.45" fill="#fdfafa"/><rect x="3278.20" y="2568.95" width="20.40" height="20.45" fill="#fefefe"/><rect x="3298.30" y="2568.95" width="20.40" height="20.45" fill="#fcfcfd"/><rect x="3318.40" y="2568.95" width="20.40" height="20.45" fill="#fcfcfd"/><rect x="3338.50" y="2568.95" width="20.40" height="20.45" fill="#fafafc"/><rect x="3358.60" y="2568.95" width="20.40" height="20.45" fill="#9c2c23"/><rect x="3378.70" y="2568.95" width="20.40" height="20.45" fill="#ccd1df"/><rect x="3398.80" y="2568.95" width="20.40" height="20.45" fill="#485883"/><rect x="3258.10" y="2589.10" width="20.40" height="20.45" fill="#f5f6f9"/><rect x="3278.20" y="2589.10" width="20.40" height="20.45" fill="#f9fafc"/><rect x="3298.30" y="2589.10" width="20.40" height="20.45" fill="#fafbfc"/><rect x="3318.40" y="2589.10" width="20.40" height="20.45" fill="#f4f5f8"/><rect x="3338.50" y="2589.10" width="20.40" height="20.45" fill="#fcf7f6"/><rect x="3358.60" y="2589.10" width="20.40" height="20.45" fill="#f3f4f7"/><rect x="3378.70" y="2589.10" width="20.40" height="20.45" fill="#fefefe"/><rect x="3398.80" y="2589.10" width="20.40" height="20.45" fill="#fcfdfd"/><rect x="3258.10" y="2609.25" width="20.40" height="20.45" fill="#fcf8f7"/><rect x="3278.20" y="2609.25" width="20.40" height="20.45" fill="#f5f6f9"/><rect x="3298.30" y="2609.25" width="20.40" height="20.45" fill="#fdfafa"/><rect x="3318.40" y="2609.25" width="20.40" height="20.45" fill="#fbfcfd"/><rect x="3338.50" y="2609.25" width="20.40" height="20.45" fill="#fefeff"/><rect x="3358.60" y="2609.25" width="20.40" height="20.45" fill="#fcfcfd"/><rect x="3378.70" y="2609.25" width="20.40" height="20.45" fill="#fefcfc"/><rect x="3398.80" y="2609.25" width="20.40" height="20.45" fill="#f9fafb"/><rect x="3258.1" y="2468.2" width="160.80000000000018" height="161.20000000000027" fill="none" stroke="#555" stroke-width="0.8"/>
<line x1="3258.1" y1="2589.1" x2="3418.9" y2="2589.1" stroke="#2f7d1c" stroke-width="2.6" stroke-dasharray="8,5"/>
<line x1="3378.7" y1="2468.2" x2="3378.7" y2="2629.4" stroke="#2f7d1c" stroke-width="2.6" stroke-dasharray="8,5"/>
<text x="3252.1" y="2480.3" font-family="DejaVu Sans, sans-serif" font-size="5" text-anchor="end" fill="#111" >0</text>
<text x="3268.2" y="2638.4" font-family="DejaVu Sans, sans-serif" font-size="5" text-anchor="middle" fill="#111" >0</text>
<text x="3252.1" y="2500.4" font-family="DejaVu Sans, sans-serif" font-size="5" text-anchor="end" fill="#111" >1</text>
<text x="3288.2" y="2638.4" font-family="DejaVu Sans, sans-serif" font-size="5" text-anchor="middle" fill="#111" >1</text>
<text x="3252.1" y="2520.6" font-family="DejaVu Sans, sans-serif" font-size="5" text-anchor="end" fill="#111" >2</text>
<text x="3308.3" y="2638.4" font-family="DejaVu Sans, sans-serif" font-size="5" text-anchor="middle" fill="#111" >2</text>
<text x="3252.1" y="2540.7" font-family="DejaVu Sans, sans-serif" font-size="5" text-anchor="end" fill="#111" >3</text>
<text x="3328.4" y="2638.4" font-family="DejaVu Sans, sans-serif" font-size="5" text-anchor="middle" fill="#111" >3</text>
<text x="3252.1" y="2560.9" font-family="DejaVu Sans, sans-serif" font-size="5" text-anchor="end" fill="#111" >4</text>
<text x="3348.6" y="2638.4" font-family="DejaVu Sans, sans-serif" font-size="5" text-anchor="middle" fill="#111" >4</text>
<text x="3252.1" y="2581.0" font-family="DejaVu Sans, sans-serif" font-size="5" text-anchor="end" fill="#111" >5</text>
<text x="3368.7" y="2638.4" font-family="DejaVu Sans, sans-serif" font-size="5" text-anchor="middle" fill="#111" >5</text>
<text x="3252.1" y="2601.2" font-family="DejaVu Sans, sans-serif" font-size="5" text-anchor="end" fill="#111" >6</text>
<text x="3388.8" y="2638.4" font-family="DejaVu Sans, sans-serif" font-size="5" text-anchor="middle" fill="#111" >6</text>
<text x="3252.1" y="2621.3" font-family="DejaVu Sans, sans-serif" font-size="5" text-anchor="end" fill="#111" >7</text>
<text x="3408.8" y="2638.4" font-family="DejaVu Sans, sans-serif" font-size="5" text-anchor="middle" fill="#111" >7</text>
<rect x="3447.5" y="2468.20" width="7.4" height="4.43" fill="#99251d"/><rect x="3447.5" y="2472.23" width="7.4" height="4.43" fill="#9e3027"/><rect x="3447.5" y="2476.26" width="7.4" height="4.43" fill="#a43a32"/><rect x="3447.5" y="2480.29" width="7.4" height="4.43" fill="#aa453c"/><rect x="3447.5" y="2484.32" width="7.4" height="4.43" fill="#af5046"/><rect x="3447.5" y="2488.35" width="7.4" height="4.43" fill="#b4594f"/><rect x="3447.5" y="2492.38" width="7.4" height="4.43" fill="#b96258"/><rect x="3447.5" y="2496.41" width="7.4" height="4.43" fill="#be6a61"/><rect x="3447.5" y="2500.44" width="7.4" height="4.43" fill="#c3736a"/><rect x="3447.5" y="2504.47" width="7.4" height="4.43" fill="#c87c73"/><rect x="3447.5" y="2508.50" width="7.4" height="4.43" fill="#cd867e"/><rect x="3447.5" y="2512.53" width="7.4" height="4.43" fill="#d2938b"/><rect x="3447.5" y="2516.56" width="7.4" height="4.43" fill="#d89f98"/><rect x="3447.5" y="2520.59" width="7.4" height="4.43" fill="#ddaba6"/><rect x="3447.5" y="2524.62" width="7.4" height="4.43" fill="#e2b8b3"/><rect x="3447.5" y="2528.65" width="7.4" height="4.43" fill="#e8c4c1"/><rect x="3447.5" y="2532.68" width="7.4" height="4.43" fill="#edd2cf"/><rect x="3447.5" y="2536.71" width="7.4" height="4.43" fill="#f2dedc"/><rect x="3447.5" y="2540.74" width="7.4" height="4.43" fill="#f7ecea"/><rect x="3447.5" y="2544.77" width="7.4" height="4.43" fill="#fcf8f8"/><rect x="3447.5" y="2548.80" width="7.4" height="4.43" fill="#f7f8fa"/><rect x="3447.5" y="2552.83" width="7.4" height="4.43" fill="#e8eaf1"/><rect x="3447.5" y="2556.86" width="7.4" height="4.43" fill="#d8dce7"/><rect x="3447.5" y="2560.89" width="7.4" height="4.43" fill="#c9cfdd"/><rect x="3447.5" y="2564.92" width="7.4" height="4.43" fill="#bac1d4"/><rect x="3447.5" y="2568.95" width="7.4" height="4.43" fill="#abb3ca"/><rect x="3447.5" y="2572.98" width="7.4" height="4.43" fill="#9ca6c0"/><rect x="3447.5" y="2577.01" width="7.4" height="4.43" fill="#8e99b6"/><rect x="3447.5" y="2581.04" width="7.4" height="4.43" fill="#7f8cac"/><rect x="3447.5" y="2585.07" width="7.4" height="4.43" fill="#707fa2"/><rect x="3447.5" y="2589.10" width="7.4" height="4.43" fill="#65749a"/><rect x="3447.5" y="2593.13" width="7.4" height="4.43" fill="#5e6d94"/><rect x="3447.5" y="2597.16" width="7.4" height="4.43" fill="#56668e"/><rect x="3447.5" y="2601.19" width="7.4" height="4.43" fill="#4f5f89"/><rect x="3447.5" y="2605.22" width="7.4" height="4.43" fill="#485883"/><rect x="3447.5" y="2609.25" width="7.4" height="4.43" fill="#40507c"/><rect x="3447.5" y="2613.28" width="7.4" height="4.43" fill="#374774"/><rect x="3447.5" y="2617.31" width="7.4" height="4.43" fill="#2e3e6c"/><rect x="3447.5" y="2621.34" width="7.4" height="4.43" fill="#253564"/><rect x="3447.5" y="2625.37" width="7.4" height="4.43" fill="#1c2c5c"/>
<text x="3457.5" y="2480.2" font-family="DejaVu Sans, sans-serif" font-size="4.5" text-anchor="start" fill="#111" >0.0</text>
<text x="3457.5" y="2503.7" font-family="DejaVu Sans, sans-serif" font-size="4.5" text-anchor="start" fill="#111" >0.0</text>
<text x="3457.5" y="2527.3" font-family="DejaVu Sans, sans-serif" font-size="4.5" text-anchor="start" fill="#111" >0.0</text>
<text x="3457.5" y="2550.8" font-family="DejaVu Sans, sans-serif" font-size="4.5" text-anchor="start" fill="#111" >0.0</text>
<text x="3457.5" y="2574.3" font-family="DejaVu Sans, sans-serif" font-size="4.5" text-anchor="start" fill="#111" >&#x2212;0.0</text>
<text x="3457.5" y="2597.9" font-family="DejaVu Sans, sans-serif" font-size="4.5" text-anchor="start" fill="#111" >&#x2212;0.0</text>
<text x="3457.5" y="2621.4" font-family="DejaVu Sans, sans-serif" font-size="4.5" text-anchor="start" fill="#111" >&#x2212;0.0</text>
<text x="3521.5" y="2465.0" font-family="DejaVu Sans, sans-serif" font-size="10.5" text-anchor="middle" fill="#111" >Head 3 OV</text>
<rect x="3501.0" y="2589.1" width="20.5" height="20.2" fill="#69789d"/>
<rect x="3521.5" y="2609.2" width="20.5" height="20.2" fill="#9c2b22"/>
<line x1="3501" y1="2589.1" x2="3542" y2="2589.1" stroke="#2f7d1c" stroke-width="2.6" stroke-dasharray="8,5"/>
<line x1="3501" y1="2629.4" x2="3542" y2="2629.4" stroke="#888" stroke-width="0.6"/>
<text x="3497.0" y="2480.3" font-family="DejaVu Sans, sans-serif" font-size="5" text-anchor="end" fill="#111" >0&#x2013;</text>
<text x="3497.0" y="2500.4" font-family="DejaVu Sans, sans-serif" font-size="5" text-anchor="end" fill="#111" >1&#x2013;</text>
<text x="3497.0" y="2520.6" font-family="DejaVu Sans, sans-serif" font-size="5" text-anchor="end" fill="#111" >2&#x2013;</text>
<text x="3497.0" y="2540.7" font-family="DejaVu Sans, sans-serif" font-size="5" text-anchor="end" fill="#111" >3&#x2013;</text>
<text x="3497.0" y="2560.9" font-family="DejaVu Sans, sans-serif" font-size="5" text-anchor="end" fill="#111" >4&#x2013;</text>
<text x="3497.0" y="2581.0" font-family="DejaVu Sans, sans-serif" font-size="5" text-anchor="end" fill="#111" >5&#x2013;</text>
<text x="3497.0" y="2601.2" font-family="DejaVu Sans, sans-serif" font-size="5" text-anchor="end" fill="#111" >6&#x2013;</text>
<text x="3497.0" y="2621.3" font-family="DejaVu Sans, sans-serif" font-size="5" text-anchor="end" fill="#111" >7&#x2013;</text>
<rect x="3569.7" y="2468.20" width="6.4" height="4.43" fill="#99251d"/><rect x="3569.7" y="2472.23" width="6.4" height="4.43" fill="#9e3027"/><rect x="3569.7" y="2476.26" width="6.4" height="4.43" fill="#a43a32"/><rect x="3569.7" y="2480.29" width="6.4" height="4.43" fill="#aa453c"/><rect x="3569.7" y="2484.32" width="6.4" height="4.43" fill="#af5046"/><rect x="3569.7" y="2488.35" width="6.4" height="4.43" fill="#b4594f"/><rect x="3569.7" y="2492.38" width="6.4" height="4.43" fill="#b96258"/><rect x="3569.7" y="2496.41" width="6.4" height="4.43" fill="#be6a61"/><rect x="3569.7" y="2500.44" width="6.4" height="4.43" fill="#c3736a"/><rect x="3569.7" y="2504.47" width="6.4" height="4.43" fill="#c87c73"/><rect x="3569.7" y="2508.50" width="6.4" height="4.43" fill="#cd867e"/><rect x="3569.7" y="2512.53" width="6.4" height="4.43" fill="#d2938b"/><rect x="3569.7" y="2516.56" width="6.4" height="4.43" fill="#d89f98"/><rect x="3569.7" y="2520.59" width="6.4" height="4.43" fill="#ddaba6"/><rect x="3569.7" y="2524.62" width="6.4" height="4.43" fill="#e2b8b3"/><rect x="3569.7" y="2528.65" width="6.4" height="4.43" fill="#e8c4c1"/><rect x="3569.7" y="2532.68" width="6.4" height="4.43" fill="#edd2cf"/><rect x="3569.7" y="2536.71" width="6.4" height="4.43" fill="#f2dedc"/><rect x="3569.7" y="2540.74" width="6.4" height="4.43" fill="#f7ecea"/><rect x="3569.7" y="2544.77" width="6.4" height="4.43" fill="#fcf8f8"/><rect x="3569.7" y="2548.80" width="6.4" height="4.43" fill="#f7f8fa"/><rect x="3569.7" y="2552.83" width="6.4" height="4.43" fill="#e8eaf1"/><rect x="3569.7" y="2556.86" width="6.4" height="4.43" fill="#d8dce7"/><rect x="3569.7" y="2560.89" width="6.4" height="4.43" fill="#c9cfdd"/><rect x="3569.7" y="2564.92" width="6.4" height="4.43" fill="#bac1d4"/><rect x="3569.7" y="2568.95" width="6.4" height="4.43" fill="#abb3ca"/><rect x="3569.7" y="2572.98" width="6.4" height="4.43" fill="#9ca6c0"/><rect x="3569.7" y="2577.01" width="6.4" height="4.43" fill="#8e99b6"/><rect x="3569.7" y="2581.04" width="6.4" height="4.43" fill="#7f8cac"/><rect x="3569.7" y="2585.07" width="6.4" height="4.43" fill="#707fa2"/><rect x="3569.7" y="2589.10" width="6.4" height="4.43" fill="#65749a"/><rect x="3569.7" y="2593.13" width="6.4" height="4.43" fill="#5e6d94"/><rect x="3569.7" y="2597.16" width="6.4" height="4.43" fill="#56668e"/><rect x="3569.7" y="2601.19" width="6.4" height="4.43" fill="#4f5f89"/><rect x="3569.7" y="2605.22" width="6.4" height="4.43" fill="#485883"/><rect x="3569.7" y="2609.25" width="6.4" height="4.43" fill="#40507c"/><rect x="3569.7" y="2613.28" width="6.4" height="4.43" fill="#374774"/><rect x="3569.7" y="2617.31" width="6.4" height="4.43" fill="#2e3e6c"/><rect x="3569.7" y="2621.34" width="6.4" height="4.43" fill="#253564"/><rect x="3569.7" y="2625.37" width="6.4" height="4.43" fill="#1c2c5c"/>
<text x="3578.7" y="2490.2" font-family="DejaVu Sans, sans-serif" font-size="4.5" text-anchor="start" fill="#111" >4</text>
<text x="3578.7" y="2520.5" font-family="DejaVu Sans, sans-serif" font-size="4.5" text-anchor="start" fill="#111" >2</text>
<text x="3578.7" y="2550.8" font-family="DejaVu Sans, sans-serif" font-size="4.5" text-anchor="start" fill="#111" >0</text>
<text x="3578.7" y="2581.1" font-family="DejaVu Sans, sans-serif" font-size="4.5" text-anchor="start" fill="#111" >&#x2212;2</text>
<text x="3578.7" y="2611.4" font-family="DejaVu Sans, sans-serif" font-size="4.5" text-anchor="start" fill="#111" >&#x2212;4</text>
</svg></body></html>
